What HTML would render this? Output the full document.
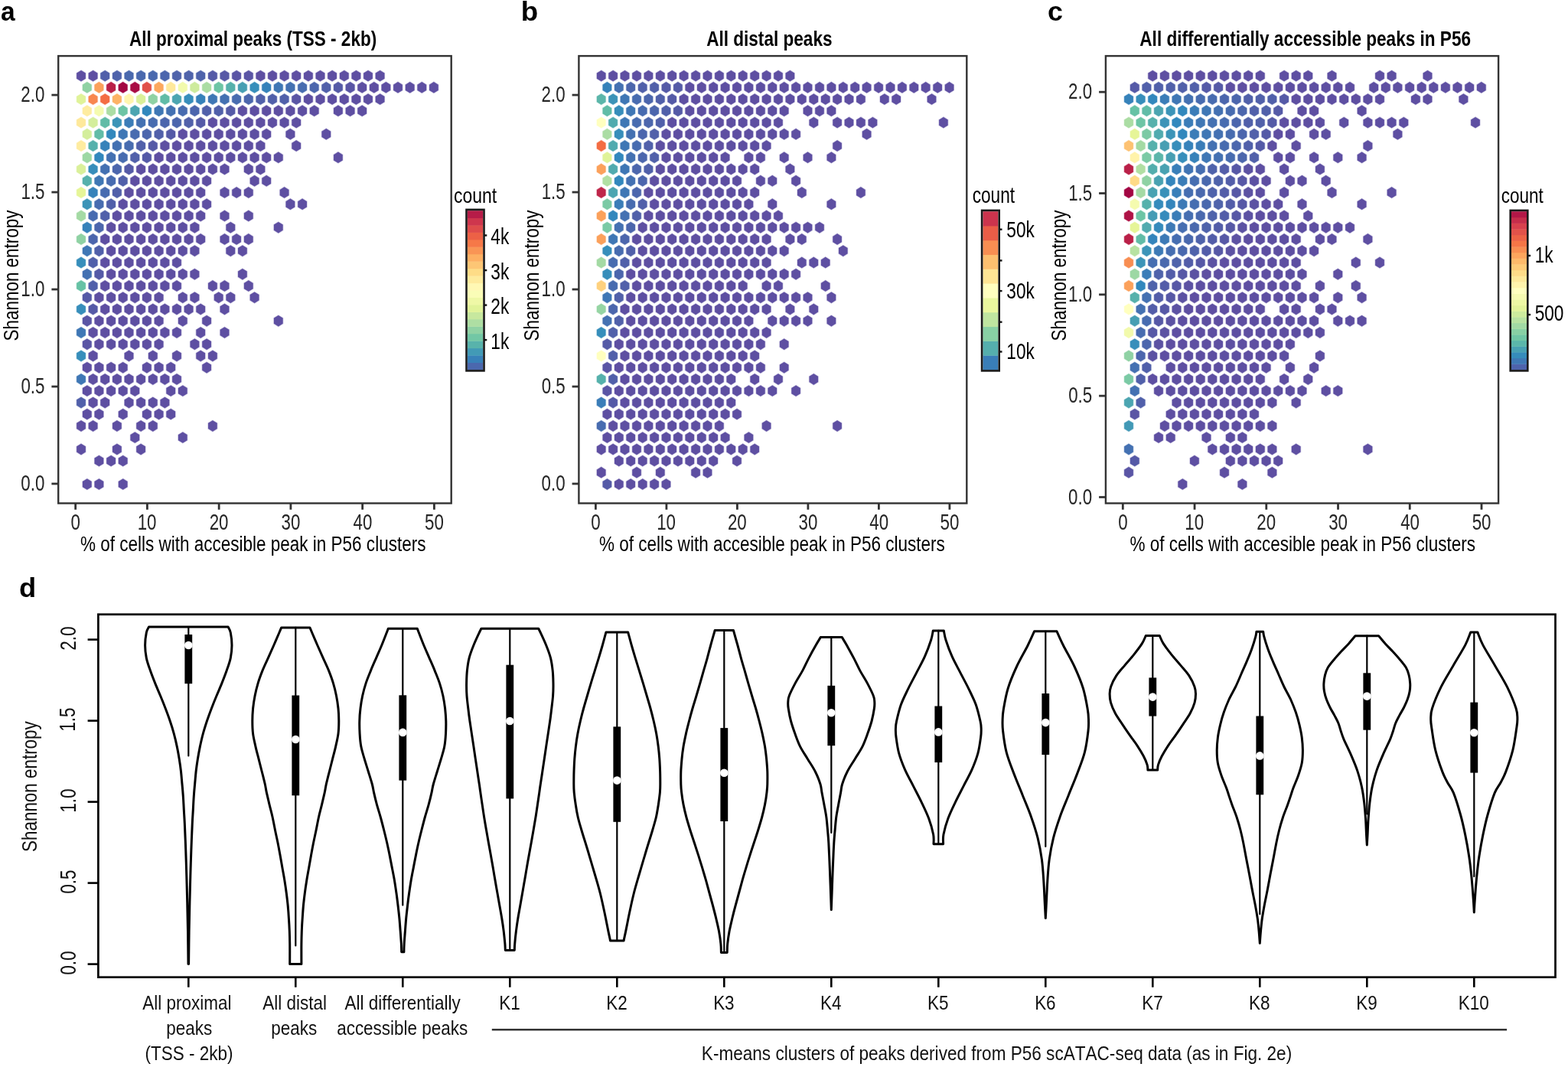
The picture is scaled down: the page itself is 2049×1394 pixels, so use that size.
<!DOCTYPE html>
<html><head><meta charset="utf-8"><title>Figure</title>
<style>html,body{margin:0;padding:0;background:#fff;}svg{display:block;}
text{font-family:"Liberation Sans",Arial,sans-serif;font-kerning:none;}</style></head>
<body><svg width="2049" height="1394" viewBox="0 0 2049 1394">
<rect width="2049" height="1394" fill="#fff"/>
<text x="0.92" y="27.46" font-size="34.77" textLength="18.67" lengthAdjust="spacingAndGlyphs" font-weight="bold">a</text>
<text x="680.88" y="27.46" font-size="34.93" textLength="22.43" lengthAdjust="spacingAndGlyphs" font-weight="bold">b</text>
<text x="1369.10" y="27.46" font-size="34.68" textLength="19.95" lengthAdjust="spacingAndGlyphs" font-weight="bold">c</text>
<text x="25.11" y="780.36" font-size="34.59" textLength="22.18" lengthAdjust="spacingAndGlyphs" font-weight="bold">d</text>
<g stroke-width="1.3" stroke-opacity="0.35"><path d="M106.0 91.9l5.86 3.61 0 7.22 -5.86 3.61 -5.86 -3.61 0 -7.22z" fill="#5e4fa2" stroke="#5e4fa2"/>
<path d="M121.6 91.9l5.86 3.61 0 7.22 -5.86 3.61 -5.86 -3.61 0 -7.22z" fill="#5e4fa2" stroke="#5e4fa2"/>
<path d="M137.2 91.9l5.86 3.61 0 7.22 -5.86 3.61 -5.86 -3.61 0 -7.22z" fill="#5160aa" stroke="#5160aa"/>
<path d="M152.9 91.9l5.86 3.61 0 7.22 -5.86 3.61 -5.86 -3.61 0 -7.22z" fill="#4f63ab" stroke="#4f63ab"/>
<path d="M168.5 91.9l5.86 3.61 0 7.22 -5.86 3.61 -5.86 -3.61 0 -7.22z" fill="#4a69ae" stroke="#4a69ae"/>
<path d="M184.1 91.9l5.86 3.61 0 7.22 -5.86 3.61 -5.86 -3.61 0 -7.22z" fill="#4a69ae" stroke="#4a69ae"/>
<path d="M199.8 91.9l5.86 3.61 0 7.22 -5.86 3.61 -5.86 -3.61 0 -7.22z" fill="#4a69ae" stroke="#4a69ae"/>
<path d="M215.4 91.9l5.86 3.61 0 7.22 -5.86 3.61 -5.86 -3.61 0 -7.22z" fill="#4c66ad" stroke="#4c66ad"/>
<path d="M231.0 91.9l5.86 3.61 0 7.22 -5.86 3.61 -5.86 -3.61 0 -7.22z" fill="#4f63ab" stroke="#4f63ab"/>
<path d="M246.6 91.9l5.86 3.61 0 7.22 -5.86 3.61 -5.86 -3.61 0 -7.22z" fill="#4f63ab" stroke="#4f63ab"/>
<path d="M262.2 91.9l5.86 3.61 0 7.22 -5.86 3.61 -5.86 -3.61 0 -7.22z" fill="#4f63ab" stroke="#4f63ab"/>
<path d="M277.9 91.9l5.86 3.61 0 7.22 -5.86 3.61 -5.86 -3.61 0 -7.22z" fill="#555aa7" stroke="#555aa7"/>
<path d="M293.5 91.9l5.86 3.61 0 7.22 -5.86 3.61 -5.86 -3.61 0 -7.22z" fill="#5758a6" stroke="#5758a6"/>
<path d="M309.1 91.9l5.86 3.61 0 7.22 -5.86 3.61 -5.86 -3.61 0 -7.22z" fill="#5a55a5" stroke="#5a55a5"/>
<path d="M324.8 91.9l5.86 3.61 0 7.22 -5.86 3.61 -5.86 -3.61 0 -7.22z" fill="#5a55a5" stroke="#5a55a5"/>
<path d="M340.4 91.9l5.86 3.61 0 7.22 -5.86 3.61 -5.86 -3.61 0 -7.22z" fill="#5e4fa2" stroke="#5e4fa2"/>
<path d="M356.0 91.9l5.86 3.61 0 7.22 -5.86 3.61 -5.86 -3.61 0 -7.22z" fill="#5e4fa2" stroke="#5e4fa2"/>
<path d="M371.6 91.9l5.86 3.61 0 7.22 -5.86 3.61 -5.86 -3.61 0 -7.22z" fill="#5e4fa2" stroke="#5e4fa2"/>
<path d="M387.2 91.9l5.86 3.61 0 7.22 -5.86 3.61 -5.86 -3.61 0 -7.22z" fill="#5e4fa2" stroke="#5e4fa2"/>
<path d="M402.9 91.9l5.86 3.61 0 7.22 -5.86 3.61 -5.86 -3.61 0 -7.22z" fill="#5e4fa2" stroke="#5e4fa2"/>
<path d="M418.5 91.9l5.86 3.61 0 7.22 -5.86 3.61 -5.86 -3.61 0 -7.22z" fill="#5e4fa2" stroke="#5e4fa2"/>
<path d="M434.1 91.9l5.86 3.61 0 7.22 -5.86 3.61 -5.86 -3.61 0 -7.22z" fill="#5e4fa2" stroke="#5e4fa2"/>
<path d="M449.8 91.9l5.86 3.61 0 7.22 -5.86 3.61 -5.86 -3.61 0 -7.22z" fill="#5e4fa2" stroke="#5e4fa2"/>
<path d="M465.4 91.9l5.86 3.61 0 7.22 -5.86 3.61 -5.86 -3.61 0 -7.22z" fill="#5e4fa2" stroke="#5e4fa2"/>
<path d="M481.0 91.9l5.86 3.61 0 7.22 -5.86 3.61 -5.86 -3.61 0 -7.22z" fill="#5e4fa2" stroke="#5e4fa2"/>
<path d="M496.6 91.9l5.86 3.61 0 7.22 -5.86 3.61 -5.86 -3.61 0 -7.22z" fill="#5e4fa2" stroke="#5e4fa2"/>
<path d="M113.8 107.1l5.86 3.61 0 7.22 -5.86 3.61 -5.86 -3.61 0 -7.22z" fill="#8fd2a4" stroke="#8fd2a4"/>
<path d="M129.4 107.1l5.86 3.61 0 7.22 -5.86 3.61 -5.86 -3.61 0 -7.22z" fill="#fba15b" stroke="#fba15b"/>
<path d="M145.1 107.1l5.86 3.61 0 7.22 -5.86 3.61 -5.86 -3.61 0 -7.22z" fill="#ba2048" stroke="#ba2048"/>
<path d="M160.7 107.1l5.86 3.61 0 7.22 -5.86 3.61 -5.86 -3.61 0 -7.22z" fill="#a30743" stroke="#a30743"/>
<path d="M176.3 107.1l5.86 3.61 0 7.22 -5.86 3.61 -5.86 -3.61 0 -7.22z" fill="#a90d45" stroke="#a90d45"/>
<path d="M191.9 107.1l5.86 3.61 0 7.22 -5.86 3.61 -5.86 -3.61 0 -7.22z" fill="#e1514a" stroke="#e1514a"/>
<path d="M207.6 107.1l5.86 3.61 0 7.22 -5.86 3.61 -5.86 -3.61 0 -7.22z" fill="#fca85e" stroke="#fca85e"/>
<path d="M223.2 107.1l5.86 3.61 0 7.22 -5.86 3.61 -5.86 -3.61 0 -7.22z" fill="#fee99b" stroke="#fee99b"/>
<path d="M238.8 107.1l5.86 3.61 0 7.22 -5.86 3.61 -5.86 -3.61 0 -7.22z" fill="#f2faac" stroke="#f2faac"/>
<path d="M254.4 107.1l5.86 3.61 0 7.22 -5.86 3.61 -5.86 -3.61 0 -7.22z" fill="#ceeb9d" stroke="#ceeb9d"/>
<path d="M270.1 107.1l5.86 3.61 0 7.22 -5.86 3.61 -5.86 -3.61 0 -7.22z" fill="#abdda4" stroke="#abdda4"/>
<path d="M285.7 107.1l5.86 3.61 0 7.22 -5.86 3.61 -5.86 -3.61 0 -7.22z" fill="#6dc5a5" stroke="#6dc5a5"/>
<path d="M301.3 107.1l5.86 3.61 0 7.22 -5.86 3.61 -5.86 -3.61 0 -7.22z" fill="#56b1ac" stroke="#56b1ac"/>
<path d="M316.9 107.1l5.86 3.61 0 7.22 -5.86 3.61 -5.86 -3.61 0 -7.22z" fill="#479fb3" stroke="#479fb3"/>
<path d="M332.6 107.1l5.86 3.61 0 7.22 -5.86 3.61 -5.86 -3.61 0 -7.22z" fill="#378ebb" stroke="#378ebb"/>
<path d="M348.2 107.1l5.86 3.61 0 7.22 -5.86 3.61 -5.86 -3.61 0 -7.22z" fill="#3682ba" stroke="#3682ba"/>
<path d="M363.8 107.1l5.86 3.61 0 7.22 -5.86 3.61 -5.86 -3.61 0 -7.22z" fill="#3f77b5" stroke="#3f77b5"/>
<path d="M379.4 107.1l5.86 3.61 0 7.22 -5.86 3.61 -5.86 -3.61 0 -7.22z" fill="#4471b2" stroke="#4471b2"/>
<path d="M395.1 107.1l5.86 3.61 0 7.22 -5.86 3.61 -5.86 -3.61 0 -7.22z" fill="#486cb0" stroke="#486cb0"/>
<path d="M410.7 107.1l5.86 3.61 0 7.22 -5.86 3.61 -5.86 -3.61 0 -7.22z" fill="#4c66ad" stroke="#4c66ad"/>
<path d="M426.3 107.1l5.86 3.61 0 7.22 -5.86 3.61 -5.86 -3.61 0 -7.22z" fill="#5160aa" stroke="#5160aa"/>
<path d="M441.9 107.1l5.86 3.61 0 7.22 -5.86 3.61 -5.86 -3.61 0 -7.22z" fill="#555aa7" stroke="#555aa7"/>
<path d="M457.6 107.1l5.86 3.61 0 7.22 -5.86 3.61 -5.86 -3.61 0 -7.22z" fill="#5a55a5" stroke="#5a55a5"/>
<path d="M473.2 107.1l5.86 3.61 0 7.22 -5.86 3.61 -5.86 -3.61 0 -7.22z" fill="#5e4fa2" stroke="#5e4fa2"/>
<path d="M488.8 107.1l5.86 3.61 0 7.22 -5.86 3.61 -5.86 -3.61 0 -7.22z" fill="#5e4fa2" stroke="#5e4fa2"/>
<path d="M504.4 107.1l5.86 3.61 0 7.22 -5.86 3.61 -5.86 -3.61 0 -7.22z" fill="#5e4fa2" stroke="#5e4fa2"/>
<path d="M520.0 107.1l5.86 3.61 0 7.22 -5.86 3.61 -5.86 -3.61 0 -7.22z" fill="#5e4fa2" stroke="#5e4fa2"/>
<path d="M535.7 107.1l5.86 3.61 0 7.22 -5.86 3.61 -5.86 -3.61 0 -7.22z" fill="#5e4fa2" stroke="#5e4fa2"/>
<path d="M551.3 107.1l5.86 3.61 0 7.22 -5.86 3.61 -5.86 -3.61 0 -7.22z" fill="#5e4fa2" stroke="#5e4fa2"/>
<path d="M566.9 107.1l5.86 3.61 0 7.22 -5.86 3.61 -5.86 -3.61 0 -7.22z" fill="#5e4fa2" stroke="#5e4fa2"/>
<path d="M106.0 122.4l5.86 3.61 0 7.22 -5.86 3.61 -5.86 -3.61 0 -7.22z" fill="#e0f399" stroke="#e0f399"/>
<path d="M121.6 122.4l5.86 3.61 0 7.22 -5.86 3.61 -5.86 -3.61 0 -7.22z" fill="#f8874f" stroke="#f8874f"/>
<path d="M137.2 122.4l5.86 3.61 0 7.22 -5.86 3.61 -5.86 -3.61 0 -7.22z" fill="#f46d43" stroke="#f46d43"/>
<path d="M152.9 122.4l5.86 3.61 0 7.22 -5.86 3.61 -5.86 -3.61 0 -7.22z" fill="#fdb365" stroke="#fdb365"/>
<path d="M168.5 122.4l5.86 3.61 0 7.22 -5.86 3.61 -5.86 -3.61 0 -7.22z" fill="#fff6af" stroke="#fff6af"/>
<path d="M184.1 122.4l5.86 3.61 0 7.22 -5.86 3.61 -5.86 -3.61 0 -7.22z" fill="#daf09a" stroke="#daf09a"/>
<path d="M199.8 122.4l5.86 3.61 0 7.22 -5.86 3.61 -5.86 -3.61 0 -7.22z" fill="#8fd2a4" stroke="#8fd2a4"/>
<path d="M215.4 122.4l5.86 3.61 0 7.22 -5.86 3.61 -5.86 -3.61 0 -7.22z" fill="#61bca7" stroke="#61bca7"/>
<path d="M231.0 122.4l5.86 3.61 0 7.22 -5.86 3.61 -5.86 -3.61 0 -7.22z" fill="#4ca5b1" stroke="#4ca5b1"/>
<path d="M246.6 122.4l5.86 3.61 0 7.22 -5.86 3.61 -5.86 -3.61 0 -7.22z" fill="#378ebb" stroke="#378ebb"/>
<path d="M262.2 122.4l5.86 3.61 0 7.22 -5.86 3.61 -5.86 -3.61 0 -7.22z" fill="#3682ba" stroke="#3682ba"/>
<path d="M277.9 122.4l5.86 3.61 0 7.22 -5.86 3.61 -5.86 -3.61 0 -7.22z" fill="#3f77b5" stroke="#3f77b5"/>
<path d="M293.5 122.4l5.86 3.61 0 7.22 -5.86 3.61 -5.86 -3.61 0 -7.22z" fill="#4471b2" stroke="#4471b2"/>
<path d="M309.1 122.4l5.86 3.61 0 7.22 -5.86 3.61 -5.86 -3.61 0 -7.22z" fill="#486cb0" stroke="#486cb0"/>
<path d="M324.8 122.4l5.86 3.61 0 7.22 -5.86 3.61 -5.86 -3.61 0 -7.22z" fill="#4c66ad" stroke="#4c66ad"/>
<path d="M340.4 122.4l5.86 3.61 0 7.22 -5.86 3.61 -5.86 -3.61 0 -7.22z" fill="#5160aa" stroke="#5160aa"/>
<path d="M356.0 122.4l5.86 3.61 0 7.22 -5.86 3.61 -5.86 -3.61 0 -7.22z" fill="#5160aa" stroke="#5160aa"/>
<path d="M371.6 122.4l5.86 3.61 0 7.22 -5.86 3.61 -5.86 -3.61 0 -7.22z" fill="#5160aa" stroke="#5160aa"/>
<path d="M387.2 122.4l5.86 3.61 0 7.22 -5.86 3.61 -5.86 -3.61 0 -7.22z" fill="#5a55a5" stroke="#5a55a5"/>
<path d="M402.9 122.4l5.86 3.61 0 7.22 -5.86 3.61 -5.86 -3.61 0 -7.22z" fill="#5e4fa2" stroke="#5e4fa2"/>
<path d="M418.5 122.4l5.86 3.61 0 7.22 -5.86 3.61 -5.86 -3.61 0 -7.22z" fill="#5e4fa2" stroke="#5e4fa2"/>
<path d="M434.1 122.4l5.86 3.61 0 7.22 -5.86 3.61 -5.86 -3.61 0 -7.22z" fill="#5e4fa2" stroke="#5e4fa2"/>
<path d="M449.8 122.4l5.86 3.61 0 7.22 -5.86 3.61 -5.86 -3.61 0 -7.22z" fill="#5e4fa2" stroke="#5e4fa2"/>
<path d="M465.4 122.4l5.86 3.61 0 7.22 -5.86 3.61 -5.86 -3.61 0 -7.22z" fill="#5e4fa2" stroke="#5e4fa2"/>
<path d="M481.0 122.4l5.86 3.61 0 7.22 -5.86 3.61 -5.86 -3.61 0 -7.22z" fill="#5e4fa2" stroke="#5e4fa2"/>
<path d="M496.6 122.4l5.86 3.61 0 7.22 -5.86 3.61 -5.86 -3.61 0 -7.22z" fill="#5e4fa2" stroke="#5e4fa2"/>
<path d="M113.8 137.6l5.86 3.61 0 7.22 -5.86 3.61 -5.86 -3.61 0 -7.22z" fill="#feeca0" stroke="#feeca0"/>
<path d="M129.4 137.6l5.86 3.61 0 7.22 -5.86 3.61 -5.86 -3.61 0 -7.22z" fill="#f5fbaf" stroke="#f5fbaf"/>
<path d="M145.1 137.6l5.86 3.61 0 7.22 -5.86 3.61 -5.86 -3.61 0 -7.22z" fill="#abdda4" stroke="#abdda4"/>
<path d="M160.7 137.6l5.86 3.61 0 7.22 -5.86 3.61 -5.86 -3.61 0 -7.22z" fill="#6dc5a5" stroke="#6dc5a5"/>
<path d="M176.3 137.6l5.86 3.61 0 7.22 -5.86 3.61 -5.86 -3.61 0 -7.22z" fill="#4ca5b1" stroke="#4ca5b1"/>
<path d="M191.9 137.6l5.86 3.61 0 7.22 -5.86 3.61 -5.86 -3.61 0 -7.22z" fill="#3288bd" stroke="#3288bd"/>
<path d="M207.6 137.6l5.86 3.61 0 7.22 -5.86 3.61 -5.86 -3.61 0 -7.22z" fill="#3f77b5" stroke="#3f77b5"/>
<path d="M223.2 137.6l5.86 3.61 0 7.22 -5.86 3.61 -5.86 -3.61 0 -7.22z" fill="#4471b2" stroke="#4471b2"/>
<path d="M238.8 137.6l5.86 3.61 0 7.22 -5.86 3.61 -5.86 -3.61 0 -7.22z" fill="#486cb0" stroke="#486cb0"/>
<path d="M254.4 137.6l5.86 3.61 0 7.22 -5.86 3.61 -5.86 -3.61 0 -7.22z" fill="#4c66ad" stroke="#4c66ad"/>
<path d="M270.1 137.6l5.86 3.61 0 7.22 -5.86 3.61 -5.86 -3.61 0 -7.22z" fill="#5160aa" stroke="#5160aa"/>
<path d="M285.7 137.6l5.86 3.61 0 7.22 -5.86 3.61 -5.86 -3.61 0 -7.22z" fill="#5160aa" stroke="#5160aa"/>
<path d="M301.3 137.6l5.86 3.61 0 7.22 -5.86 3.61 -5.86 -3.61 0 -7.22z" fill="#555aa7" stroke="#555aa7"/>
<path d="M316.9 137.6l5.86 3.61 0 7.22 -5.86 3.61 -5.86 -3.61 0 -7.22z" fill="#5e4fa2" stroke="#5e4fa2"/>
<path d="M332.6 137.6l5.86 3.61 0 7.22 -5.86 3.61 -5.86 -3.61 0 -7.22z" fill="#5e4fa2" stroke="#5e4fa2"/>
<path d="M348.2 137.6l5.86 3.61 0 7.22 -5.86 3.61 -5.86 -3.61 0 -7.22z" fill="#5e4fa2" stroke="#5e4fa2"/>
<path d="M363.8 137.6l5.86 3.61 0 7.22 -5.86 3.61 -5.86 -3.61 0 -7.22z" fill="#5e4fa2" stroke="#5e4fa2"/>
<path d="M379.4 137.6l5.86 3.61 0 7.22 -5.86 3.61 -5.86 -3.61 0 -7.22z" fill="#5e4fa2" stroke="#5e4fa2"/>
<path d="M395.1 137.6l5.86 3.61 0 7.22 -5.86 3.61 -5.86 -3.61 0 -7.22z" fill="#5e4fa2" stroke="#5e4fa2"/>
<path d="M410.7 137.6l5.86 3.61 0 7.22 -5.86 3.61 -5.86 -3.61 0 -7.22z" fill="#5e4fa2" stroke="#5e4fa2"/>
<path d="M441.9 137.6l5.86 3.61 0 7.22 -5.86 3.61 -5.86 -3.61 0 -7.22z" fill="#5e4fa2" stroke="#5e4fa2"/>
<path d="M457.6 137.6l5.86 3.61 0 7.22 -5.86 3.61 -5.86 -3.61 0 -7.22z" fill="#5e4fa2" stroke="#5e4fa2"/>
<path d="M473.2 137.6l5.86 3.61 0 7.22 -5.86 3.61 -5.86 -3.61 0 -7.22z" fill="#5e4fa2" stroke="#5e4fa2"/>
<path d="M106.0 152.9l5.86 3.61 0 7.22 -5.86 3.61 -5.86 -3.61 0 -7.22z" fill="#fee99b" stroke="#fee99b"/>
<path d="M121.6 152.9l5.86 3.61 0 7.22 -5.86 3.61 -5.86 -3.61 0 -7.22z" fill="#d4ee9c" stroke="#d4ee9c"/>
<path d="M137.2 152.9l5.86 3.61 0 7.22 -5.86 3.61 -5.86 -3.61 0 -7.22z" fill="#61bca7" stroke="#61bca7"/>
<path d="M152.9 152.9l5.86 3.61 0 7.22 -5.86 3.61 -5.86 -3.61 0 -7.22z" fill="#3c94b8" stroke="#3c94b8"/>
<path d="M168.5 152.9l5.86 3.61 0 7.22 -5.86 3.61 -5.86 -3.61 0 -7.22z" fill="#3b7db8" stroke="#3b7db8"/>
<path d="M184.1 152.9l5.86 3.61 0 7.22 -5.86 3.61 -5.86 -3.61 0 -7.22z" fill="#4471b2" stroke="#4471b2"/>
<path d="M199.8 152.9l5.86 3.61 0 7.22 -5.86 3.61 -5.86 -3.61 0 -7.22z" fill="#486cb0" stroke="#486cb0"/>
<path d="M215.4 152.9l5.86 3.61 0 7.22 -5.86 3.61 -5.86 -3.61 0 -7.22z" fill="#4c66ad" stroke="#4c66ad"/>
<path d="M231.0 152.9l5.86 3.61 0 7.22 -5.86 3.61 -5.86 -3.61 0 -7.22z" fill="#4c66ad" stroke="#4c66ad"/>
<path d="M246.6 152.9l5.86 3.61 0 7.22 -5.86 3.61 -5.86 -3.61 0 -7.22z" fill="#5160aa" stroke="#5160aa"/>
<path d="M262.2 152.9l5.86 3.61 0 7.22 -5.86 3.61 -5.86 -3.61 0 -7.22z" fill="#555aa7" stroke="#555aa7"/>
<path d="M277.9 152.9l5.86 3.61 0 7.22 -5.86 3.61 -5.86 -3.61 0 -7.22z" fill="#5e4fa2" stroke="#5e4fa2"/>
<path d="M293.5 152.9l5.86 3.61 0 7.22 -5.86 3.61 -5.86 -3.61 0 -7.22z" fill="#5e4fa2" stroke="#5e4fa2"/>
<path d="M309.1 152.9l5.86 3.61 0 7.22 -5.86 3.61 -5.86 -3.61 0 -7.22z" fill="#5e4fa2" stroke="#5e4fa2"/>
<path d="M324.8 152.9l5.86 3.61 0 7.22 -5.86 3.61 -5.86 -3.61 0 -7.22z" fill="#5e4fa2" stroke="#5e4fa2"/>
<path d="M340.4 152.9l5.86 3.61 0 7.22 -5.86 3.61 -5.86 -3.61 0 -7.22z" fill="#5e4fa2" stroke="#5e4fa2"/>
<path d="M356.0 152.9l5.86 3.61 0 7.22 -5.86 3.61 -5.86 -3.61 0 -7.22z" fill="#5e4fa2" stroke="#5e4fa2"/>
<path d="M371.6 152.9l5.86 3.61 0 7.22 -5.86 3.61 -5.86 -3.61 0 -7.22z" fill="#5e4fa2" stroke="#5e4fa2"/>
<path d="M387.2 152.9l5.86 3.61 0 7.22 -5.86 3.61 -5.86 -3.61 0 -7.22z" fill="#5e4fa2" stroke="#5e4fa2"/>
<path d="M113.8 168.1l5.86 3.61 0 7.22 -5.86 3.61 -5.86 -3.61 0 -7.22z" fill="#d4ee9c" stroke="#d4ee9c"/>
<path d="M129.4 168.1l5.86 3.61 0 7.22 -5.86 3.61 -5.86 -3.61 0 -7.22z" fill="#61bca7" stroke="#61bca7"/>
<path d="M145.1 168.1l5.86 3.61 0 7.22 -5.86 3.61 -5.86 -3.61 0 -7.22z" fill="#3288bd" stroke="#3288bd"/>
<path d="M160.7 168.1l5.86 3.61 0 7.22 -5.86 3.61 -5.86 -3.61 0 -7.22z" fill="#3f77b5" stroke="#3f77b5"/>
<path d="M176.3 168.1l5.86 3.61 0 7.22 -5.86 3.61 -5.86 -3.61 0 -7.22z" fill="#486cb0" stroke="#486cb0"/>
<path d="M191.9 168.1l5.86 3.61 0 7.22 -5.86 3.61 -5.86 -3.61 0 -7.22z" fill="#4c66ad" stroke="#4c66ad"/>
<path d="M207.6 168.1l5.86 3.61 0 7.22 -5.86 3.61 -5.86 -3.61 0 -7.22z" fill="#5160aa" stroke="#5160aa"/>
<path d="M223.2 168.1l5.86 3.61 0 7.22 -5.86 3.61 -5.86 -3.61 0 -7.22z" fill="#555aa7" stroke="#555aa7"/>
<path d="M238.8 168.1l5.86 3.61 0 7.22 -5.86 3.61 -5.86 -3.61 0 -7.22z" fill="#5e4fa2" stroke="#5e4fa2"/>
<path d="M254.4 168.1l5.86 3.61 0 7.22 -5.86 3.61 -5.86 -3.61 0 -7.22z" fill="#5e4fa2" stroke="#5e4fa2"/>
<path d="M270.1 168.1l5.86 3.61 0 7.22 -5.86 3.61 -5.86 -3.61 0 -7.22z" fill="#5e4fa2" stroke="#5e4fa2"/>
<path d="M285.7 168.1l5.86 3.61 0 7.22 -5.86 3.61 -5.86 -3.61 0 -7.22z" fill="#5e4fa2" stroke="#5e4fa2"/>
<path d="M301.3 168.1l5.86 3.61 0 7.22 -5.86 3.61 -5.86 -3.61 0 -7.22z" fill="#5e4fa2" stroke="#5e4fa2"/>
<path d="M316.9 168.1l5.86 3.61 0 7.22 -5.86 3.61 -5.86 -3.61 0 -7.22z" fill="#5e4fa2" stroke="#5e4fa2"/>
<path d="M332.6 168.1l5.86 3.61 0 7.22 -5.86 3.61 -5.86 -3.61 0 -7.22z" fill="#5e4fa2" stroke="#5e4fa2"/>
<path d="M348.2 168.1l5.86 3.61 0 7.22 -5.86 3.61 -5.86 -3.61 0 -7.22z" fill="#5e4fa2" stroke="#5e4fa2"/>
<path d="M379.4 168.1l5.86 3.61 0 7.22 -5.86 3.61 -5.86 -3.61 0 -7.22z" fill="#5e4fa2" stroke="#5e4fa2"/>
<path d="M426.3 168.1l5.86 3.61 0 7.22 -5.86 3.61 -5.86 -3.61 0 -7.22z" fill="#5e4fa2" stroke="#5e4fa2"/>
<path d="M106.0 183.3l5.86 3.61 0 7.22 -5.86 3.61 -5.86 -3.61 0 -7.22z" fill="#feeca0" stroke="#feeca0"/>
<path d="M121.6 183.3l5.86 3.61 0 7.22 -5.86 3.61 -5.86 -3.61 0 -7.22z" fill="#56b1ac" stroke="#56b1ac"/>
<path d="M137.2 183.3l5.86 3.61 0 7.22 -5.86 3.61 -5.86 -3.61 0 -7.22z" fill="#3682ba" stroke="#3682ba"/>
<path d="M152.9 183.3l5.86 3.61 0 7.22 -5.86 3.61 -5.86 -3.61 0 -7.22z" fill="#4471b2" stroke="#4471b2"/>
<path d="M168.5 183.3l5.86 3.61 0 7.22 -5.86 3.61 -5.86 -3.61 0 -7.22z" fill="#486cb0" stroke="#486cb0"/>
<path d="M184.1 183.3l5.86 3.61 0 7.22 -5.86 3.61 -5.86 -3.61 0 -7.22z" fill="#5160aa" stroke="#5160aa"/>
<path d="M199.8 183.3l5.86 3.61 0 7.22 -5.86 3.61 -5.86 -3.61 0 -7.22z" fill="#555aa7" stroke="#555aa7"/>
<path d="M215.4 183.3l5.86 3.61 0 7.22 -5.86 3.61 -5.86 -3.61 0 -7.22z" fill="#5e4fa2" stroke="#5e4fa2"/>
<path d="M231.0 183.3l5.86 3.61 0 7.22 -5.86 3.61 -5.86 -3.61 0 -7.22z" fill="#5e4fa2" stroke="#5e4fa2"/>
<path d="M246.6 183.3l5.86 3.61 0 7.22 -5.86 3.61 -5.86 -3.61 0 -7.22z" fill="#5e4fa2" stroke="#5e4fa2"/>
<path d="M262.2 183.3l5.86 3.61 0 7.22 -5.86 3.61 -5.86 -3.61 0 -7.22z" fill="#5e4fa2" stroke="#5e4fa2"/>
<path d="M277.9 183.3l5.86 3.61 0 7.22 -5.86 3.61 -5.86 -3.61 0 -7.22z" fill="#5e4fa2" stroke="#5e4fa2"/>
<path d="M293.5 183.3l5.86 3.61 0 7.22 -5.86 3.61 -5.86 -3.61 0 -7.22z" fill="#5e4fa2" stroke="#5e4fa2"/>
<path d="M309.1 183.3l5.86 3.61 0 7.22 -5.86 3.61 -5.86 -3.61 0 -7.22z" fill="#5e4fa2" stroke="#5e4fa2"/>
<path d="M324.8 183.3l5.86 3.61 0 7.22 -5.86 3.61 -5.86 -3.61 0 -7.22z" fill="#5e4fa2" stroke="#5e4fa2"/>
<path d="M340.4 183.3l5.86 3.61 0 7.22 -5.86 3.61 -5.86 -3.61 0 -7.22z" fill="#5e4fa2" stroke="#5e4fa2"/>
<path d="M387.2 183.3l5.86 3.61 0 7.22 -5.86 3.61 -5.86 -3.61 0 -7.22z" fill="#5e4fa2" stroke="#5e4fa2"/>
<path d="M113.8 198.6l5.86 3.61 0 7.22 -5.86 3.61 -5.86 -3.61 0 -7.22z" fill="#9dd8a4" stroke="#9dd8a4"/>
<path d="M129.4 198.6l5.86 3.61 0 7.22 -5.86 3.61 -5.86 -3.61 0 -7.22z" fill="#3288bd" stroke="#3288bd"/>
<path d="M145.1 198.6l5.86 3.61 0 7.22 -5.86 3.61 -5.86 -3.61 0 -7.22z" fill="#4471b2" stroke="#4471b2"/>
<path d="M160.7 198.6l5.86 3.61 0 7.22 -5.86 3.61 -5.86 -3.61 0 -7.22z" fill="#486cb0" stroke="#486cb0"/>
<path d="M176.3 198.6l5.86 3.61 0 7.22 -5.86 3.61 -5.86 -3.61 0 -7.22z" fill="#5160aa" stroke="#5160aa"/>
<path d="M191.9 198.6l5.86 3.61 0 7.22 -5.86 3.61 -5.86 -3.61 0 -7.22z" fill="#555aa7" stroke="#555aa7"/>
<path d="M207.6 198.6l5.86 3.61 0 7.22 -5.86 3.61 -5.86 -3.61 0 -7.22z" fill="#5e4fa2" stroke="#5e4fa2"/>
<path d="M223.2 198.6l5.86 3.61 0 7.22 -5.86 3.61 -5.86 -3.61 0 -7.22z" fill="#5e4fa2" stroke="#5e4fa2"/>
<path d="M238.8 198.6l5.86 3.61 0 7.22 -5.86 3.61 -5.86 -3.61 0 -7.22z" fill="#5e4fa2" stroke="#5e4fa2"/>
<path d="M254.4 198.6l5.86 3.61 0 7.22 -5.86 3.61 -5.86 -3.61 0 -7.22z" fill="#5e4fa2" stroke="#5e4fa2"/>
<path d="M270.1 198.6l5.86 3.61 0 7.22 -5.86 3.61 -5.86 -3.61 0 -7.22z" fill="#5e4fa2" stroke="#5e4fa2"/>
<path d="M285.7 198.6l5.86 3.61 0 7.22 -5.86 3.61 -5.86 -3.61 0 -7.22z" fill="#5e4fa2" stroke="#5e4fa2"/>
<path d="M301.3 198.6l5.86 3.61 0 7.22 -5.86 3.61 -5.86 -3.61 0 -7.22z" fill="#5e4fa2" stroke="#5e4fa2"/>
<path d="M316.9 198.6l5.86 3.61 0 7.22 -5.86 3.61 -5.86 -3.61 0 -7.22z" fill="#5e4fa2" stroke="#5e4fa2"/>
<path d="M332.6 198.6l5.86 3.61 0 7.22 -5.86 3.61 -5.86 -3.61 0 -7.22z" fill="#5e4fa2" stroke="#5e4fa2"/>
<path d="M348.2 198.6l5.86 3.61 0 7.22 -5.86 3.61 -5.86 -3.61 0 -7.22z" fill="#5e4fa2" stroke="#5e4fa2"/>
<path d="M363.8 198.6l5.86 3.61 0 7.22 -5.86 3.61 -5.86 -3.61 0 -7.22z" fill="#5e4fa2" stroke="#5e4fa2"/>
<path d="M441.9 198.6l5.86 3.61 0 7.22 -5.86 3.61 -5.86 -3.61 0 -7.22z" fill="#5e4fa2" stroke="#5e4fa2"/>
<path d="M106.0 213.8l5.86 3.61 0 7.22 -5.86 3.61 -5.86 -3.61 0 -7.22z" fill="#daf09a" stroke="#daf09a"/>
<path d="M121.6 213.8l5.86 3.61 0 7.22 -5.86 3.61 -5.86 -3.61 0 -7.22z" fill="#378ebb" stroke="#378ebb"/>
<path d="M137.2 213.8l5.86 3.61 0 7.22 -5.86 3.61 -5.86 -3.61 0 -7.22z" fill="#4471b2" stroke="#4471b2"/>
<path d="M152.9 213.8l5.86 3.61 0 7.22 -5.86 3.61 -5.86 -3.61 0 -7.22z" fill="#4c66ad" stroke="#4c66ad"/>
<path d="M168.5 213.8l5.86 3.61 0 7.22 -5.86 3.61 -5.86 -3.61 0 -7.22z" fill="#555aa7" stroke="#555aa7"/>
<path d="M184.1 213.8l5.86 3.61 0 7.22 -5.86 3.61 -5.86 -3.61 0 -7.22z" fill="#5e4fa2" stroke="#5e4fa2"/>
<path d="M199.8 213.8l5.86 3.61 0 7.22 -5.86 3.61 -5.86 -3.61 0 -7.22z" fill="#5e4fa2" stroke="#5e4fa2"/>
<path d="M215.4 213.8l5.86 3.61 0 7.22 -5.86 3.61 -5.86 -3.61 0 -7.22z" fill="#5e4fa2" stroke="#5e4fa2"/>
<path d="M231.0 213.8l5.86 3.61 0 7.22 -5.86 3.61 -5.86 -3.61 0 -7.22z" fill="#5e4fa2" stroke="#5e4fa2"/>
<path d="M246.6 213.8l5.86 3.61 0 7.22 -5.86 3.61 -5.86 -3.61 0 -7.22z" fill="#5e4fa2" stroke="#5e4fa2"/>
<path d="M262.2 213.8l5.86 3.61 0 7.22 -5.86 3.61 -5.86 -3.61 0 -7.22z" fill="#5e4fa2" stroke="#5e4fa2"/>
<path d="M277.9 213.8l5.86 3.61 0 7.22 -5.86 3.61 -5.86 -3.61 0 -7.22z" fill="#5e4fa2" stroke="#5e4fa2"/>
<path d="M293.5 213.8l5.86 3.61 0 7.22 -5.86 3.61 -5.86 -3.61 0 -7.22z" fill="#5e4fa2" stroke="#5e4fa2"/>
<path d="M324.8 213.8l5.86 3.61 0 7.22 -5.86 3.61 -5.86 -3.61 0 -7.22z" fill="#5e4fa2" stroke="#5e4fa2"/>
<path d="M340.4 213.8l5.86 3.61 0 7.22 -5.86 3.61 -5.86 -3.61 0 -7.22z" fill="#5e4fa2" stroke="#5e4fa2"/>
<path d="M113.8 229.1l5.86 3.61 0 7.22 -5.86 3.61 -5.86 -3.61 0 -7.22z" fill="#56b1ac" stroke="#56b1ac"/>
<path d="M129.4 229.1l5.86 3.61 0 7.22 -5.86 3.61 -5.86 -3.61 0 -7.22z" fill="#3f77b5" stroke="#3f77b5"/>
<path d="M145.1 229.1l5.86 3.61 0 7.22 -5.86 3.61 -5.86 -3.61 0 -7.22z" fill="#486cb0" stroke="#486cb0"/>
<path d="M160.7 229.1l5.86 3.61 0 7.22 -5.86 3.61 -5.86 -3.61 0 -7.22z" fill="#5160aa" stroke="#5160aa"/>
<path d="M176.3 229.1l5.86 3.61 0 7.22 -5.86 3.61 -5.86 -3.61 0 -7.22z" fill="#5e4fa2" stroke="#5e4fa2"/>
<path d="M191.9 229.1l5.86 3.61 0 7.22 -5.86 3.61 -5.86 -3.61 0 -7.22z" fill="#5e4fa2" stroke="#5e4fa2"/>
<path d="M207.6 229.1l5.86 3.61 0 7.22 -5.86 3.61 -5.86 -3.61 0 -7.22z" fill="#5e4fa2" stroke="#5e4fa2"/>
<path d="M223.2 229.1l5.86 3.61 0 7.22 -5.86 3.61 -5.86 -3.61 0 -7.22z" fill="#5e4fa2" stroke="#5e4fa2"/>
<path d="M238.8 229.1l5.86 3.61 0 7.22 -5.86 3.61 -5.86 -3.61 0 -7.22z" fill="#5e4fa2" stroke="#5e4fa2"/>
<path d="M254.4 229.1l5.86 3.61 0 7.22 -5.86 3.61 -5.86 -3.61 0 -7.22z" fill="#5e4fa2" stroke="#5e4fa2"/>
<path d="M270.1 229.1l5.86 3.61 0 7.22 -5.86 3.61 -5.86 -3.61 0 -7.22z" fill="#5e4fa2" stroke="#5e4fa2"/>
<path d="M332.6 229.1l5.86 3.61 0 7.22 -5.86 3.61 -5.86 -3.61 0 -7.22z" fill="#5e4fa2" stroke="#5e4fa2"/>
<path d="M348.2 229.1l5.86 3.61 0 7.22 -5.86 3.61 -5.86 -3.61 0 -7.22z" fill="#5e4fa2" stroke="#5e4fa2"/>
<path d="M106.0 244.3l5.86 3.61 0 7.22 -5.86 3.61 -5.86 -3.61 0 -7.22z" fill="#e6f598" stroke="#e6f598"/>
<path d="M121.6 244.3l5.86 3.61 0 7.22 -5.86 3.61 -5.86 -3.61 0 -7.22z" fill="#3682ba" stroke="#3682ba"/>
<path d="M137.2 244.3l5.86 3.61 0 7.22 -5.86 3.61 -5.86 -3.61 0 -7.22z" fill="#486cb0" stroke="#486cb0"/>
<path d="M152.9 244.3l5.86 3.61 0 7.22 -5.86 3.61 -5.86 -3.61 0 -7.22z" fill="#5160aa" stroke="#5160aa"/>
<path d="M168.5 244.3l5.86 3.61 0 7.22 -5.86 3.61 -5.86 -3.61 0 -7.22z" fill="#5e4fa2" stroke="#5e4fa2"/>
<path d="M184.1 244.3l5.86 3.61 0 7.22 -5.86 3.61 -5.86 -3.61 0 -7.22z" fill="#5e4fa2" stroke="#5e4fa2"/>
<path d="M199.8 244.3l5.86 3.61 0 7.22 -5.86 3.61 -5.86 -3.61 0 -7.22z" fill="#5e4fa2" stroke="#5e4fa2"/>
<path d="M215.4 244.3l5.86 3.61 0 7.22 -5.86 3.61 -5.86 -3.61 0 -7.22z" fill="#5e4fa2" stroke="#5e4fa2"/>
<path d="M231.0 244.3l5.86 3.61 0 7.22 -5.86 3.61 -5.86 -3.61 0 -7.22z" fill="#5e4fa2" stroke="#5e4fa2"/>
<path d="M246.6 244.3l5.86 3.61 0 7.22 -5.86 3.61 -5.86 -3.61 0 -7.22z" fill="#5e4fa2" stroke="#5e4fa2"/>
<path d="M262.2 244.3l5.86 3.61 0 7.22 -5.86 3.61 -5.86 -3.61 0 -7.22z" fill="#5e4fa2" stroke="#5e4fa2"/>
<path d="M293.5 244.3l5.86 3.61 0 7.22 -5.86 3.61 -5.86 -3.61 0 -7.22z" fill="#5e4fa2" stroke="#5e4fa2"/>
<path d="M309.1 244.3l5.86 3.61 0 7.22 -5.86 3.61 -5.86 -3.61 0 -7.22z" fill="#5e4fa2" stroke="#5e4fa2"/>
<path d="M324.8 244.3l5.86 3.61 0 7.22 -5.86 3.61 -5.86 -3.61 0 -7.22z" fill="#5e4fa2" stroke="#5e4fa2"/>
<path d="M371.6 244.3l5.86 3.61 0 7.22 -5.86 3.61 -5.86 -3.61 0 -7.22z" fill="#5e4fa2" stroke="#5e4fa2"/>
<path d="M113.8 259.6l5.86 3.61 0 7.22 -5.86 3.61 -5.86 -3.61 0 -7.22z" fill="#3c94b8" stroke="#3c94b8"/>
<path d="M129.4 259.6l5.86 3.61 0 7.22 -5.86 3.61 -5.86 -3.61 0 -7.22z" fill="#486cb0" stroke="#486cb0"/>
<path d="M145.1 259.6l5.86 3.61 0 7.22 -5.86 3.61 -5.86 -3.61 0 -7.22z" fill="#5160aa" stroke="#5160aa"/>
<path d="M160.7 259.6l5.86 3.61 0 7.22 -5.86 3.61 -5.86 -3.61 0 -7.22z" fill="#5e4fa2" stroke="#5e4fa2"/>
<path d="M176.3 259.6l5.86 3.61 0 7.22 -5.86 3.61 -5.86 -3.61 0 -7.22z" fill="#5e4fa2" stroke="#5e4fa2"/>
<path d="M191.9 259.6l5.86 3.61 0 7.22 -5.86 3.61 -5.86 -3.61 0 -7.22z" fill="#5e4fa2" stroke="#5e4fa2"/>
<path d="M207.6 259.6l5.86 3.61 0 7.22 -5.86 3.61 -5.86 -3.61 0 -7.22z" fill="#5e4fa2" stroke="#5e4fa2"/>
<path d="M223.2 259.6l5.86 3.61 0 7.22 -5.86 3.61 -5.86 -3.61 0 -7.22z" fill="#5e4fa2" stroke="#5e4fa2"/>
<path d="M238.8 259.6l5.86 3.61 0 7.22 -5.86 3.61 -5.86 -3.61 0 -7.22z" fill="#5e4fa2" stroke="#5e4fa2"/>
<path d="M254.4 259.6l5.86 3.61 0 7.22 -5.86 3.61 -5.86 -3.61 0 -7.22z" fill="#5e4fa2" stroke="#5e4fa2"/>
<path d="M270.1 259.6l5.86 3.61 0 7.22 -5.86 3.61 -5.86 -3.61 0 -7.22z" fill="#5e4fa2" stroke="#5e4fa2"/>
<path d="M379.4 259.6l5.86 3.61 0 7.22 -5.86 3.61 -5.86 -3.61 0 -7.22z" fill="#5e4fa2" stroke="#5e4fa2"/>
<path d="M395.1 259.6l5.86 3.61 0 7.22 -5.86 3.61 -5.86 -3.61 0 -7.22z" fill="#5e4fa2" stroke="#5e4fa2"/>
<path d="M106.0 274.8l5.86 3.61 0 7.22 -5.86 3.61 -5.86 -3.61 0 -7.22z" fill="#a4daa4" stroke="#a4daa4"/>
<path d="M121.6 274.8l5.86 3.61 0 7.22 -5.86 3.61 -5.86 -3.61 0 -7.22z" fill="#486cb0" stroke="#486cb0"/>
<path d="M137.2 274.8l5.86 3.61 0 7.22 -5.86 3.61 -5.86 -3.61 0 -7.22z" fill="#5160aa" stroke="#5160aa"/>
<path d="M152.9 274.8l5.86 3.61 0 7.22 -5.86 3.61 -5.86 -3.61 0 -7.22z" fill="#5e4fa2" stroke="#5e4fa2"/>
<path d="M168.5 274.8l5.86 3.61 0 7.22 -5.86 3.61 -5.86 -3.61 0 -7.22z" fill="#5e4fa2" stroke="#5e4fa2"/>
<path d="M184.1 274.8l5.86 3.61 0 7.22 -5.86 3.61 -5.86 -3.61 0 -7.22z" fill="#5e4fa2" stroke="#5e4fa2"/>
<path d="M199.8 274.8l5.86 3.61 0 7.22 -5.86 3.61 -5.86 -3.61 0 -7.22z" fill="#5e4fa2" stroke="#5e4fa2"/>
<path d="M215.4 274.8l5.86 3.61 0 7.22 -5.86 3.61 -5.86 -3.61 0 -7.22z" fill="#5e4fa2" stroke="#5e4fa2"/>
<path d="M231.0 274.8l5.86 3.61 0 7.22 -5.86 3.61 -5.86 -3.61 0 -7.22z" fill="#5e4fa2" stroke="#5e4fa2"/>
<path d="M246.6 274.8l5.86 3.61 0 7.22 -5.86 3.61 -5.86 -3.61 0 -7.22z" fill="#5e4fa2" stroke="#5e4fa2"/>
<path d="M262.2 274.8l5.86 3.61 0 7.22 -5.86 3.61 -5.86 -3.61 0 -7.22z" fill="#5e4fa2" stroke="#5e4fa2"/>
<path d="M293.5 274.8l5.86 3.61 0 7.22 -5.86 3.61 -5.86 -3.61 0 -7.22z" fill="#5e4fa2" stroke="#5e4fa2"/>
<path d="M324.8 274.8l5.86 3.61 0 7.22 -5.86 3.61 -5.86 -3.61 0 -7.22z" fill="#5e4fa2" stroke="#5e4fa2"/>
<path d="M113.8 290.0l5.86 3.61 0 7.22 -5.86 3.61 -5.86 -3.61 0 -7.22z" fill="#3682ba" stroke="#3682ba"/>
<path d="M129.4 290.0l5.86 3.61 0 7.22 -5.86 3.61 -5.86 -3.61 0 -7.22z" fill="#4c66ad" stroke="#4c66ad"/>
<path d="M145.1 290.0l5.86 3.61 0 7.22 -5.86 3.61 -5.86 -3.61 0 -7.22z" fill="#5e4fa2" stroke="#5e4fa2"/>
<path d="M160.7 290.0l5.86 3.61 0 7.22 -5.86 3.61 -5.86 -3.61 0 -7.22z" fill="#5e4fa2" stroke="#5e4fa2"/>
<path d="M176.3 290.0l5.86 3.61 0 7.22 -5.86 3.61 -5.86 -3.61 0 -7.22z" fill="#5e4fa2" stroke="#5e4fa2"/>
<path d="M191.9 290.0l5.86 3.61 0 7.22 -5.86 3.61 -5.86 -3.61 0 -7.22z" fill="#5e4fa2" stroke="#5e4fa2"/>
<path d="M207.6 290.0l5.86 3.61 0 7.22 -5.86 3.61 -5.86 -3.61 0 -7.22z" fill="#5e4fa2" stroke="#5e4fa2"/>
<path d="M223.2 290.0l5.86 3.61 0 7.22 -5.86 3.61 -5.86 -3.61 0 -7.22z" fill="#5e4fa2" stroke="#5e4fa2"/>
<path d="M238.8 290.0l5.86 3.61 0 7.22 -5.86 3.61 -5.86 -3.61 0 -7.22z" fill="#5e4fa2" stroke="#5e4fa2"/>
<path d="M254.4 290.0l5.86 3.61 0 7.22 -5.86 3.61 -5.86 -3.61 0 -7.22z" fill="#5e4fa2" stroke="#5e4fa2"/>
<path d="M301.3 290.0l5.86 3.61 0 7.22 -5.86 3.61 -5.86 -3.61 0 -7.22z" fill="#5e4fa2" stroke="#5e4fa2"/>
<path d="M363.8 290.0l5.86 3.61 0 7.22 -5.86 3.61 -5.86 -3.61 0 -7.22z" fill="#5e4fa2" stroke="#5e4fa2"/>
<path d="M106.0 305.3l5.86 3.61 0 7.22 -5.86 3.61 -5.86 -3.61 0 -7.22z" fill="#8fd2a4" stroke="#8fd2a4"/>
<path d="M121.6 305.3l5.86 3.61 0 7.22 -5.86 3.61 -5.86 -3.61 0 -7.22z" fill="#4c66ad" stroke="#4c66ad"/>
<path d="M137.2 305.3l5.86 3.61 0 7.22 -5.86 3.61 -5.86 -3.61 0 -7.22z" fill="#5e4fa2" stroke="#5e4fa2"/>
<path d="M152.9 305.3l5.86 3.61 0 7.22 -5.86 3.61 -5.86 -3.61 0 -7.22z" fill="#5e4fa2" stroke="#5e4fa2"/>
<path d="M168.5 305.3l5.86 3.61 0 7.22 -5.86 3.61 -5.86 -3.61 0 -7.22z" fill="#5e4fa2" stroke="#5e4fa2"/>
<path d="M184.1 305.3l5.86 3.61 0 7.22 -5.86 3.61 -5.86 -3.61 0 -7.22z" fill="#5e4fa2" stroke="#5e4fa2"/>
<path d="M199.8 305.3l5.86 3.61 0 7.22 -5.86 3.61 -5.86 -3.61 0 -7.22z" fill="#5e4fa2" stroke="#5e4fa2"/>
<path d="M215.4 305.3l5.86 3.61 0 7.22 -5.86 3.61 -5.86 -3.61 0 -7.22z" fill="#5e4fa2" stroke="#5e4fa2"/>
<path d="M231.0 305.3l5.86 3.61 0 7.22 -5.86 3.61 -5.86 -3.61 0 -7.22z" fill="#5e4fa2" stroke="#5e4fa2"/>
<path d="M246.6 305.3l5.86 3.61 0 7.22 -5.86 3.61 -5.86 -3.61 0 -7.22z" fill="#5e4fa2" stroke="#5e4fa2"/>
<path d="M262.2 305.3l5.86 3.61 0 7.22 -5.86 3.61 -5.86 -3.61 0 -7.22z" fill="#5e4fa2" stroke="#5e4fa2"/>
<path d="M293.5 305.3l5.86 3.61 0 7.22 -5.86 3.61 -5.86 -3.61 0 -7.22z" fill="#5e4fa2" stroke="#5e4fa2"/>
<path d="M309.1 305.3l5.86 3.61 0 7.22 -5.86 3.61 -5.86 -3.61 0 -7.22z" fill="#5e4fa2" stroke="#5e4fa2"/>
<path d="M324.8 305.3l5.86 3.61 0 7.22 -5.86 3.61 -5.86 -3.61 0 -7.22z" fill="#5e4fa2" stroke="#5e4fa2"/>
<path d="M113.8 320.5l5.86 3.61 0 7.22 -5.86 3.61 -5.86 -3.61 0 -7.22z" fill="#3f77b5" stroke="#3f77b5"/>
<path d="M129.4 320.5l5.86 3.61 0 7.22 -5.86 3.61 -5.86 -3.61 0 -7.22z" fill="#5160aa" stroke="#5160aa"/>
<path d="M145.1 320.5l5.86 3.61 0 7.22 -5.86 3.61 -5.86 -3.61 0 -7.22z" fill="#5e4fa2" stroke="#5e4fa2"/>
<path d="M160.7 320.5l5.86 3.61 0 7.22 -5.86 3.61 -5.86 -3.61 0 -7.22z" fill="#5e4fa2" stroke="#5e4fa2"/>
<path d="M176.3 320.5l5.86 3.61 0 7.22 -5.86 3.61 -5.86 -3.61 0 -7.22z" fill="#5e4fa2" stroke="#5e4fa2"/>
<path d="M191.9 320.5l5.86 3.61 0 7.22 -5.86 3.61 -5.86 -3.61 0 -7.22z" fill="#5e4fa2" stroke="#5e4fa2"/>
<path d="M207.6 320.5l5.86 3.61 0 7.22 -5.86 3.61 -5.86 -3.61 0 -7.22z" fill="#5e4fa2" stroke="#5e4fa2"/>
<path d="M223.2 320.5l5.86 3.61 0 7.22 -5.86 3.61 -5.86 -3.61 0 -7.22z" fill="#5e4fa2" stroke="#5e4fa2"/>
<path d="M238.8 320.5l5.86 3.61 0 7.22 -5.86 3.61 -5.86 -3.61 0 -7.22z" fill="#5e4fa2" stroke="#5e4fa2"/>
<path d="M254.4 320.5l5.86 3.61 0 7.22 -5.86 3.61 -5.86 -3.61 0 -7.22z" fill="#5e4fa2" stroke="#5e4fa2"/>
<path d="M301.3 320.5l5.86 3.61 0 7.22 -5.86 3.61 -5.86 -3.61 0 -7.22z" fill="#5e4fa2" stroke="#5e4fa2"/>
<path d="M316.9 320.5l5.86 3.61 0 7.22 -5.86 3.61 -5.86 -3.61 0 -7.22z" fill="#5e4fa2" stroke="#5e4fa2"/>
<path d="M106.0 335.8l5.86 3.61 0 7.22 -5.86 3.61 -5.86 -3.61 0 -7.22z" fill="#378ebb" stroke="#378ebb"/>
<path d="M121.6 335.8l5.86 3.61 0 7.22 -5.86 3.61 -5.86 -3.61 0 -7.22z" fill="#5160aa" stroke="#5160aa"/>
<path d="M137.2 335.8l5.86 3.61 0 7.22 -5.86 3.61 -5.86 -3.61 0 -7.22z" fill="#5e4fa2" stroke="#5e4fa2"/>
<path d="M152.9 335.8l5.86 3.61 0 7.22 -5.86 3.61 -5.86 -3.61 0 -7.22z" fill="#5e4fa2" stroke="#5e4fa2"/>
<path d="M168.5 335.8l5.86 3.61 0 7.22 -5.86 3.61 -5.86 -3.61 0 -7.22z" fill="#5e4fa2" stroke="#5e4fa2"/>
<path d="M184.1 335.8l5.86 3.61 0 7.22 -5.86 3.61 -5.86 -3.61 0 -7.22z" fill="#5e4fa2" stroke="#5e4fa2"/>
<path d="M199.8 335.8l5.86 3.61 0 7.22 -5.86 3.61 -5.86 -3.61 0 -7.22z" fill="#5e4fa2" stroke="#5e4fa2"/>
<path d="M215.4 335.8l5.86 3.61 0 7.22 -5.86 3.61 -5.86 -3.61 0 -7.22z" fill="#5e4fa2" stroke="#5e4fa2"/>
<path d="M231.0 335.8l5.86 3.61 0 7.22 -5.86 3.61 -5.86 -3.61 0 -7.22z" fill="#5e4fa2" stroke="#5e4fa2"/>
<path d="M113.8 351.0l5.86 3.61 0 7.22 -5.86 3.61 -5.86 -3.61 0 -7.22z" fill="#4471b2" stroke="#4471b2"/>
<path d="M129.4 351.0l5.86 3.61 0 7.22 -5.86 3.61 -5.86 -3.61 0 -7.22z" fill="#555aa7" stroke="#555aa7"/>
<path d="M145.1 351.0l5.86 3.61 0 7.22 -5.86 3.61 -5.86 -3.61 0 -7.22z" fill="#5e4fa2" stroke="#5e4fa2"/>
<path d="M160.7 351.0l5.86 3.61 0 7.22 -5.86 3.61 -5.86 -3.61 0 -7.22z" fill="#5e4fa2" stroke="#5e4fa2"/>
<path d="M176.3 351.0l5.86 3.61 0 7.22 -5.86 3.61 -5.86 -3.61 0 -7.22z" fill="#5e4fa2" stroke="#5e4fa2"/>
<path d="M191.9 351.0l5.86 3.61 0 7.22 -5.86 3.61 -5.86 -3.61 0 -7.22z" fill="#5e4fa2" stroke="#5e4fa2"/>
<path d="M207.6 351.0l5.86 3.61 0 7.22 -5.86 3.61 -5.86 -3.61 0 -7.22z" fill="#5e4fa2" stroke="#5e4fa2"/>
<path d="M223.2 351.0l5.86 3.61 0 7.22 -5.86 3.61 -5.86 -3.61 0 -7.22z" fill="#5e4fa2" stroke="#5e4fa2"/>
<path d="M238.8 351.0l5.86 3.61 0 7.22 -5.86 3.61 -5.86 -3.61 0 -7.22z" fill="#5e4fa2" stroke="#5e4fa2"/>
<path d="M254.4 351.0l5.86 3.61 0 7.22 -5.86 3.61 -5.86 -3.61 0 -7.22z" fill="#5e4fa2" stroke="#5e4fa2"/>
<path d="M316.9 351.0l5.86 3.61 0 7.22 -5.86 3.61 -5.86 -3.61 0 -7.22z" fill="#5e4fa2" stroke="#5e4fa2"/>
<path d="M106.0 366.3l5.86 3.61 0 7.22 -5.86 3.61 -5.86 -3.61 0 -7.22z" fill="#66c2a5" stroke="#66c2a5"/>
<path d="M121.6 366.3l5.86 3.61 0 7.22 -5.86 3.61 -5.86 -3.61 0 -7.22z" fill="#5160aa" stroke="#5160aa"/>
<path d="M137.2 366.3l5.86 3.61 0 7.22 -5.86 3.61 -5.86 -3.61 0 -7.22z" fill="#5e4fa2" stroke="#5e4fa2"/>
<path d="M152.9 366.3l5.86 3.61 0 7.22 -5.86 3.61 -5.86 -3.61 0 -7.22z" fill="#5e4fa2" stroke="#5e4fa2"/>
<path d="M168.5 366.3l5.86 3.61 0 7.22 -5.86 3.61 -5.86 -3.61 0 -7.22z" fill="#5e4fa2" stroke="#5e4fa2"/>
<path d="M184.1 366.3l5.86 3.61 0 7.22 -5.86 3.61 -5.86 -3.61 0 -7.22z" fill="#5e4fa2" stroke="#5e4fa2"/>
<path d="M199.8 366.3l5.86 3.61 0 7.22 -5.86 3.61 -5.86 -3.61 0 -7.22z" fill="#5e4fa2" stroke="#5e4fa2"/>
<path d="M215.4 366.3l5.86 3.61 0 7.22 -5.86 3.61 -5.86 -3.61 0 -7.22z" fill="#5e4fa2" stroke="#5e4fa2"/>
<path d="M231.0 366.3l5.86 3.61 0 7.22 -5.86 3.61 -5.86 -3.61 0 -7.22z" fill="#5e4fa2" stroke="#5e4fa2"/>
<path d="M277.9 366.3l5.86 3.61 0 7.22 -5.86 3.61 -5.86 -3.61 0 -7.22z" fill="#5e4fa2" stroke="#5e4fa2"/>
<path d="M293.5 366.3l5.86 3.61 0 7.22 -5.86 3.61 -5.86 -3.61 0 -7.22z" fill="#5e4fa2" stroke="#5e4fa2"/>
<path d="M324.8 366.3l5.86 3.61 0 7.22 -5.86 3.61 -5.86 -3.61 0 -7.22z" fill="#5e4fa2" stroke="#5e4fa2"/>
<path d="M113.8 381.5l5.86 3.61 0 7.22 -5.86 3.61 -5.86 -3.61 0 -7.22z" fill="#555aa7" stroke="#555aa7"/>
<path d="M129.4 381.5l5.86 3.61 0 7.22 -5.86 3.61 -5.86 -3.61 0 -7.22z" fill="#5e4fa2" stroke="#5e4fa2"/>
<path d="M145.1 381.5l5.86 3.61 0 7.22 -5.86 3.61 -5.86 -3.61 0 -7.22z" fill="#5e4fa2" stroke="#5e4fa2"/>
<path d="M160.7 381.5l5.86 3.61 0 7.22 -5.86 3.61 -5.86 -3.61 0 -7.22z" fill="#5e4fa2" stroke="#5e4fa2"/>
<path d="M176.3 381.5l5.86 3.61 0 7.22 -5.86 3.61 -5.86 -3.61 0 -7.22z" fill="#5e4fa2" stroke="#5e4fa2"/>
<path d="M191.9 381.5l5.86 3.61 0 7.22 -5.86 3.61 -5.86 -3.61 0 -7.22z" fill="#5e4fa2" stroke="#5e4fa2"/>
<path d="M207.6 381.5l5.86 3.61 0 7.22 -5.86 3.61 -5.86 -3.61 0 -7.22z" fill="#5e4fa2" stroke="#5e4fa2"/>
<path d="M238.8 381.5l5.86 3.61 0 7.22 -5.86 3.61 -5.86 -3.61 0 -7.22z" fill="#5e4fa2" stroke="#5e4fa2"/>
<path d="M254.4 381.5l5.86 3.61 0 7.22 -5.86 3.61 -5.86 -3.61 0 -7.22z" fill="#5e4fa2" stroke="#5e4fa2"/>
<path d="M285.7 381.5l5.86 3.61 0 7.22 -5.86 3.61 -5.86 -3.61 0 -7.22z" fill="#5e4fa2" stroke="#5e4fa2"/>
<path d="M301.3 381.5l5.86 3.61 0 7.22 -5.86 3.61 -5.86 -3.61 0 -7.22z" fill="#5e4fa2" stroke="#5e4fa2"/>
<path d="M332.6 381.5l5.86 3.61 0 7.22 -5.86 3.61 -5.86 -3.61 0 -7.22z" fill="#5e4fa2" stroke="#5e4fa2"/>
<path d="M106.0 396.7l5.86 3.61 0 7.22 -5.86 3.61 -5.86 -3.61 0 -7.22z" fill="#378ebb" stroke="#378ebb"/>
<path d="M121.6 396.7l5.86 3.61 0 7.22 -5.86 3.61 -5.86 -3.61 0 -7.22z" fill="#555aa7" stroke="#555aa7"/>
<path d="M137.2 396.7l5.86 3.61 0 7.22 -5.86 3.61 -5.86 -3.61 0 -7.22z" fill="#5e4fa2" stroke="#5e4fa2"/>
<path d="M152.9 396.7l5.86 3.61 0 7.22 -5.86 3.61 -5.86 -3.61 0 -7.22z" fill="#5e4fa2" stroke="#5e4fa2"/>
<path d="M168.5 396.7l5.86 3.61 0 7.22 -5.86 3.61 -5.86 -3.61 0 -7.22z" fill="#5e4fa2" stroke="#5e4fa2"/>
<path d="M184.1 396.7l5.86 3.61 0 7.22 -5.86 3.61 -5.86 -3.61 0 -7.22z" fill="#5e4fa2" stroke="#5e4fa2"/>
<path d="M199.8 396.7l5.86 3.61 0 7.22 -5.86 3.61 -5.86 -3.61 0 -7.22z" fill="#5e4fa2" stroke="#5e4fa2"/>
<path d="M215.4 396.7l5.86 3.61 0 7.22 -5.86 3.61 -5.86 -3.61 0 -7.22z" fill="#5e4fa2" stroke="#5e4fa2"/>
<path d="M231.0 396.7l5.86 3.61 0 7.22 -5.86 3.61 -5.86 -3.61 0 -7.22z" fill="#5e4fa2" stroke="#5e4fa2"/>
<path d="M246.6 396.7l5.86 3.61 0 7.22 -5.86 3.61 -5.86 -3.61 0 -7.22z" fill="#5e4fa2" stroke="#5e4fa2"/>
<path d="M262.2 396.7l5.86 3.61 0 7.22 -5.86 3.61 -5.86 -3.61 0 -7.22z" fill="#5e4fa2" stroke="#5e4fa2"/>
<path d="M293.5 396.7l5.86 3.61 0 7.22 -5.86 3.61 -5.86 -3.61 0 -7.22z" fill="#5e4fa2" stroke="#5e4fa2"/>
<path d="M113.8 412.0l5.86 3.61 0 7.22 -5.86 3.61 -5.86 -3.61 0 -7.22z" fill="#5a55a5" stroke="#5a55a5"/>
<path d="M129.4 412.0l5.86 3.61 0 7.22 -5.86 3.61 -5.86 -3.61 0 -7.22z" fill="#5e4fa2" stroke="#5e4fa2"/>
<path d="M145.1 412.0l5.86 3.61 0 7.22 -5.86 3.61 -5.86 -3.61 0 -7.22z" fill="#5e4fa2" stroke="#5e4fa2"/>
<path d="M160.7 412.0l5.86 3.61 0 7.22 -5.86 3.61 -5.86 -3.61 0 -7.22z" fill="#5e4fa2" stroke="#5e4fa2"/>
<path d="M176.3 412.0l5.86 3.61 0 7.22 -5.86 3.61 -5.86 -3.61 0 -7.22z" fill="#5e4fa2" stroke="#5e4fa2"/>
<path d="M191.9 412.0l5.86 3.61 0 7.22 -5.86 3.61 -5.86 -3.61 0 -7.22z" fill="#5e4fa2" stroke="#5e4fa2"/>
<path d="M207.6 412.0l5.86 3.61 0 7.22 -5.86 3.61 -5.86 -3.61 0 -7.22z" fill="#5e4fa2" stroke="#5e4fa2"/>
<path d="M238.8 412.0l5.86 3.61 0 7.22 -5.86 3.61 -5.86 -3.61 0 -7.22z" fill="#5e4fa2" stroke="#5e4fa2"/>
<path d="M270.1 412.0l5.86 3.61 0 7.22 -5.86 3.61 -5.86 -3.61 0 -7.22z" fill="#5e4fa2" stroke="#5e4fa2"/>
<path d="M363.8 412.0l5.86 3.61 0 7.22 -5.86 3.61 -5.86 -3.61 0 -7.22z" fill="#5e4fa2" stroke="#5e4fa2"/>
<path d="M106.0 427.2l5.86 3.61 0 7.22 -5.86 3.61 -5.86 -3.61 0 -7.22z" fill="#3f77b5" stroke="#3f77b5"/>
<path d="M121.6 427.2l5.86 3.61 0 7.22 -5.86 3.61 -5.86 -3.61 0 -7.22z" fill="#5e4fa2" stroke="#5e4fa2"/>
<path d="M137.2 427.2l5.86 3.61 0 7.22 -5.86 3.61 -5.86 -3.61 0 -7.22z" fill="#5e4fa2" stroke="#5e4fa2"/>
<path d="M152.9 427.2l5.86 3.61 0 7.22 -5.86 3.61 -5.86 -3.61 0 -7.22z" fill="#5e4fa2" stroke="#5e4fa2"/>
<path d="M168.5 427.2l5.86 3.61 0 7.22 -5.86 3.61 -5.86 -3.61 0 -7.22z" fill="#5e4fa2" stroke="#5e4fa2"/>
<path d="M184.1 427.2l5.86 3.61 0 7.22 -5.86 3.61 -5.86 -3.61 0 -7.22z" fill="#5e4fa2" stroke="#5e4fa2"/>
<path d="M199.8 427.2l5.86 3.61 0 7.22 -5.86 3.61 -5.86 -3.61 0 -7.22z" fill="#5e4fa2" stroke="#5e4fa2"/>
<path d="M215.4 427.2l5.86 3.61 0 7.22 -5.86 3.61 -5.86 -3.61 0 -7.22z" fill="#5e4fa2" stroke="#5e4fa2"/>
<path d="M231.0 427.2l5.86 3.61 0 7.22 -5.86 3.61 -5.86 -3.61 0 -7.22z" fill="#5e4fa2" stroke="#5e4fa2"/>
<path d="M262.2 427.2l5.86 3.61 0 7.22 -5.86 3.61 -5.86 -3.61 0 -7.22z" fill="#5e4fa2" stroke="#5e4fa2"/>
<path d="M293.5 427.2l5.86 3.61 0 7.22 -5.86 3.61 -5.86 -3.61 0 -7.22z" fill="#5e4fa2" stroke="#5e4fa2"/>
<path d="M113.8 442.5l5.86 3.61 0 7.22 -5.86 3.61 -5.86 -3.61 0 -7.22z" fill="#5a55a5" stroke="#5a55a5"/>
<path d="M129.4 442.5l5.86 3.61 0 7.22 -5.86 3.61 -5.86 -3.61 0 -7.22z" fill="#5e4fa2" stroke="#5e4fa2"/>
<path d="M145.1 442.5l5.86 3.61 0 7.22 -5.86 3.61 -5.86 -3.61 0 -7.22z" fill="#5e4fa2" stroke="#5e4fa2"/>
<path d="M160.7 442.5l5.86 3.61 0 7.22 -5.86 3.61 -5.86 -3.61 0 -7.22z" fill="#5e4fa2" stroke="#5e4fa2"/>
<path d="M176.3 442.5l5.86 3.61 0 7.22 -5.86 3.61 -5.86 -3.61 0 -7.22z" fill="#5e4fa2" stroke="#5e4fa2"/>
<path d="M191.9 442.5l5.86 3.61 0 7.22 -5.86 3.61 -5.86 -3.61 0 -7.22z" fill="#5e4fa2" stroke="#5e4fa2"/>
<path d="M207.6 442.5l5.86 3.61 0 7.22 -5.86 3.61 -5.86 -3.61 0 -7.22z" fill="#5e4fa2" stroke="#5e4fa2"/>
<path d="M254.4 442.5l5.86 3.61 0 7.22 -5.86 3.61 -5.86 -3.61 0 -7.22z" fill="#5e4fa2" stroke="#5e4fa2"/>
<path d="M270.1 442.5l5.86 3.61 0 7.22 -5.86 3.61 -5.86 -3.61 0 -7.22z" fill="#5e4fa2" stroke="#5e4fa2"/>
<path d="M106.0 457.7l5.86 3.61 0 7.22 -5.86 3.61 -5.86 -3.61 0 -7.22z" fill="#378ebb" stroke="#378ebb"/>
<path d="M121.6 457.7l5.86 3.61 0 7.22 -5.86 3.61 -5.86 -3.61 0 -7.22z" fill="#5e4fa2" stroke="#5e4fa2"/>
<path d="M168.5 457.7l5.86 3.61 0 7.22 -5.86 3.61 -5.86 -3.61 0 -7.22z" fill="#5e4fa2" stroke="#5e4fa2"/>
<path d="M199.8 457.7l5.86 3.61 0 7.22 -5.86 3.61 -5.86 -3.61 0 -7.22z" fill="#5e4fa2" stroke="#5e4fa2"/>
<path d="M231.0 457.7l5.86 3.61 0 7.22 -5.86 3.61 -5.86 -3.61 0 -7.22z" fill="#5e4fa2" stroke="#5e4fa2"/>
<path d="M262.2 457.7l5.86 3.61 0 7.22 -5.86 3.61 -5.86 -3.61 0 -7.22z" fill="#5e4fa2" stroke="#5e4fa2"/>
<path d="M277.9 457.7l5.86 3.61 0 7.22 -5.86 3.61 -5.86 -3.61 0 -7.22z" fill="#5e4fa2" stroke="#5e4fa2"/>
<path d="M113.8 473.0l5.86 3.61 0 7.22 -5.86 3.61 -5.86 -3.61 0 -7.22z" fill="#5e4fa2" stroke="#5e4fa2"/>
<path d="M129.4 473.0l5.86 3.61 0 7.22 -5.86 3.61 -5.86 -3.61 0 -7.22z" fill="#5e4fa2" stroke="#5e4fa2"/>
<path d="M145.1 473.0l5.86 3.61 0 7.22 -5.86 3.61 -5.86 -3.61 0 -7.22z" fill="#5e4fa2" stroke="#5e4fa2"/>
<path d="M160.7 473.0l5.86 3.61 0 7.22 -5.86 3.61 -5.86 -3.61 0 -7.22z" fill="#5e4fa2" stroke="#5e4fa2"/>
<path d="M191.9 473.0l5.86 3.61 0 7.22 -5.86 3.61 -5.86 -3.61 0 -7.22z" fill="#5e4fa2" stroke="#5e4fa2"/>
<path d="M207.6 473.0l5.86 3.61 0 7.22 -5.86 3.61 -5.86 -3.61 0 -7.22z" fill="#5e4fa2" stroke="#5e4fa2"/>
<path d="M223.2 473.0l5.86 3.61 0 7.22 -5.86 3.61 -5.86 -3.61 0 -7.22z" fill="#5e4fa2" stroke="#5e4fa2"/>
<path d="M270.1 473.0l5.86 3.61 0 7.22 -5.86 3.61 -5.86 -3.61 0 -7.22z" fill="#5e4fa2" stroke="#5e4fa2"/>
<path d="M106.0 488.2l5.86 3.61 0 7.22 -5.86 3.61 -5.86 -3.61 0 -7.22z" fill="#3f77b5" stroke="#3f77b5"/>
<path d="M121.6 488.2l5.86 3.61 0 7.22 -5.86 3.61 -5.86 -3.61 0 -7.22z" fill="#5e4fa2" stroke="#5e4fa2"/>
<path d="M137.2 488.2l5.86 3.61 0 7.22 -5.86 3.61 -5.86 -3.61 0 -7.22z" fill="#5e4fa2" stroke="#5e4fa2"/>
<path d="M152.9 488.2l5.86 3.61 0 7.22 -5.86 3.61 -5.86 -3.61 0 -7.22z" fill="#5e4fa2" stroke="#5e4fa2"/>
<path d="M168.5 488.2l5.86 3.61 0 7.22 -5.86 3.61 -5.86 -3.61 0 -7.22z" fill="#5e4fa2" stroke="#5e4fa2"/>
<path d="M184.1 488.2l5.86 3.61 0 7.22 -5.86 3.61 -5.86 -3.61 0 -7.22z" fill="#5e4fa2" stroke="#5e4fa2"/>
<path d="M199.8 488.2l5.86 3.61 0 7.22 -5.86 3.61 -5.86 -3.61 0 -7.22z" fill="#5e4fa2" stroke="#5e4fa2"/>
<path d="M215.4 488.2l5.86 3.61 0 7.22 -5.86 3.61 -5.86 -3.61 0 -7.22z" fill="#5e4fa2" stroke="#5e4fa2"/>
<path d="M231.0 488.2l5.86 3.61 0 7.22 -5.86 3.61 -5.86 -3.61 0 -7.22z" fill="#5e4fa2" stroke="#5e4fa2"/>
<path d="M113.8 503.4l5.86 3.61 0 7.22 -5.86 3.61 -5.86 -3.61 0 -7.22z" fill="#5e4fa2" stroke="#5e4fa2"/>
<path d="M129.4 503.4l5.86 3.61 0 7.22 -5.86 3.61 -5.86 -3.61 0 -7.22z" fill="#5e4fa2" stroke="#5e4fa2"/>
<path d="M145.1 503.4l5.86 3.61 0 7.22 -5.86 3.61 -5.86 -3.61 0 -7.22z" fill="#5e4fa2" stroke="#5e4fa2"/>
<path d="M160.7 503.4l5.86 3.61 0 7.22 -5.86 3.61 -5.86 -3.61 0 -7.22z" fill="#5e4fa2" stroke="#5e4fa2"/>
<path d="M176.3 503.4l5.86 3.61 0 7.22 -5.86 3.61 -5.86 -3.61 0 -7.22z" fill="#5e4fa2" stroke="#5e4fa2"/>
<path d="M223.2 503.4l5.86 3.61 0 7.22 -5.86 3.61 -5.86 -3.61 0 -7.22z" fill="#5e4fa2" stroke="#5e4fa2"/>
<path d="M238.8 503.4l5.86 3.61 0 7.22 -5.86 3.61 -5.86 -3.61 0 -7.22z" fill="#5e4fa2" stroke="#5e4fa2"/>
<path d="M106.0 518.7l5.86 3.61 0 7.22 -5.86 3.61 -5.86 -3.61 0 -7.22z" fill="#5160aa" stroke="#5160aa"/>
<path d="M121.6 518.7l5.86 3.61 0 7.22 -5.86 3.61 -5.86 -3.61 0 -7.22z" fill="#5e4fa2" stroke="#5e4fa2"/>
<path d="M137.2 518.7l5.86 3.61 0 7.22 -5.86 3.61 -5.86 -3.61 0 -7.22z" fill="#5e4fa2" stroke="#5e4fa2"/>
<path d="M168.5 518.7l5.86 3.61 0 7.22 -5.86 3.61 -5.86 -3.61 0 -7.22z" fill="#5e4fa2" stroke="#5e4fa2"/>
<path d="M184.1 518.7l5.86 3.61 0 7.22 -5.86 3.61 -5.86 -3.61 0 -7.22z" fill="#5e4fa2" stroke="#5e4fa2"/>
<path d="M199.8 518.7l5.86 3.61 0 7.22 -5.86 3.61 -5.86 -3.61 0 -7.22z" fill="#5e4fa2" stroke="#5e4fa2"/>
<path d="M215.4 518.7l5.86 3.61 0 7.22 -5.86 3.61 -5.86 -3.61 0 -7.22z" fill="#5e4fa2" stroke="#5e4fa2"/>
<path d="M113.8 533.9l5.86 3.61 0 7.22 -5.86 3.61 -5.86 -3.61 0 -7.22z" fill="#5e4fa2" stroke="#5e4fa2"/>
<path d="M129.4 533.9l5.86 3.61 0 7.22 -5.86 3.61 -5.86 -3.61 0 -7.22z" fill="#5e4fa2" stroke="#5e4fa2"/>
<path d="M160.7 533.9l5.86 3.61 0 7.22 -5.86 3.61 -5.86 -3.61 0 -7.22z" fill="#5e4fa2" stroke="#5e4fa2"/>
<path d="M191.9 533.9l5.86 3.61 0 7.22 -5.86 3.61 -5.86 -3.61 0 -7.22z" fill="#5e4fa2" stroke="#5e4fa2"/>
<path d="M207.6 533.9l5.86 3.61 0 7.22 -5.86 3.61 -5.86 -3.61 0 -7.22z" fill="#5e4fa2" stroke="#5e4fa2"/>
<path d="M223.2 533.9l5.86 3.61 0 7.22 -5.86 3.61 -5.86 -3.61 0 -7.22z" fill="#5e4fa2" stroke="#5e4fa2"/>
<path d="M106.0 549.2l5.86 3.61 0 7.22 -5.86 3.61 -5.86 -3.61 0 -7.22z" fill="#5e4fa2" stroke="#5e4fa2"/>
<path d="M121.6 549.2l5.86 3.61 0 7.22 -5.86 3.61 -5.86 -3.61 0 -7.22z" fill="#5e4fa2" stroke="#5e4fa2"/>
<path d="M152.9 549.2l5.86 3.61 0 7.22 -5.86 3.61 -5.86 -3.61 0 -7.22z" fill="#5e4fa2" stroke="#5e4fa2"/>
<path d="M184.1 549.2l5.86 3.61 0 7.22 -5.86 3.61 -5.86 -3.61 0 -7.22z" fill="#5e4fa2" stroke="#5e4fa2"/>
<path d="M199.8 549.2l5.86 3.61 0 7.22 -5.86 3.61 -5.86 -3.61 0 -7.22z" fill="#5e4fa2" stroke="#5e4fa2"/>
<path d="M277.9 549.2l5.86 3.61 0 7.22 -5.86 3.61 -5.86 -3.61 0 -7.22z" fill="#5e4fa2" stroke="#5e4fa2"/>
<path d="M176.3 564.4l5.86 3.61 0 7.22 -5.86 3.61 -5.86 -3.61 0 -7.22z" fill="#5e4fa2" stroke="#5e4fa2"/>
<path d="M238.8 564.4l5.86 3.61 0 7.22 -5.86 3.61 -5.86 -3.61 0 -7.22z" fill="#5e4fa2" stroke="#5e4fa2"/>
<path d="M106.0 579.7l5.86 3.61 0 7.22 -5.86 3.61 -5.86 -3.61 0 -7.22z" fill="#5e4fa2" stroke="#5e4fa2"/>
<path d="M152.9 579.7l5.86 3.61 0 7.22 -5.86 3.61 -5.86 -3.61 0 -7.22z" fill="#5e4fa2" stroke="#5e4fa2"/>
<path d="M184.1 579.7l5.86 3.61 0 7.22 -5.86 3.61 -5.86 -3.61 0 -7.22z" fill="#5e4fa2" stroke="#5e4fa2"/>
<path d="M129.4 594.9l5.86 3.61 0 7.22 -5.86 3.61 -5.86 -3.61 0 -7.22z" fill="#5e4fa2" stroke="#5e4fa2"/>
<path d="M145.1 594.9l5.86 3.61 0 7.22 -5.86 3.61 -5.86 -3.61 0 -7.22z" fill="#5e4fa2" stroke="#5e4fa2"/>
<path d="M160.7 594.9l5.86 3.61 0 7.22 -5.86 3.61 -5.86 -3.61 0 -7.22z" fill="#5e4fa2" stroke="#5e4fa2"/>
<path d="M113.8 625.4l5.86 3.61 0 7.22 -5.86 3.61 -5.86 -3.61 0 -7.22z" fill="#5e4fa2" stroke="#5e4fa2"/>
<path d="M129.4 625.4l5.86 3.61 0 7.22 -5.86 3.61 -5.86 -3.61 0 -7.22z" fill="#5e4fa2" stroke="#5e4fa2"/>
<path d="M160.7 625.4l5.86 3.61 0 7.22 -5.86 3.61 -5.86 -3.61 0 -7.22z" fill="#5e4fa2" stroke="#5e4fa2"/></g>
<rect x="76.20" y="73.10" width="513.50" height="584.40" fill="none" stroke="#333" stroke-width="2.4"/>
<line x1="67.40" y1="632.00" x2="76.20" y2="632.00" stroke="#333" stroke-width="2.8"/>
<text x="27.37" y="641.19" font-size="29.03" textLength="31.00" lengthAdjust="spacingAndGlyphs" fill="#262626">0.0</text>
<line x1="67.40" y1="505.02" x2="76.20" y2="505.02" stroke="#333" stroke-width="2.8"/>
<text x="27.43" y="514.22" font-size="29.03" textLength="31.00" lengthAdjust="spacingAndGlyphs" fill="#262626">0.5</text>
<line x1="67.40" y1="378.05" x2="76.20" y2="378.05" stroke="#333" stroke-width="2.8"/>
<text x="27.37" y="387.24" font-size="29.03" textLength="31.00" lengthAdjust="spacingAndGlyphs" fill="#262626">1.0</text>
<line x1="67.40" y1="251.08" x2="76.20" y2="251.08" stroke="#333" stroke-width="2.8"/>
<text x="27.43" y="260.12" font-size="29.03" textLength="31.00" lengthAdjust="spacingAndGlyphs" fill="#262626">1.5</text>
<line x1="67.40" y1="124.10" x2="76.20" y2="124.10" stroke="#333" stroke-width="2.8"/>
<text x="27.37" y="133.29" font-size="29.03" textLength="31.00" lengthAdjust="spacingAndGlyphs" fill="#262626">2.0</text>
<line x1="98.65" y1="657.50" x2="98.65" y2="665.80" stroke="#333" stroke-width="2.8"/>
<text x="92.55" y="691.67" font-size="29.03" textLength="12.40" lengthAdjust="spacingAndGlyphs" fill="#262626">0</text>
<line x1="192.40" y1="657.50" x2="192.40" y2="665.80" stroke="#333" stroke-width="2.8"/>
<text x="179.68" y="691.67" font-size="29.03" textLength="24.81" lengthAdjust="spacingAndGlyphs" fill="#262626">10</text>
<line x1="286.15" y1="657.50" x2="286.15" y2="665.80" stroke="#333" stroke-width="2.8"/>
<text x="273.72" y="691.67" font-size="29.03" textLength="24.81" lengthAdjust="spacingAndGlyphs" fill="#262626">20</text>
<line x1="379.90" y1="657.50" x2="379.90" y2="665.80" stroke="#333" stroke-width="2.8"/>
<text x="367.61" y="691.67" font-size="29.03" textLength="24.81" lengthAdjust="spacingAndGlyphs" fill="#262626">30</text>
<line x1="473.65" y1="657.50" x2="473.65" y2="665.80" stroke="#333" stroke-width="2.8"/>
<text x="461.53" y="691.67" font-size="29.03" textLength="24.81" lengthAdjust="spacingAndGlyphs" fill="#262626">40</text>
<line x1="567.40" y1="657.50" x2="567.40" y2="665.80" stroke="#333" stroke-width="2.8"/>
<text x="555.09" y="691.67" font-size="29.03" textLength="24.81" lengthAdjust="spacingAndGlyphs" fill="#262626">50</text>
<text x="169.04" y="59.66" font-size="26.71" textLength="323.18" lengthAdjust="spacingAndGlyphs" font-weight="bold">All proximal peaks (TSS - 2kb)</text>
<text x="104.90" y="720.20" font-size="26.77" textLength="451.52" lengthAdjust="spacingAndGlyphs">% of cells with accesible peak in P56 clusters</text>
<text x="24.06" y="445.42" font-size="27.68" textLength="170.86" lengthAdjust="spacingAndGlyphs" transform="rotate(-90 24.06 445.42)">Shannon entropy</text>
<g stroke-width="1.3" stroke-opacity="0.35"><path d="M785.7 91.9l5.78 3.61 0 7.22 -5.78 3.61 -5.78 -3.61 0 -7.22z" fill="#5e4fa2" stroke="#5e4fa2"/>
<path d="M801.1 91.9l5.78 3.61 0 7.22 -5.78 3.61 -5.78 -3.61 0 -7.22z" fill="#5e4fa2" stroke="#5e4fa2"/>
<path d="M816.5 91.9l5.78 3.61 0 7.22 -5.78 3.61 -5.78 -3.61 0 -7.22z" fill="#5e4fa2" stroke="#5e4fa2"/>
<path d="M832.0 91.9l5.78 3.61 0 7.22 -5.78 3.61 -5.78 -3.61 0 -7.22z" fill="#5e4fa2" stroke="#5e4fa2"/>
<path d="M847.4 91.9l5.78 3.61 0 7.22 -5.78 3.61 -5.78 -3.61 0 -7.22z" fill="#5e4fa2" stroke="#5e4fa2"/>
<path d="M862.8 91.9l5.78 3.61 0 7.22 -5.78 3.61 -5.78 -3.61 0 -7.22z" fill="#5e4fa2" stroke="#5e4fa2"/>
<path d="M878.2 91.9l5.78 3.61 0 7.22 -5.78 3.61 -5.78 -3.61 0 -7.22z" fill="#5e4fa2" stroke="#5e4fa2"/>
<path d="M893.6 91.9l5.78 3.61 0 7.22 -5.78 3.61 -5.78 -3.61 0 -7.22z" fill="#5e4fa2" stroke="#5e4fa2"/>
<path d="M909.1 91.9l5.78 3.61 0 7.22 -5.78 3.61 -5.78 -3.61 0 -7.22z" fill="#5e4fa2" stroke="#5e4fa2"/>
<path d="M924.5 91.9l5.78 3.61 0 7.22 -5.78 3.61 -5.78 -3.61 0 -7.22z" fill="#5e4fa2" stroke="#5e4fa2"/>
<path d="M939.9 91.9l5.78 3.61 0 7.22 -5.78 3.61 -5.78 -3.61 0 -7.22z" fill="#5e4fa2" stroke="#5e4fa2"/>
<path d="M955.3 91.9l5.78 3.61 0 7.22 -5.78 3.61 -5.78 -3.61 0 -7.22z" fill="#5e4fa2" stroke="#5e4fa2"/>
<path d="M970.7 91.9l5.78 3.61 0 7.22 -5.78 3.61 -5.78 -3.61 0 -7.22z" fill="#5e4fa2" stroke="#5e4fa2"/>
<path d="M986.2 91.9l5.78 3.61 0 7.22 -5.78 3.61 -5.78 -3.61 0 -7.22z" fill="#5e4fa2" stroke="#5e4fa2"/>
<path d="M1001.6 91.9l5.78 3.61 0 7.22 -5.78 3.61 -5.78 -3.61 0 -7.22z" fill="#5e4fa2" stroke="#5e4fa2"/>
<path d="M1017.0 91.9l5.78 3.61 0 7.22 -5.78 3.61 -5.78 -3.61 0 -7.22z" fill="#5e4fa2" stroke="#5e4fa2"/>
<path d="M1032.4 91.9l5.78 3.61 0 7.22 -5.78 3.61 -5.78 -3.61 0 -7.22z" fill="#5e4fa2" stroke="#5e4fa2"/>
<path d="M793.4 107.1l5.78 3.61 0 7.22 -5.78 3.61 -5.78 -3.61 0 -7.22z" fill="#3682ba" stroke="#3682ba"/>
<path d="M808.8 107.1l5.78 3.61 0 7.22 -5.78 3.61 -5.78 -3.61 0 -7.22z" fill="#4471b2" stroke="#4471b2"/>
<path d="M824.2 107.1l5.78 3.61 0 7.22 -5.78 3.61 -5.78 -3.61 0 -7.22z" fill="#4c66ad" stroke="#4c66ad"/>
<path d="M839.7 107.1l5.78 3.61 0 7.22 -5.78 3.61 -5.78 -3.61 0 -7.22z" fill="#5160aa" stroke="#5160aa"/>
<path d="M855.1 107.1l5.78 3.61 0 7.22 -5.78 3.61 -5.78 -3.61 0 -7.22z" fill="#5160aa" stroke="#5160aa"/>
<path d="M870.5 107.1l5.78 3.61 0 7.22 -5.78 3.61 -5.78 -3.61 0 -7.22z" fill="#555aa7" stroke="#555aa7"/>
<path d="M885.9 107.1l5.78 3.61 0 7.22 -5.78 3.61 -5.78 -3.61 0 -7.22z" fill="#555aa7" stroke="#555aa7"/>
<path d="M901.3 107.1l5.78 3.61 0 7.22 -5.78 3.61 -5.78 -3.61 0 -7.22z" fill="#5e4fa2" stroke="#5e4fa2"/>
<path d="M916.8 107.1l5.78 3.61 0 7.22 -5.78 3.61 -5.78 -3.61 0 -7.22z" fill="#5e4fa2" stroke="#5e4fa2"/>
<path d="M932.2 107.1l5.78 3.61 0 7.22 -5.78 3.61 -5.78 -3.61 0 -7.22z" fill="#5e4fa2" stroke="#5e4fa2"/>
<path d="M947.6 107.1l5.78 3.61 0 7.22 -5.78 3.61 -5.78 -3.61 0 -7.22z" fill="#5e4fa2" stroke="#5e4fa2"/>
<path d="M963.0 107.1l5.78 3.61 0 7.22 -5.78 3.61 -5.78 -3.61 0 -7.22z" fill="#5e4fa2" stroke="#5e4fa2"/>
<path d="M978.4 107.1l5.78 3.61 0 7.22 -5.78 3.61 -5.78 -3.61 0 -7.22z" fill="#5e4fa2" stroke="#5e4fa2"/>
<path d="M993.9 107.1l5.78 3.61 0 7.22 -5.78 3.61 -5.78 -3.61 0 -7.22z" fill="#5e4fa2" stroke="#5e4fa2"/>
<path d="M1009.3 107.1l5.78 3.61 0 7.22 -5.78 3.61 -5.78 -3.61 0 -7.22z" fill="#5e4fa2" stroke="#5e4fa2"/>
<path d="M1024.7 107.1l5.78 3.61 0 7.22 -5.78 3.61 -5.78 -3.61 0 -7.22z" fill="#5e4fa2" stroke="#5e4fa2"/>
<path d="M1040.1 107.1l5.78 3.61 0 7.22 -5.78 3.61 -5.78 -3.61 0 -7.22z" fill="#5e4fa2" stroke="#5e4fa2"/>
<path d="M1055.5 107.1l5.78 3.61 0 7.22 -5.78 3.61 -5.78 -3.61 0 -7.22z" fill="#5e4fa2" stroke="#5e4fa2"/>
<path d="M1071.0 107.1l5.78 3.61 0 7.22 -5.78 3.61 -5.78 -3.61 0 -7.22z" fill="#5e4fa2" stroke="#5e4fa2"/>
<path d="M1086.4 107.1l5.78 3.61 0 7.22 -5.78 3.61 -5.78 -3.61 0 -7.22z" fill="#5e4fa2" stroke="#5e4fa2"/>
<path d="M1101.8 107.1l5.78 3.61 0 7.22 -5.78 3.61 -5.78 -3.61 0 -7.22z" fill="#5e4fa2" stroke="#5e4fa2"/>
<path d="M1117.2 107.1l5.78 3.61 0 7.22 -5.78 3.61 -5.78 -3.61 0 -7.22z" fill="#5e4fa2" stroke="#5e4fa2"/>
<path d="M1132.6 107.1l5.78 3.61 0 7.22 -5.78 3.61 -5.78 -3.61 0 -7.22z" fill="#5e4fa2" stroke="#5e4fa2"/>
<path d="M1148.1 107.1l5.78 3.61 0 7.22 -5.78 3.61 -5.78 -3.61 0 -7.22z" fill="#5e4fa2" stroke="#5e4fa2"/>
<path d="M1163.5 107.1l5.78 3.61 0 7.22 -5.78 3.61 -5.78 -3.61 0 -7.22z" fill="#5e4fa2" stroke="#5e4fa2"/>
<path d="M1178.9 107.1l5.78 3.61 0 7.22 -5.78 3.61 -5.78 -3.61 0 -7.22z" fill="#5e4fa2" stroke="#5e4fa2"/>
<path d="M1194.3 107.1l5.78 3.61 0 7.22 -5.78 3.61 -5.78 -3.61 0 -7.22z" fill="#5e4fa2" stroke="#5e4fa2"/>
<path d="M1209.7 107.1l5.78 3.61 0 7.22 -5.78 3.61 -5.78 -3.61 0 -7.22z" fill="#5e4fa2" stroke="#5e4fa2"/>
<path d="M1225.2 107.1l5.78 3.61 0 7.22 -5.78 3.61 -5.78 -3.61 0 -7.22z" fill="#5e4fa2" stroke="#5e4fa2"/>
<path d="M1240.6 107.1l5.78 3.61 0 7.22 -5.78 3.61 -5.78 -3.61 0 -7.22z" fill="#5e4fa2" stroke="#5e4fa2"/>
<path d="M785.7 122.4l5.78 3.61 0 7.22 -5.78 3.61 -5.78 -3.61 0 -7.22z" fill="#5cb6aa" stroke="#5cb6aa"/>
<path d="M801.1 122.4l5.78 3.61 0 7.22 -5.78 3.61 -5.78 -3.61 0 -7.22z" fill="#3c94b8" stroke="#3c94b8"/>
<path d="M816.5 122.4l5.78 3.61 0 7.22 -5.78 3.61 -5.78 -3.61 0 -7.22z" fill="#3f77b5" stroke="#3f77b5"/>
<path d="M832.0 122.4l5.78 3.61 0 7.22 -5.78 3.61 -5.78 -3.61 0 -7.22z" fill="#486cb0" stroke="#486cb0"/>
<path d="M847.4 122.4l5.78 3.61 0 7.22 -5.78 3.61 -5.78 -3.61 0 -7.22z" fill="#4c66ad" stroke="#4c66ad"/>
<path d="M862.8 122.4l5.78 3.61 0 7.22 -5.78 3.61 -5.78 -3.61 0 -7.22z" fill="#5160aa" stroke="#5160aa"/>
<path d="M878.2 122.4l5.78 3.61 0 7.22 -5.78 3.61 -5.78 -3.61 0 -7.22z" fill="#555aa7" stroke="#555aa7"/>
<path d="M893.6 122.4l5.78 3.61 0 7.22 -5.78 3.61 -5.78 -3.61 0 -7.22z" fill="#5e4fa2" stroke="#5e4fa2"/>
<path d="M909.1 122.4l5.78 3.61 0 7.22 -5.78 3.61 -5.78 -3.61 0 -7.22z" fill="#5e4fa2" stroke="#5e4fa2"/>
<path d="M924.5 122.4l5.78 3.61 0 7.22 -5.78 3.61 -5.78 -3.61 0 -7.22z" fill="#5e4fa2" stroke="#5e4fa2"/>
<path d="M939.9 122.4l5.78 3.61 0 7.22 -5.78 3.61 -5.78 -3.61 0 -7.22z" fill="#5e4fa2" stroke="#5e4fa2"/>
<path d="M955.3 122.4l5.78 3.61 0 7.22 -5.78 3.61 -5.78 -3.61 0 -7.22z" fill="#5e4fa2" stroke="#5e4fa2"/>
<path d="M970.7 122.4l5.78 3.61 0 7.22 -5.78 3.61 -5.78 -3.61 0 -7.22z" fill="#5e4fa2" stroke="#5e4fa2"/>
<path d="M986.2 122.4l5.78 3.61 0 7.22 -5.78 3.61 -5.78 -3.61 0 -7.22z" fill="#5e4fa2" stroke="#5e4fa2"/>
<path d="M1001.6 122.4l5.78 3.61 0 7.22 -5.78 3.61 -5.78 -3.61 0 -7.22z" fill="#5e4fa2" stroke="#5e4fa2"/>
<path d="M1017.0 122.4l5.78 3.61 0 7.22 -5.78 3.61 -5.78 -3.61 0 -7.22z" fill="#5e4fa2" stroke="#5e4fa2"/>
<path d="M1032.4 122.4l5.78 3.61 0 7.22 -5.78 3.61 -5.78 -3.61 0 -7.22z" fill="#5e4fa2" stroke="#5e4fa2"/>
<path d="M1047.8 122.4l5.78 3.61 0 7.22 -5.78 3.61 -5.78 -3.61 0 -7.22z" fill="#5e4fa2" stroke="#5e4fa2"/>
<path d="M1063.3 122.4l5.78 3.61 0 7.22 -5.78 3.61 -5.78 -3.61 0 -7.22z" fill="#5e4fa2" stroke="#5e4fa2"/>
<path d="M1078.7 122.4l5.78 3.61 0 7.22 -5.78 3.61 -5.78 -3.61 0 -7.22z" fill="#5e4fa2" stroke="#5e4fa2"/>
<path d="M1094.1 122.4l5.78 3.61 0 7.22 -5.78 3.61 -5.78 -3.61 0 -7.22z" fill="#5e4fa2" stroke="#5e4fa2"/>
<path d="M1109.5 122.4l5.78 3.61 0 7.22 -5.78 3.61 -5.78 -3.61 0 -7.22z" fill="#5e4fa2" stroke="#5e4fa2"/>
<path d="M1124.9 122.4l5.78 3.61 0 7.22 -5.78 3.61 -5.78 -3.61 0 -7.22z" fill="#5e4fa2" stroke="#5e4fa2"/>
<path d="M1155.8 122.4l5.78 3.61 0 7.22 -5.78 3.61 -5.78 -3.61 0 -7.22z" fill="#5e4fa2" stroke="#5e4fa2"/>
<path d="M1171.2 122.4l5.78 3.61 0 7.22 -5.78 3.61 -5.78 -3.61 0 -7.22z" fill="#5e4fa2" stroke="#5e4fa2"/>
<path d="M1217.5 122.4l5.78 3.61 0 7.22 -5.78 3.61 -5.78 -3.61 0 -7.22z" fill="#5e4fa2" stroke="#5e4fa2"/>
<path d="M793.4 137.6l5.78 3.61 0 7.22 -5.78 3.61 -5.78 -3.61 0 -7.22z" fill="#61bca7" stroke="#61bca7"/>
<path d="M808.8 137.6l5.78 3.61 0 7.22 -5.78 3.61 -5.78 -3.61 0 -7.22z" fill="#378ebb" stroke="#378ebb"/>
<path d="M824.2 137.6l5.78 3.61 0 7.22 -5.78 3.61 -5.78 -3.61 0 -7.22z" fill="#3f77b5" stroke="#3f77b5"/>
<path d="M839.7 137.6l5.78 3.61 0 7.22 -5.78 3.61 -5.78 -3.61 0 -7.22z" fill="#486cb0" stroke="#486cb0"/>
<path d="M855.1 137.6l5.78 3.61 0 7.22 -5.78 3.61 -5.78 -3.61 0 -7.22z" fill="#4c66ad" stroke="#4c66ad"/>
<path d="M870.5 137.6l5.78 3.61 0 7.22 -5.78 3.61 -5.78 -3.61 0 -7.22z" fill="#5160aa" stroke="#5160aa"/>
<path d="M885.9 137.6l5.78 3.61 0 7.22 -5.78 3.61 -5.78 -3.61 0 -7.22z" fill="#555aa7" stroke="#555aa7"/>
<path d="M901.3 137.6l5.78 3.61 0 7.22 -5.78 3.61 -5.78 -3.61 0 -7.22z" fill="#5e4fa2" stroke="#5e4fa2"/>
<path d="M916.8 137.6l5.78 3.61 0 7.22 -5.78 3.61 -5.78 -3.61 0 -7.22z" fill="#5e4fa2" stroke="#5e4fa2"/>
<path d="M932.2 137.6l5.78 3.61 0 7.22 -5.78 3.61 -5.78 -3.61 0 -7.22z" fill="#5e4fa2" stroke="#5e4fa2"/>
<path d="M947.6 137.6l5.78 3.61 0 7.22 -5.78 3.61 -5.78 -3.61 0 -7.22z" fill="#5e4fa2" stroke="#5e4fa2"/>
<path d="M963.0 137.6l5.78 3.61 0 7.22 -5.78 3.61 -5.78 -3.61 0 -7.22z" fill="#5e4fa2" stroke="#5e4fa2"/>
<path d="M978.4 137.6l5.78 3.61 0 7.22 -5.78 3.61 -5.78 -3.61 0 -7.22z" fill="#5e4fa2" stroke="#5e4fa2"/>
<path d="M993.9 137.6l5.78 3.61 0 7.22 -5.78 3.61 -5.78 -3.61 0 -7.22z" fill="#5e4fa2" stroke="#5e4fa2"/>
<path d="M1009.3 137.6l5.78 3.61 0 7.22 -5.78 3.61 -5.78 -3.61 0 -7.22z" fill="#5e4fa2" stroke="#5e4fa2"/>
<path d="M1024.7 137.6l5.78 3.61 0 7.22 -5.78 3.61 -5.78 -3.61 0 -7.22z" fill="#5e4fa2" stroke="#5e4fa2"/>
<path d="M1055.5 137.6l5.78 3.61 0 7.22 -5.78 3.61 -5.78 -3.61 0 -7.22z" fill="#5e4fa2" stroke="#5e4fa2"/>
<path d="M1071.0 137.6l5.78 3.61 0 7.22 -5.78 3.61 -5.78 -3.61 0 -7.22z" fill="#5e4fa2" stroke="#5e4fa2"/>
<path d="M1086.4 137.6l5.78 3.61 0 7.22 -5.78 3.61 -5.78 -3.61 0 -7.22z" fill="#5e4fa2" stroke="#5e4fa2"/>
<path d="M785.7 152.9l5.78 3.61 0 7.22 -5.78 3.61 -5.78 -3.61 0 -7.22z" fill="#ffffbf" stroke="#ffffbf"/>
<path d="M801.1 152.9l5.78 3.61 0 7.22 -5.78 3.61 -5.78 -3.61 0 -7.22z" fill="#51abaf" stroke="#51abaf"/>
<path d="M816.5 152.9l5.78 3.61 0 7.22 -5.78 3.61 -5.78 -3.61 0 -7.22z" fill="#3f77b5" stroke="#3f77b5"/>
<path d="M832.0 152.9l5.78 3.61 0 7.22 -5.78 3.61 -5.78 -3.61 0 -7.22z" fill="#486cb0" stroke="#486cb0"/>
<path d="M847.4 152.9l5.78 3.61 0 7.22 -5.78 3.61 -5.78 -3.61 0 -7.22z" fill="#4c66ad" stroke="#4c66ad"/>
<path d="M862.8 152.9l5.78 3.61 0 7.22 -5.78 3.61 -5.78 -3.61 0 -7.22z" fill="#5160aa" stroke="#5160aa"/>
<path d="M878.2 152.9l5.78 3.61 0 7.22 -5.78 3.61 -5.78 -3.61 0 -7.22z" fill="#5e4fa2" stroke="#5e4fa2"/>
<path d="M893.6 152.9l5.78 3.61 0 7.22 -5.78 3.61 -5.78 -3.61 0 -7.22z" fill="#5e4fa2" stroke="#5e4fa2"/>
<path d="M909.1 152.9l5.78 3.61 0 7.22 -5.78 3.61 -5.78 -3.61 0 -7.22z" fill="#5e4fa2" stroke="#5e4fa2"/>
<path d="M924.5 152.9l5.78 3.61 0 7.22 -5.78 3.61 -5.78 -3.61 0 -7.22z" fill="#5e4fa2" stroke="#5e4fa2"/>
<path d="M939.9 152.9l5.78 3.61 0 7.22 -5.78 3.61 -5.78 -3.61 0 -7.22z" fill="#5e4fa2" stroke="#5e4fa2"/>
<path d="M955.3 152.9l5.78 3.61 0 7.22 -5.78 3.61 -5.78 -3.61 0 -7.22z" fill="#5e4fa2" stroke="#5e4fa2"/>
<path d="M970.7 152.9l5.78 3.61 0 7.22 -5.78 3.61 -5.78 -3.61 0 -7.22z" fill="#5e4fa2" stroke="#5e4fa2"/>
<path d="M986.2 152.9l5.78 3.61 0 7.22 -5.78 3.61 -5.78 -3.61 0 -7.22z" fill="#5e4fa2" stroke="#5e4fa2"/>
<path d="M1001.6 152.9l5.78 3.61 0 7.22 -5.78 3.61 -5.78 -3.61 0 -7.22z" fill="#5e4fa2" stroke="#5e4fa2"/>
<path d="M1017.0 152.9l5.78 3.61 0 7.22 -5.78 3.61 -5.78 -3.61 0 -7.22z" fill="#5e4fa2" stroke="#5e4fa2"/>
<path d="M1063.3 152.9l5.78 3.61 0 7.22 -5.78 3.61 -5.78 -3.61 0 -7.22z" fill="#5e4fa2" stroke="#5e4fa2"/>
<path d="M1094.1 152.9l5.78 3.61 0 7.22 -5.78 3.61 -5.78 -3.61 0 -7.22z" fill="#5e4fa2" stroke="#5e4fa2"/>
<path d="M1109.5 152.9l5.78 3.61 0 7.22 -5.78 3.61 -5.78 -3.61 0 -7.22z" fill="#5e4fa2" stroke="#5e4fa2"/>
<path d="M1124.9 152.9l5.78 3.61 0 7.22 -5.78 3.61 -5.78 -3.61 0 -7.22z" fill="#5e4fa2" stroke="#5e4fa2"/>
<path d="M1140.4 152.9l5.78 3.61 0 7.22 -5.78 3.61 -5.78 -3.61 0 -7.22z" fill="#5e4fa2" stroke="#5e4fa2"/>
<path d="M1232.9 152.9l5.78 3.61 0 7.22 -5.78 3.61 -5.78 -3.61 0 -7.22z" fill="#5e4fa2" stroke="#5e4fa2"/>
<path d="M793.4 168.1l5.78 3.61 0 7.22 -5.78 3.61 -5.78 -3.61 0 -7.22z" fill="#abdda4" stroke="#abdda4"/>
<path d="M808.8 168.1l5.78 3.61 0 7.22 -5.78 3.61 -5.78 -3.61 0 -7.22z" fill="#378ebb" stroke="#378ebb"/>
<path d="M824.2 168.1l5.78 3.61 0 7.22 -5.78 3.61 -5.78 -3.61 0 -7.22z" fill="#4471b2" stroke="#4471b2"/>
<path d="M839.7 168.1l5.78 3.61 0 7.22 -5.78 3.61 -5.78 -3.61 0 -7.22z" fill="#4c66ad" stroke="#4c66ad"/>
<path d="M855.1 168.1l5.78 3.61 0 7.22 -5.78 3.61 -5.78 -3.61 0 -7.22z" fill="#5160aa" stroke="#5160aa"/>
<path d="M870.5 168.1l5.78 3.61 0 7.22 -5.78 3.61 -5.78 -3.61 0 -7.22z" fill="#5e4fa2" stroke="#5e4fa2"/>
<path d="M885.9 168.1l5.78 3.61 0 7.22 -5.78 3.61 -5.78 -3.61 0 -7.22z" fill="#5e4fa2" stroke="#5e4fa2"/>
<path d="M901.3 168.1l5.78 3.61 0 7.22 -5.78 3.61 -5.78 -3.61 0 -7.22z" fill="#5e4fa2" stroke="#5e4fa2"/>
<path d="M916.8 168.1l5.78 3.61 0 7.22 -5.78 3.61 -5.78 -3.61 0 -7.22z" fill="#5e4fa2" stroke="#5e4fa2"/>
<path d="M932.2 168.1l5.78 3.61 0 7.22 -5.78 3.61 -5.78 -3.61 0 -7.22z" fill="#5e4fa2" stroke="#5e4fa2"/>
<path d="M947.6 168.1l5.78 3.61 0 7.22 -5.78 3.61 -5.78 -3.61 0 -7.22z" fill="#5e4fa2" stroke="#5e4fa2"/>
<path d="M963.0 168.1l5.78 3.61 0 7.22 -5.78 3.61 -5.78 -3.61 0 -7.22z" fill="#5e4fa2" stroke="#5e4fa2"/>
<path d="M978.4 168.1l5.78 3.61 0 7.22 -5.78 3.61 -5.78 -3.61 0 -7.22z" fill="#5e4fa2" stroke="#5e4fa2"/>
<path d="M993.9 168.1l5.78 3.61 0 7.22 -5.78 3.61 -5.78 -3.61 0 -7.22z" fill="#5e4fa2" stroke="#5e4fa2"/>
<path d="M1009.3 168.1l5.78 3.61 0 7.22 -5.78 3.61 -5.78 -3.61 0 -7.22z" fill="#5e4fa2" stroke="#5e4fa2"/>
<path d="M1024.7 168.1l5.78 3.61 0 7.22 -5.78 3.61 -5.78 -3.61 0 -7.22z" fill="#5e4fa2" stroke="#5e4fa2"/>
<path d="M1040.1 168.1l5.78 3.61 0 7.22 -5.78 3.61 -5.78 -3.61 0 -7.22z" fill="#5e4fa2" stroke="#5e4fa2"/>
<path d="M1132.6 168.1l5.78 3.61 0 7.22 -5.78 3.61 -5.78 -3.61 0 -7.22z" fill="#5e4fa2" stroke="#5e4fa2"/>
<path d="M785.7 183.3l5.78 3.61 0 7.22 -5.78 3.61 -5.78 -3.61 0 -7.22z" fill="#f46d43" stroke="#f46d43"/>
<path d="M801.1 183.3l5.78 3.61 0 7.22 -5.78 3.61 -5.78 -3.61 0 -7.22z" fill="#51abaf" stroke="#51abaf"/>
<path d="M816.5 183.3l5.78 3.61 0 7.22 -5.78 3.61 -5.78 -3.61 0 -7.22z" fill="#3f77b5" stroke="#3f77b5"/>
<path d="M832.0 183.3l5.78 3.61 0 7.22 -5.78 3.61 -5.78 -3.61 0 -7.22z" fill="#486cb0" stroke="#486cb0"/>
<path d="M847.4 183.3l5.78 3.61 0 7.22 -5.78 3.61 -5.78 -3.61 0 -7.22z" fill="#5160aa" stroke="#5160aa"/>
<path d="M862.8 183.3l5.78 3.61 0 7.22 -5.78 3.61 -5.78 -3.61 0 -7.22z" fill="#5e4fa2" stroke="#5e4fa2"/>
<path d="M878.2 183.3l5.78 3.61 0 7.22 -5.78 3.61 -5.78 -3.61 0 -7.22z" fill="#5e4fa2" stroke="#5e4fa2"/>
<path d="M893.6 183.3l5.78 3.61 0 7.22 -5.78 3.61 -5.78 -3.61 0 -7.22z" fill="#5e4fa2" stroke="#5e4fa2"/>
<path d="M909.1 183.3l5.78 3.61 0 7.22 -5.78 3.61 -5.78 -3.61 0 -7.22z" fill="#5e4fa2" stroke="#5e4fa2"/>
<path d="M924.5 183.3l5.78 3.61 0 7.22 -5.78 3.61 -5.78 -3.61 0 -7.22z" fill="#5e4fa2" stroke="#5e4fa2"/>
<path d="M939.9 183.3l5.78 3.61 0 7.22 -5.78 3.61 -5.78 -3.61 0 -7.22z" fill="#5e4fa2" stroke="#5e4fa2"/>
<path d="M955.3 183.3l5.78 3.61 0 7.22 -5.78 3.61 -5.78 -3.61 0 -7.22z" fill="#5e4fa2" stroke="#5e4fa2"/>
<path d="M970.7 183.3l5.78 3.61 0 7.22 -5.78 3.61 -5.78 -3.61 0 -7.22z" fill="#5e4fa2" stroke="#5e4fa2"/>
<path d="M986.2 183.3l5.78 3.61 0 7.22 -5.78 3.61 -5.78 -3.61 0 -7.22z" fill="#5e4fa2" stroke="#5e4fa2"/>
<path d="M1001.6 183.3l5.78 3.61 0 7.22 -5.78 3.61 -5.78 -3.61 0 -7.22z" fill="#5e4fa2" stroke="#5e4fa2"/>
<path d="M1094.1 183.3l5.78 3.61 0 7.22 -5.78 3.61 -5.78 -3.61 0 -7.22z" fill="#5e4fa2" stroke="#5e4fa2"/>
<path d="M793.4 198.6l5.78 3.61 0 7.22 -5.78 3.61 -5.78 -3.61 0 -7.22z" fill="#e0f399" stroke="#e0f399"/>
<path d="M808.8 198.6l5.78 3.61 0 7.22 -5.78 3.61 -5.78 -3.61 0 -7.22z" fill="#3288bd" stroke="#3288bd"/>
<path d="M824.2 198.6l5.78 3.61 0 7.22 -5.78 3.61 -5.78 -3.61 0 -7.22z" fill="#4471b2" stroke="#4471b2"/>
<path d="M839.7 198.6l5.78 3.61 0 7.22 -5.78 3.61 -5.78 -3.61 0 -7.22z" fill="#4c66ad" stroke="#4c66ad"/>
<path d="M855.1 198.6l5.78 3.61 0 7.22 -5.78 3.61 -5.78 -3.61 0 -7.22z" fill="#5160aa" stroke="#5160aa"/>
<path d="M870.5 198.6l5.78 3.61 0 7.22 -5.78 3.61 -5.78 -3.61 0 -7.22z" fill="#5e4fa2" stroke="#5e4fa2"/>
<path d="M885.9 198.6l5.78 3.61 0 7.22 -5.78 3.61 -5.78 -3.61 0 -7.22z" fill="#5e4fa2" stroke="#5e4fa2"/>
<path d="M901.3 198.6l5.78 3.61 0 7.22 -5.78 3.61 -5.78 -3.61 0 -7.22z" fill="#5e4fa2" stroke="#5e4fa2"/>
<path d="M916.8 198.6l5.78 3.61 0 7.22 -5.78 3.61 -5.78 -3.61 0 -7.22z" fill="#5e4fa2" stroke="#5e4fa2"/>
<path d="M932.2 198.6l5.78 3.61 0 7.22 -5.78 3.61 -5.78 -3.61 0 -7.22z" fill="#5e4fa2" stroke="#5e4fa2"/>
<path d="M947.6 198.6l5.78 3.61 0 7.22 -5.78 3.61 -5.78 -3.61 0 -7.22z" fill="#5e4fa2" stroke="#5e4fa2"/>
<path d="M978.4 198.6l5.78 3.61 0 7.22 -5.78 3.61 -5.78 -3.61 0 -7.22z" fill="#5e4fa2" stroke="#5e4fa2"/>
<path d="M993.9 198.6l5.78 3.61 0 7.22 -5.78 3.61 -5.78 -3.61 0 -7.22z" fill="#5e4fa2" stroke="#5e4fa2"/>
<path d="M1024.7 198.6l5.78 3.61 0 7.22 -5.78 3.61 -5.78 -3.61 0 -7.22z" fill="#5e4fa2" stroke="#5e4fa2"/>
<path d="M1055.5 198.6l5.78 3.61 0 7.22 -5.78 3.61 -5.78 -3.61 0 -7.22z" fill="#5e4fa2" stroke="#5e4fa2"/>
<path d="M1086.4 198.6l5.78 3.61 0 7.22 -5.78 3.61 -5.78 -3.61 0 -7.22z" fill="#5e4fa2" stroke="#5e4fa2"/>
<path d="M785.7 213.8l5.78 3.61 0 7.22 -5.78 3.61 -5.78 -3.61 0 -7.22z" fill="#fba15b" stroke="#fba15b"/>
<path d="M801.1 213.8l5.78 3.61 0 7.22 -5.78 3.61 -5.78 -3.61 0 -7.22z" fill="#51abaf" stroke="#51abaf"/>
<path d="M816.5 213.8l5.78 3.61 0 7.22 -5.78 3.61 -5.78 -3.61 0 -7.22z" fill="#3f77b5" stroke="#3f77b5"/>
<path d="M832.0 213.8l5.78 3.61 0 7.22 -5.78 3.61 -5.78 -3.61 0 -7.22z" fill="#4c66ad" stroke="#4c66ad"/>
<path d="M847.4 213.8l5.78 3.61 0 7.22 -5.78 3.61 -5.78 -3.61 0 -7.22z" fill="#5160aa" stroke="#5160aa"/>
<path d="M862.8 213.8l5.78 3.61 0 7.22 -5.78 3.61 -5.78 -3.61 0 -7.22z" fill="#5e4fa2" stroke="#5e4fa2"/>
<path d="M878.2 213.8l5.78 3.61 0 7.22 -5.78 3.61 -5.78 -3.61 0 -7.22z" fill="#5e4fa2" stroke="#5e4fa2"/>
<path d="M893.6 213.8l5.78 3.61 0 7.22 -5.78 3.61 -5.78 -3.61 0 -7.22z" fill="#5e4fa2" stroke="#5e4fa2"/>
<path d="M909.1 213.8l5.78 3.61 0 7.22 -5.78 3.61 -5.78 -3.61 0 -7.22z" fill="#5e4fa2" stroke="#5e4fa2"/>
<path d="M924.5 213.8l5.78 3.61 0 7.22 -5.78 3.61 -5.78 -3.61 0 -7.22z" fill="#5e4fa2" stroke="#5e4fa2"/>
<path d="M939.9 213.8l5.78 3.61 0 7.22 -5.78 3.61 -5.78 -3.61 0 -7.22z" fill="#5e4fa2" stroke="#5e4fa2"/>
<path d="M955.3 213.8l5.78 3.61 0 7.22 -5.78 3.61 -5.78 -3.61 0 -7.22z" fill="#5e4fa2" stroke="#5e4fa2"/>
<path d="M970.7 213.8l5.78 3.61 0 7.22 -5.78 3.61 -5.78 -3.61 0 -7.22z" fill="#5e4fa2" stroke="#5e4fa2"/>
<path d="M986.2 213.8l5.78 3.61 0 7.22 -5.78 3.61 -5.78 -3.61 0 -7.22z" fill="#5e4fa2" stroke="#5e4fa2"/>
<path d="M1032.4 213.8l5.78 3.61 0 7.22 -5.78 3.61 -5.78 -3.61 0 -7.22z" fill="#5e4fa2" stroke="#5e4fa2"/>
<path d="M793.4 229.1l5.78 3.61 0 7.22 -5.78 3.61 -5.78 -3.61 0 -7.22z" fill="#b1dfa3" stroke="#b1dfa3"/>
<path d="M808.8 229.1l5.78 3.61 0 7.22 -5.78 3.61 -5.78 -3.61 0 -7.22z" fill="#3288bd" stroke="#3288bd"/>
<path d="M824.2 229.1l5.78 3.61 0 7.22 -5.78 3.61 -5.78 -3.61 0 -7.22z" fill="#4471b2" stroke="#4471b2"/>
<path d="M839.7 229.1l5.78 3.61 0 7.22 -5.78 3.61 -5.78 -3.61 0 -7.22z" fill="#4c66ad" stroke="#4c66ad"/>
<path d="M855.1 229.1l5.78 3.61 0 7.22 -5.78 3.61 -5.78 -3.61 0 -7.22z" fill="#5e4fa2" stroke="#5e4fa2"/>
<path d="M870.5 229.1l5.78 3.61 0 7.22 -5.78 3.61 -5.78 -3.61 0 -7.22z" fill="#5e4fa2" stroke="#5e4fa2"/>
<path d="M885.9 229.1l5.78 3.61 0 7.22 -5.78 3.61 -5.78 -3.61 0 -7.22z" fill="#5e4fa2" stroke="#5e4fa2"/>
<path d="M901.3 229.1l5.78 3.61 0 7.22 -5.78 3.61 -5.78 -3.61 0 -7.22z" fill="#5e4fa2" stroke="#5e4fa2"/>
<path d="M916.8 229.1l5.78 3.61 0 7.22 -5.78 3.61 -5.78 -3.61 0 -7.22z" fill="#5e4fa2" stroke="#5e4fa2"/>
<path d="M932.2 229.1l5.78 3.61 0 7.22 -5.78 3.61 -5.78 -3.61 0 -7.22z" fill="#5e4fa2" stroke="#5e4fa2"/>
<path d="M947.6 229.1l5.78 3.61 0 7.22 -5.78 3.61 -5.78 -3.61 0 -7.22z" fill="#5e4fa2" stroke="#5e4fa2"/>
<path d="M963.0 229.1l5.78 3.61 0 7.22 -5.78 3.61 -5.78 -3.61 0 -7.22z" fill="#5e4fa2" stroke="#5e4fa2"/>
<path d="M993.9 229.1l5.78 3.61 0 7.22 -5.78 3.61 -5.78 -3.61 0 -7.22z" fill="#5e4fa2" stroke="#5e4fa2"/>
<path d="M1009.3 229.1l5.78 3.61 0 7.22 -5.78 3.61 -5.78 -3.61 0 -7.22z" fill="#5e4fa2" stroke="#5e4fa2"/>
<path d="M1040.1 229.1l5.78 3.61 0 7.22 -5.78 3.61 -5.78 -3.61 0 -7.22z" fill="#5e4fa2" stroke="#5e4fa2"/>
<path d="M785.7 244.3l5.78 3.61 0 7.22 -5.78 3.61 -5.78 -3.61 0 -7.22z" fill="#bf264a" stroke="#bf264a"/>
<path d="M801.1 244.3l5.78 3.61 0 7.22 -5.78 3.61 -5.78 -3.61 0 -7.22z" fill="#4ca5b1" stroke="#4ca5b1"/>
<path d="M816.5 244.3l5.78 3.61 0 7.22 -5.78 3.61 -5.78 -3.61 0 -7.22z" fill="#3f77b5" stroke="#3f77b5"/>
<path d="M832.0 244.3l5.78 3.61 0 7.22 -5.78 3.61 -5.78 -3.61 0 -7.22z" fill="#4c66ad" stroke="#4c66ad"/>
<path d="M847.4 244.3l5.78 3.61 0 7.22 -5.78 3.61 -5.78 -3.61 0 -7.22z" fill="#5e4fa2" stroke="#5e4fa2"/>
<path d="M862.8 244.3l5.78 3.61 0 7.22 -5.78 3.61 -5.78 -3.61 0 -7.22z" fill="#5e4fa2" stroke="#5e4fa2"/>
<path d="M878.2 244.3l5.78 3.61 0 7.22 -5.78 3.61 -5.78 -3.61 0 -7.22z" fill="#5e4fa2" stroke="#5e4fa2"/>
<path d="M893.6 244.3l5.78 3.61 0 7.22 -5.78 3.61 -5.78 -3.61 0 -7.22z" fill="#5e4fa2" stroke="#5e4fa2"/>
<path d="M909.1 244.3l5.78 3.61 0 7.22 -5.78 3.61 -5.78 -3.61 0 -7.22z" fill="#5e4fa2" stroke="#5e4fa2"/>
<path d="M924.5 244.3l5.78 3.61 0 7.22 -5.78 3.61 -5.78 -3.61 0 -7.22z" fill="#5e4fa2" stroke="#5e4fa2"/>
<path d="M939.9 244.3l5.78 3.61 0 7.22 -5.78 3.61 -5.78 -3.61 0 -7.22z" fill="#5e4fa2" stroke="#5e4fa2"/>
<path d="M955.3 244.3l5.78 3.61 0 7.22 -5.78 3.61 -5.78 -3.61 0 -7.22z" fill="#5e4fa2" stroke="#5e4fa2"/>
<path d="M970.7 244.3l5.78 3.61 0 7.22 -5.78 3.61 -5.78 -3.61 0 -7.22z" fill="#5e4fa2" stroke="#5e4fa2"/>
<path d="M986.2 244.3l5.78 3.61 0 7.22 -5.78 3.61 -5.78 -3.61 0 -7.22z" fill="#5e4fa2" stroke="#5e4fa2"/>
<path d="M1047.8 244.3l5.78 3.61 0 7.22 -5.78 3.61 -5.78 -3.61 0 -7.22z" fill="#5e4fa2" stroke="#5e4fa2"/>
<path d="M1124.9 244.3l5.78 3.61 0 7.22 -5.78 3.61 -5.78 -3.61 0 -7.22z" fill="#5e4fa2" stroke="#5e4fa2"/>
<path d="M793.4 259.6l5.78 3.61 0 7.22 -5.78 3.61 -5.78 -3.61 0 -7.22z" fill="#7bcaa5" stroke="#7bcaa5"/>
<path d="M808.8 259.6l5.78 3.61 0 7.22 -5.78 3.61 -5.78 -3.61 0 -7.22z" fill="#3b7db8" stroke="#3b7db8"/>
<path d="M824.2 259.6l5.78 3.61 0 7.22 -5.78 3.61 -5.78 -3.61 0 -7.22z" fill="#486cb0" stroke="#486cb0"/>
<path d="M839.7 259.6l5.78 3.61 0 7.22 -5.78 3.61 -5.78 -3.61 0 -7.22z" fill="#5160aa" stroke="#5160aa"/>
<path d="M855.1 259.6l5.78 3.61 0 7.22 -5.78 3.61 -5.78 -3.61 0 -7.22z" fill="#5e4fa2" stroke="#5e4fa2"/>
<path d="M870.5 259.6l5.78 3.61 0 7.22 -5.78 3.61 -5.78 -3.61 0 -7.22z" fill="#5e4fa2" stroke="#5e4fa2"/>
<path d="M885.9 259.6l5.78 3.61 0 7.22 -5.78 3.61 -5.78 -3.61 0 -7.22z" fill="#5e4fa2" stroke="#5e4fa2"/>
<path d="M901.3 259.6l5.78 3.61 0 7.22 -5.78 3.61 -5.78 -3.61 0 -7.22z" fill="#5e4fa2" stroke="#5e4fa2"/>
<path d="M916.8 259.6l5.78 3.61 0 7.22 -5.78 3.61 -5.78 -3.61 0 -7.22z" fill="#5e4fa2" stroke="#5e4fa2"/>
<path d="M932.2 259.6l5.78 3.61 0 7.22 -5.78 3.61 -5.78 -3.61 0 -7.22z" fill="#5e4fa2" stroke="#5e4fa2"/>
<path d="M947.6 259.6l5.78 3.61 0 7.22 -5.78 3.61 -5.78 -3.61 0 -7.22z" fill="#5e4fa2" stroke="#5e4fa2"/>
<path d="M963.0 259.6l5.78 3.61 0 7.22 -5.78 3.61 -5.78 -3.61 0 -7.22z" fill="#5e4fa2" stroke="#5e4fa2"/>
<path d="M978.4 259.6l5.78 3.61 0 7.22 -5.78 3.61 -5.78 -3.61 0 -7.22z" fill="#5e4fa2" stroke="#5e4fa2"/>
<path d="M1009.3 259.6l5.78 3.61 0 7.22 -5.78 3.61 -5.78 -3.61 0 -7.22z" fill="#5e4fa2" stroke="#5e4fa2"/>
<path d="M1086.4 259.6l5.78 3.61 0 7.22 -5.78 3.61 -5.78 -3.61 0 -7.22z" fill="#5e4fa2" stroke="#5e4fa2"/>
<path d="M785.7 274.8l5.78 3.61 0 7.22 -5.78 3.61 -5.78 -3.61 0 -7.22z" fill="#fba15b" stroke="#fba15b"/>
<path d="M801.1 274.8l5.78 3.61 0 7.22 -5.78 3.61 -5.78 -3.61 0 -7.22z" fill="#3288bd" stroke="#3288bd"/>
<path d="M816.5 274.8l5.78 3.61 0 7.22 -5.78 3.61 -5.78 -3.61 0 -7.22z" fill="#4471b2" stroke="#4471b2"/>
<path d="M832.0 274.8l5.78 3.61 0 7.22 -5.78 3.61 -5.78 -3.61 0 -7.22z" fill="#5160aa" stroke="#5160aa"/>
<path d="M847.4 274.8l5.78 3.61 0 7.22 -5.78 3.61 -5.78 -3.61 0 -7.22z" fill="#5e4fa2" stroke="#5e4fa2"/>
<path d="M862.8 274.8l5.78 3.61 0 7.22 -5.78 3.61 -5.78 -3.61 0 -7.22z" fill="#5e4fa2" stroke="#5e4fa2"/>
<path d="M878.2 274.8l5.78 3.61 0 7.22 -5.78 3.61 -5.78 -3.61 0 -7.22z" fill="#5e4fa2" stroke="#5e4fa2"/>
<path d="M893.6 274.8l5.78 3.61 0 7.22 -5.78 3.61 -5.78 -3.61 0 -7.22z" fill="#5e4fa2" stroke="#5e4fa2"/>
<path d="M909.1 274.8l5.78 3.61 0 7.22 -5.78 3.61 -5.78 -3.61 0 -7.22z" fill="#5e4fa2" stroke="#5e4fa2"/>
<path d="M924.5 274.8l5.78 3.61 0 7.22 -5.78 3.61 -5.78 -3.61 0 -7.22z" fill="#5e4fa2" stroke="#5e4fa2"/>
<path d="M939.9 274.8l5.78 3.61 0 7.22 -5.78 3.61 -5.78 -3.61 0 -7.22z" fill="#5e4fa2" stroke="#5e4fa2"/>
<path d="M955.3 274.8l5.78 3.61 0 7.22 -5.78 3.61 -5.78 -3.61 0 -7.22z" fill="#5e4fa2" stroke="#5e4fa2"/>
<path d="M970.7 274.8l5.78 3.61 0 7.22 -5.78 3.61 -5.78 -3.61 0 -7.22z" fill="#5e4fa2" stroke="#5e4fa2"/>
<path d="M986.2 274.8l5.78 3.61 0 7.22 -5.78 3.61 -5.78 -3.61 0 -7.22z" fill="#5e4fa2" stroke="#5e4fa2"/>
<path d="M1001.6 274.8l5.78 3.61 0 7.22 -5.78 3.61 -5.78 -3.61 0 -7.22z" fill="#5e4fa2" stroke="#5e4fa2"/>
<path d="M1017.0 274.8l5.78 3.61 0 7.22 -5.78 3.61 -5.78 -3.61 0 -7.22z" fill="#5e4fa2" stroke="#5e4fa2"/>
<path d="M793.4 290.0l5.78 3.61 0 7.22 -5.78 3.61 -5.78 -3.61 0 -7.22z" fill="#7bcaa5" stroke="#7bcaa5"/>
<path d="M808.8 290.0l5.78 3.61 0 7.22 -5.78 3.61 -5.78 -3.61 0 -7.22z" fill="#4471b2" stroke="#4471b2"/>
<path d="M824.2 290.0l5.78 3.61 0 7.22 -5.78 3.61 -5.78 -3.61 0 -7.22z" fill="#4c66ad" stroke="#4c66ad"/>
<path d="M839.7 290.0l5.78 3.61 0 7.22 -5.78 3.61 -5.78 -3.61 0 -7.22z" fill="#5e4fa2" stroke="#5e4fa2"/>
<path d="M855.1 290.0l5.78 3.61 0 7.22 -5.78 3.61 -5.78 -3.61 0 -7.22z" fill="#5e4fa2" stroke="#5e4fa2"/>
<path d="M870.5 290.0l5.78 3.61 0 7.22 -5.78 3.61 -5.78 -3.61 0 -7.22z" fill="#5e4fa2" stroke="#5e4fa2"/>
<path d="M885.9 290.0l5.78 3.61 0 7.22 -5.78 3.61 -5.78 -3.61 0 -7.22z" fill="#5e4fa2" stroke="#5e4fa2"/>
<path d="M901.3 290.0l5.78 3.61 0 7.22 -5.78 3.61 -5.78 -3.61 0 -7.22z" fill="#5e4fa2" stroke="#5e4fa2"/>
<path d="M916.8 290.0l5.78 3.61 0 7.22 -5.78 3.61 -5.78 -3.61 0 -7.22z" fill="#5e4fa2" stroke="#5e4fa2"/>
<path d="M932.2 290.0l5.78 3.61 0 7.22 -5.78 3.61 -5.78 -3.61 0 -7.22z" fill="#5e4fa2" stroke="#5e4fa2"/>
<path d="M947.6 290.0l5.78 3.61 0 7.22 -5.78 3.61 -5.78 -3.61 0 -7.22z" fill="#5e4fa2" stroke="#5e4fa2"/>
<path d="M963.0 290.0l5.78 3.61 0 7.22 -5.78 3.61 -5.78 -3.61 0 -7.22z" fill="#5e4fa2" stroke="#5e4fa2"/>
<path d="M978.4 290.0l5.78 3.61 0 7.22 -5.78 3.61 -5.78 -3.61 0 -7.22z" fill="#5e4fa2" stroke="#5e4fa2"/>
<path d="M993.9 290.0l5.78 3.61 0 7.22 -5.78 3.61 -5.78 -3.61 0 -7.22z" fill="#5e4fa2" stroke="#5e4fa2"/>
<path d="M1009.3 290.0l5.78 3.61 0 7.22 -5.78 3.61 -5.78 -3.61 0 -7.22z" fill="#5e4fa2" stroke="#5e4fa2"/>
<path d="M1024.7 290.0l5.78 3.61 0 7.22 -5.78 3.61 -5.78 -3.61 0 -7.22z" fill="#5e4fa2" stroke="#5e4fa2"/>
<path d="M1040.1 290.0l5.78 3.61 0 7.22 -5.78 3.61 -5.78 -3.61 0 -7.22z" fill="#5e4fa2" stroke="#5e4fa2"/>
<path d="M1055.5 290.0l5.78 3.61 0 7.22 -5.78 3.61 -5.78 -3.61 0 -7.22z" fill="#5e4fa2" stroke="#5e4fa2"/>
<path d="M1071.0 290.0l5.78 3.61 0 7.22 -5.78 3.61 -5.78 -3.61 0 -7.22z" fill="#5e4fa2" stroke="#5e4fa2"/>
<path d="M785.7 305.3l5.78 3.61 0 7.22 -5.78 3.61 -5.78 -3.61 0 -7.22z" fill="#fba15b" stroke="#fba15b"/>
<path d="M801.1 305.3l5.78 3.61 0 7.22 -5.78 3.61 -5.78 -3.61 0 -7.22z" fill="#3f77b5" stroke="#3f77b5"/>
<path d="M816.5 305.3l5.78 3.61 0 7.22 -5.78 3.61 -5.78 -3.61 0 -7.22z" fill="#4c66ad" stroke="#4c66ad"/>
<path d="M832.0 305.3l5.78 3.61 0 7.22 -5.78 3.61 -5.78 -3.61 0 -7.22z" fill="#5e4fa2" stroke="#5e4fa2"/>
<path d="M847.4 305.3l5.78 3.61 0 7.22 -5.78 3.61 -5.78 -3.61 0 -7.22z" fill="#5e4fa2" stroke="#5e4fa2"/>
<path d="M862.8 305.3l5.78 3.61 0 7.22 -5.78 3.61 -5.78 -3.61 0 -7.22z" fill="#5e4fa2" stroke="#5e4fa2"/>
<path d="M878.2 305.3l5.78 3.61 0 7.22 -5.78 3.61 -5.78 -3.61 0 -7.22z" fill="#5e4fa2" stroke="#5e4fa2"/>
<path d="M893.6 305.3l5.78 3.61 0 7.22 -5.78 3.61 -5.78 -3.61 0 -7.22z" fill="#5e4fa2" stroke="#5e4fa2"/>
<path d="M909.1 305.3l5.78 3.61 0 7.22 -5.78 3.61 -5.78 -3.61 0 -7.22z" fill="#5e4fa2" stroke="#5e4fa2"/>
<path d="M924.5 305.3l5.78 3.61 0 7.22 -5.78 3.61 -5.78 -3.61 0 -7.22z" fill="#5e4fa2" stroke="#5e4fa2"/>
<path d="M939.9 305.3l5.78 3.61 0 7.22 -5.78 3.61 -5.78 -3.61 0 -7.22z" fill="#5e4fa2" stroke="#5e4fa2"/>
<path d="M955.3 305.3l5.78 3.61 0 7.22 -5.78 3.61 -5.78 -3.61 0 -7.22z" fill="#5e4fa2" stroke="#5e4fa2"/>
<path d="M970.7 305.3l5.78 3.61 0 7.22 -5.78 3.61 -5.78 -3.61 0 -7.22z" fill="#5e4fa2" stroke="#5e4fa2"/>
<path d="M986.2 305.3l5.78 3.61 0 7.22 -5.78 3.61 -5.78 -3.61 0 -7.22z" fill="#5e4fa2" stroke="#5e4fa2"/>
<path d="M1001.6 305.3l5.78 3.61 0 7.22 -5.78 3.61 -5.78 -3.61 0 -7.22z" fill="#5e4fa2" stroke="#5e4fa2"/>
<path d="M1032.4 305.3l5.78 3.61 0 7.22 -5.78 3.61 -5.78 -3.61 0 -7.22z" fill="#5e4fa2" stroke="#5e4fa2"/>
<path d="M1047.8 305.3l5.78 3.61 0 7.22 -5.78 3.61 -5.78 -3.61 0 -7.22z" fill="#5e4fa2" stroke="#5e4fa2"/>
<path d="M1094.1 305.3l5.78 3.61 0 7.22 -5.78 3.61 -5.78 -3.61 0 -7.22z" fill="#5e4fa2" stroke="#5e4fa2"/>
<path d="M793.4 320.5l5.78 3.61 0 7.22 -5.78 3.61 -5.78 -3.61 0 -7.22z" fill="#378ebb" stroke="#378ebb"/>
<path d="M808.8 320.5l5.78 3.61 0 7.22 -5.78 3.61 -5.78 -3.61 0 -7.22z" fill="#486cb0" stroke="#486cb0"/>
<path d="M824.2 320.5l5.78 3.61 0 7.22 -5.78 3.61 -5.78 -3.61 0 -7.22z" fill="#5160aa" stroke="#5160aa"/>
<path d="M839.7 320.5l5.78 3.61 0 7.22 -5.78 3.61 -5.78 -3.61 0 -7.22z" fill="#5e4fa2" stroke="#5e4fa2"/>
<path d="M855.1 320.5l5.78 3.61 0 7.22 -5.78 3.61 -5.78 -3.61 0 -7.22z" fill="#5e4fa2" stroke="#5e4fa2"/>
<path d="M870.5 320.5l5.78 3.61 0 7.22 -5.78 3.61 -5.78 -3.61 0 -7.22z" fill="#5e4fa2" stroke="#5e4fa2"/>
<path d="M885.9 320.5l5.78 3.61 0 7.22 -5.78 3.61 -5.78 -3.61 0 -7.22z" fill="#5e4fa2" stroke="#5e4fa2"/>
<path d="M901.3 320.5l5.78 3.61 0 7.22 -5.78 3.61 -5.78 -3.61 0 -7.22z" fill="#5e4fa2" stroke="#5e4fa2"/>
<path d="M916.8 320.5l5.78 3.61 0 7.22 -5.78 3.61 -5.78 -3.61 0 -7.22z" fill="#5e4fa2" stroke="#5e4fa2"/>
<path d="M932.2 320.5l5.78 3.61 0 7.22 -5.78 3.61 -5.78 -3.61 0 -7.22z" fill="#5e4fa2" stroke="#5e4fa2"/>
<path d="M947.6 320.5l5.78 3.61 0 7.22 -5.78 3.61 -5.78 -3.61 0 -7.22z" fill="#5e4fa2" stroke="#5e4fa2"/>
<path d="M963.0 320.5l5.78 3.61 0 7.22 -5.78 3.61 -5.78 -3.61 0 -7.22z" fill="#5e4fa2" stroke="#5e4fa2"/>
<path d="M978.4 320.5l5.78 3.61 0 7.22 -5.78 3.61 -5.78 -3.61 0 -7.22z" fill="#5e4fa2" stroke="#5e4fa2"/>
<path d="M993.9 320.5l5.78 3.61 0 7.22 -5.78 3.61 -5.78 -3.61 0 -7.22z" fill="#5e4fa2" stroke="#5e4fa2"/>
<path d="M1009.3 320.5l5.78 3.61 0 7.22 -5.78 3.61 -5.78 -3.61 0 -7.22z" fill="#5e4fa2" stroke="#5e4fa2"/>
<path d="M1024.7 320.5l5.78 3.61 0 7.22 -5.78 3.61 -5.78 -3.61 0 -7.22z" fill="#5e4fa2" stroke="#5e4fa2"/>
<path d="M1101.8 320.5l5.78 3.61 0 7.22 -5.78 3.61 -5.78 -3.61 0 -7.22z" fill="#5e4fa2" stroke="#5e4fa2"/>
<path d="M785.7 335.8l5.78 3.61 0 7.22 -5.78 3.61 -5.78 -3.61 0 -7.22z" fill="#a4daa4" stroke="#a4daa4"/>
<path d="M801.1 335.8l5.78 3.61 0 7.22 -5.78 3.61 -5.78 -3.61 0 -7.22z" fill="#486cb0" stroke="#486cb0"/>
<path d="M816.5 335.8l5.78 3.61 0 7.22 -5.78 3.61 -5.78 -3.61 0 -7.22z" fill="#5160aa" stroke="#5160aa"/>
<path d="M832.0 335.8l5.78 3.61 0 7.22 -5.78 3.61 -5.78 -3.61 0 -7.22z" fill="#5e4fa2" stroke="#5e4fa2"/>
<path d="M847.4 335.8l5.78 3.61 0 7.22 -5.78 3.61 -5.78 -3.61 0 -7.22z" fill="#5e4fa2" stroke="#5e4fa2"/>
<path d="M862.8 335.8l5.78 3.61 0 7.22 -5.78 3.61 -5.78 -3.61 0 -7.22z" fill="#5e4fa2" stroke="#5e4fa2"/>
<path d="M878.2 335.8l5.78 3.61 0 7.22 -5.78 3.61 -5.78 -3.61 0 -7.22z" fill="#5e4fa2" stroke="#5e4fa2"/>
<path d="M893.6 335.8l5.78 3.61 0 7.22 -5.78 3.61 -5.78 -3.61 0 -7.22z" fill="#5e4fa2" stroke="#5e4fa2"/>
<path d="M909.1 335.8l5.78 3.61 0 7.22 -5.78 3.61 -5.78 -3.61 0 -7.22z" fill="#5e4fa2" stroke="#5e4fa2"/>
<path d="M924.5 335.8l5.78 3.61 0 7.22 -5.78 3.61 -5.78 -3.61 0 -7.22z" fill="#5e4fa2" stroke="#5e4fa2"/>
<path d="M939.9 335.8l5.78 3.61 0 7.22 -5.78 3.61 -5.78 -3.61 0 -7.22z" fill="#5e4fa2" stroke="#5e4fa2"/>
<path d="M955.3 335.8l5.78 3.61 0 7.22 -5.78 3.61 -5.78 -3.61 0 -7.22z" fill="#5e4fa2" stroke="#5e4fa2"/>
<path d="M970.7 335.8l5.78 3.61 0 7.22 -5.78 3.61 -5.78 -3.61 0 -7.22z" fill="#5e4fa2" stroke="#5e4fa2"/>
<path d="M986.2 335.8l5.78 3.61 0 7.22 -5.78 3.61 -5.78 -3.61 0 -7.22z" fill="#5e4fa2" stroke="#5e4fa2"/>
<path d="M1001.6 335.8l5.78 3.61 0 7.22 -5.78 3.61 -5.78 -3.61 0 -7.22z" fill="#5e4fa2" stroke="#5e4fa2"/>
<path d="M1047.8 335.8l5.78 3.61 0 7.22 -5.78 3.61 -5.78 -3.61 0 -7.22z" fill="#5e4fa2" stroke="#5e4fa2"/>
<path d="M1063.3 335.8l5.78 3.61 0 7.22 -5.78 3.61 -5.78 -3.61 0 -7.22z" fill="#5e4fa2" stroke="#5e4fa2"/>
<path d="M1078.7 335.8l5.78 3.61 0 7.22 -5.78 3.61 -5.78 -3.61 0 -7.22z" fill="#5e4fa2" stroke="#5e4fa2"/>
<path d="M793.4 351.0l5.78 3.61 0 7.22 -5.78 3.61 -5.78 -3.61 0 -7.22z" fill="#378ebb" stroke="#378ebb"/>
<path d="M808.8 351.0l5.78 3.61 0 7.22 -5.78 3.61 -5.78 -3.61 0 -7.22z" fill="#4c66ad" stroke="#4c66ad"/>
<path d="M824.2 351.0l5.78 3.61 0 7.22 -5.78 3.61 -5.78 -3.61 0 -7.22z" fill="#5e4fa2" stroke="#5e4fa2"/>
<path d="M839.7 351.0l5.78 3.61 0 7.22 -5.78 3.61 -5.78 -3.61 0 -7.22z" fill="#5e4fa2" stroke="#5e4fa2"/>
<path d="M855.1 351.0l5.78 3.61 0 7.22 -5.78 3.61 -5.78 -3.61 0 -7.22z" fill="#5e4fa2" stroke="#5e4fa2"/>
<path d="M870.5 351.0l5.78 3.61 0 7.22 -5.78 3.61 -5.78 -3.61 0 -7.22z" fill="#5e4fa2" stroke="#5e4fa2"/>
<path d="M885.9 351.0l5.78 3.61 0 7.22 -5.78 3.61 -5.78 -3.61 0 -7.22z" fill="#5e4fa2" stroke="#5e4fa2"/>
<path d="M901.3 351.0l5.78 3.61 0 7.22 -5.78 3.61 -5.78 -3.61 0 -7.22z" fill="#5e4fa2" stroke="#5e4fa2"/>
<path d="M916.8 351.0l5.78 3.61 0 7.22 -5.78 3.61 -5.78 -3.61 0 -7.22z" fill="#5e4fa2" stroke="#5e4fa2"/>
<path d="M932.2 351.0l5.78 3.61 0 7.22 -5.78 3.61 -5.78 -3.61 0 -7.22z" fill="#5e4fa2" stroke="#5e4fa2"/>
<path d="M947.6 351.0l5.78 3.61 0 7.22 -5.78 3.61 -5.78 -3.61 0 -7.22z" fill="#5e4fa2" stroke="#5e4fa2"/>
<path d="M963.0 351.0l5.78 3.61 0 7.22 -5.78 3.61 -5.78 -3.61 0 -7.22z" fill="#5e4fa2" stroke="#5e4fa2"/>
<path d="M978.4 351.0l5.78 3.61 0 7.22 -5.78 3.61 -5.78 -3.61 0 -7.22z" fill="#5e4fa2" stroke="#5e4fa2"/>
<path d="M993.9 351.0l5.78 3.61 0 7.22 -5.78 3.61 -5.78 -3.61 0 -7.22z" fill="#5e4fa2" stroke="#5e4fa2"/>
<path d="M1009.3 351.0l5.78 3.61 0 7.22 -5.78 3.61 -5.78 -3.61 0 -7.22z" fill="#5e4fa2" stroke="#5e4fa2"/>
<path d="M1024.7 351.0l5.78 3.61 0 7.22 -5.78 3.61 -5.78 -3.61 0 -7.22z" fill="#5e4fa2" stroke="#5e4fa2"/>
<path d="M1040.1 351.0l5.78 3.61 0 7.22 -5.78 3.61 -5.78 -3.61 0 -7.22z" fill="#5e4fa2" stroke="#5e4fa2"/>
<path d="M785.7 366.3l5.78 3.61 0 7.22 -5.78 3.61 -5.78 -3.61 0 -7.22z" fill="#fed17e" stroke="#fed17e"/>
<path d="M801.1 366.3l5.78 3.61 0 7.22 -5.78 3.61 -5.78 -3.61 0 -7.22z" fill="#486cb0" stroke="#486cb0"/>
<path d="M816.5 366.3l5.78 3.61 0 7.22 -5.78 3.61 -5.78 -3.61 0 -7.22z" fill="#5160aa" stroke="#5160aa"/>
<path d="M832.0 366.3l5.78 3.61 0 7.22 -5.78 3.61 -5.78 -3.61 0 -7.22z" fill="#5e4fa2" stroke="#5e4fa2"/>
<path d="M847.4 366.3l5.78 3.61 0 7.22 -5.78 3.61 -5.78 -3.61 0 -7.22z" fill="#5e4fa2" stroke="#5e4fa2"/>
<path d="M862.8 366.3l5.78 3.61 0 7.22 -5.78 3.61 -5.78 -3.61 0 -7.22z" fill="#5e4fa2" stroke="#5e4fa2"/>
<path d="M878.2 366.3l5.78 3.61 0 7.22 -5.78 3.61 -5.78 -3.61 0 -7.22z" fill="#5e4fa2" stroke="#5e4fa2"/>
<path d="M893.6 366.3l5.78 3.61 0 7.22 -5.78 3.61 -5.78 -3.61 0 -7.22z" fill="#5e4fa2" stroke="#5e4fa2"/>
<path d="M909.1 366.3l5.78 3.61 0 7.22 -5.78 3.61 -5.78 -3.61 0 -7.22z" fill="#5e4fa2" stroke="#5e4fa2"/>
<path d="M924.5 366.3l5.78 3.61 0 7.22 -5.78 3.61 -5.78 -3.61 0 -7.22z" fill="#5e4fa2" stroke="#5e4fa2"/>
<path d="M939.9 366.3l5.78 3.61 0 7.22 -5.78 3.61 -5.78 -3.61 0 -7.22z" fill="#5e4fa2" stroke="#5e4fa2"/>
<path d="M955.3 366.3l5.78 3.61 0 7.22 -5.78 3.61 -5.78 -3.61 0 -7.22z" fill="#5e4fa2" stroke="#5e4fa2"/>
<path d="M970.7 366.3l5.78 3.61 0 7.22 -5.78 3.61 -5.78 -3.61 0 -7.22z" fill="#5e4fa2" stroke="#5e4fa2"/>
<path d="M1001.6 366.3l5.78 3.61 0 7.22 -5.78 3.61 -5.78 -3.61 0 -7.22z" fill="#5e4fa2" stroke="#5e4fa2"/>
<path d="M1017.0 366.3l5.78 3.61 0 7.22 -5.78 3.61 -5.78 -3.61 0 -7.22z" fill="#5e4fa2" stroke="#5e4fa2"/>
<path d="M1078.7 366.3l5.78 3.61 0 7.22 -5.78 3.61 -5.78 -3.61 0 -7.22z" fill="#5e4fa2" stroke="#5e4fa2"/>
<path d="M793.4 381.5l5.78 3.61 0 7.22 -5.78 3.61 -5.78 -3.61 0 -7.22z" fill="#3f77b5" stroke="#3f77b5"/>
<path d="M808.8 381.5l5.78 3.61 0 7.22 -5.78 3.61 -5.78 -3.61 0 -7.22z" fill="#5160aa" stroke="#5160aa"/>
<path d="M824.2 381.5l5.78 3.61 0 7.22 -5.78 3.61 -5.78 -3.61 0 -7.22z" fill="#5e4fa2" stroke="#5e4fa2"/>
<path d="M839.7 381.5l5.78 3.61 0 7.22 -5.78 3.61 -5.78 -3.61 0 -7.22z" fill="#5e4fa2" stroke="#5e4fa2"/>
<path d="M855.1 381.5l5.78 3.61 0 7.22 -5.78 3.61 -5.78 -3.61 0 -7.22z" fill="#5e4fa2" stroke="#5e4fa2"/>
<path d="M870.5 381.5l5.78 3.61 0 7.22 -5.78 3.61 -5.78 -3.61 0 -7.22z" fill="#5e4fa2" stroke="#5e4fa2"/>
<path d="M885.9 381.5l5.78 3.61 0 7.22 -5.78 3.61 -5.78 -3.61 0 -7.22z" fill="#5e4fa2" stroke="#5e4fa2"/>
<path d="M901.3 381.5l5.78 3.61 0 7.22 -5.78 3.61 -5.78 -3.61 0 -7.22z" fill="#5e4fa2" stroke="#5e4fa2"/>
<path d="M916.8 381.5l5.78 3.61 0 7.22 -5.78 3.61 -5.78 -3.61 0 -7.22z" fill="#5e4fa2" stroke="#5e4fa2"/>
<path d="M932.2 381.5l5.78 3.61 0 7.22 -5.78 3.61 -5.78 -3.61 0 -7.22z" fill="#5e4fa2" stroke="#5e4fa2"/>
<path d="M947.6 381.5l5.78 3.61 0 7.22 -5.78 3.61 -5.78 -3.61 0 -7.22z" fill="#5e4fa2" stroke="#5e4fa2"/>
<path d="M963.0 381.5l5.78 3.61 0 7.22 -5.78 3.61 -5.78 -3.61 0 -7.22z" fill="#5e4fa2" stroke="#5e4fa2"/>
<path d="M978.4 381.5l5.78 3.61 0 7.22 -5.78 3.61 -5.78 -3.61 0 -7.22z" fill="#5e4fa2" stroke="#5e4fa2"/>
<path d="M993.9 381.5l5.78 3.61 0 7.22 -5.78 3.61 -5.78 -3.61 0 -7.22z" fill="#5e4fa2" stroke="#5e4fa2"/>
<path d="M1009.3 381.5l5.78 3.61 0 7.22 -5.78 3.61 -5.78 -3.61 0 -7.22z" fill="#5e4fa2" stroke="#5e4fa2"/>
<path d="M1024.7 381.5l5.78 3.61 0 7.22 -5.78 3.61 -5.78 -3.61 0 -7.22z" fill="#5e4fa2" stroke="#5e4fa2"/>
<path d="M1040.1 381.5l5.78 3.61 0 7.22 -5.78 3.61 -5.78 -3.61 0 -7.22z" fill="#5e4fa2" stroke="#5e4fa2"/>
<path d="M1055.5 381.5l5.78 3.61 0 7.22 -5.78 3.61 -5.78 -3.61 0 -7.22z" fill="#5e4fa2" stroke="#5e4fa2"/>
<path d="M1086.4 381.5l5.78 3.61 0 7.22 -5.78 3.61 -5.78 -3.61 0 -7.22z" fill="#5e4fa2" stroke="#5e4fa2"/>
<path d="M785.7 396.7l5.78 3.61 0 7.22 -5.78 3.61 -5.78 -3.61 0 -7.22z" fill="#96d5a4" stroke="#96d5a4"/>
<path d="M801.1 396.7l5.78 3.61 0 7.22 -5.78 3.61 -5.78 -3.61 0 -7.22z" fill="#4c66ad" stroke="#4c66ad"/>
<path d="M816.5 396.7l5.78 3.61 0 7.22 -5.78 3.61 -5.78 -3.61 0 -7.22z" fill="#5e4fa2" stroke="#5e4fa2"/>
<path d="M832.0 396.7l5.78 3.61 0 7.22 -5.78 3.61 -5.78 -3.61 0 -7.22z" fill="#5e4fa2" stroke="#5e4fa2"/>
<path d="M847.4 396.7l5.78 3.61 0 7.22 -5.78 3.61 -5.78 -3.61 0 -7.22z" fill="#5e4fa2" stroke="#5e4fa2"/>
<path d="M862.8 396.7l5.78 3.61 0 7.22 -5.78 3.61 -5.78 -3.61 0 -7.22z" fill="#5e4fa2" stroke="#5e4fa2"/>
<path d="M878.2 396.7l5.78 3.61 0 7.22 -5.78 3.61 -5.78 -3.61 0 -7.22z" fill="#5e4fa2" stroke="#5e4fa2"/>
<path d="M893.6 396.7l5.78 3.61 0 7.22 -5.78 3.61 -5.78 -3.61 0 -7.22z" fill="#5e4fa2" stroke="#5e4fa2"/>
<path d="M909.1 396.7l5.78 3.61 0 7.22 -5.78 3.61 -5.78 -3.61 0 -7.22z" fill="#5e4fa2" stroke="#5e4fa2"/>
<path d="M924.5 396.7l5.78 3.61 0 7.22 -5.78 3.61 -5.78 -3.61 0 -7.22z" fill="#5e4fa2" stroke="#5e4fa2"/>
<path d="M939.9 396.7l5.78 3.61 0 7.22 -5.78 3.61 -5.78 -3.61 0 -7.22z" fill="#5e4fa2" stroke="#5e4fa2"/>
<path d="M955.3 396.7l5.78 3.61 0 7.22 -5.78 3.61 -5.78 -3.61 0 -7.22z" fill="#5e4fa2" stroke="#5e4fa2"/>
<path d="M970.7 396.7l5.78 3.61 0 7.22 -5.78 3.61 -5.78 -3.61 0 -7.22z" fill="#5e4fa2" stroke="#5e4fa2"/>
<path d="M986.2 396.7l5.78 3.61 0 7.22 -5.78 3.61 -5.78 -3.61 0 -7.22z" fill="#5e4fa2" stroke="#5e4fa2"/>
<path d="M1001.6 396.7l5.78 3.61 0 7.22 -5.78 3.61 -5.78 -3.61 0 -7.22z" fill="#5e4fa2" stroke="#5e4fa2"/>
<path d="M1032.4 396.7l5.78 3.61 0 7.22 -5.78 3.61 -5.78 -3.61 0 -7.22z" fill="#5e4fa2" stroke="#5e4fa2"/>
<path d="M1063.3 396.7l5.78 3.61 0 7.22 -5.78 3.61 -5.78 -3.61 0 -7.22z" fill="#5e4fa2" stroke="#5e4fa2"/>
<path d="M793.4 412.0l5.78 3.61 0 7.22 -5.78 3.61 -5.78 -3.61 0 -7.22z" fill="#4471b2" stroke="#4471b2"/>
<path d="M808.8 412.0l5.78 3.61 0 7.22 -5.78 3.61 -5.78 -3.61 0 -7.22z" fill="#5160aa" stroke="#5160aa"/>
<path d="M824.2 412.0l5.78 3.61 0 7.22 -5.78 3.61 -5.78 -3.61 0 -7.22z" fill="#5e4fa2" stroke="#5e4fa2"/>
<path d="M839.7 412.0l5.78 3.61 0 7.22 -5.78 3.61 -5.78 -3.61 0 -7.22z" fill="#5e4fa2" stroke="#5e4fa2"/>
<path d="M855.1 412.0l5.78 3.61 0 7.22 -5.78 3.61 -5.78 -3.61 0 -7.22z" fill="#5e4fa2" stroke="#5e4fa2"/>
<path d="M870.5 412.0l5.78 3.61 0 7.22 -5.78 3.61 -5.78 -3.61 0 -7.22z" fill="#5e4fa2" stroke="#5e4fa2"/>
<path d="M885.9 412.0l5.78 3.61 0 7.22 -5.78 3.61 -5.78 -3.61 0 -7.22z" fill="#5e4fa2" stroke="#5e4fa2"/>
<path d="M901.3 412.0l5.78 3.61 0 7.22 -5.78 3.61 -5.78 -3.61 0 -7.22z" fill="#5e4fa2" stroke="#5e4fa2"/>
<path d="M916.8 412.0l5.78 3.61 0 7.22 -5.78 3.61 -5.78 -3.61 0 -7.22z" fill="#5e4fa2" stroke="#5e4fa2"/>
<path d="M932.2 412.0l5.78 3.61 0 7.22 -5.78 3.61 -5.78 -3.61 0 -7.22z" fill="#5e4fa2" stroke="#5e4fa2"/>
<path d="M947.6 412.0l5.78 3.61 0 7.22 -5.78 3.61 -5.78 -3.61 0 -7.22z" fill="#5e4fa2" stroke="#5e4fa2"/>
<path d="M963.0 412.0l5.78 3.61 0 7.22 -5.78 3.61 -5.78 -3.61 0 -7.22z" fill="#5e4fa2" stroke="#5e4fa2"/>
<path d="M978.4 412.0l5.78 3.61 0 7.22 -5.78 3.61 -5.78 -3.61 0 -7.22z" fill="#5e4fa2" stroke="#5e4fa2"/>
<path d="M1009.3 412.0l5.78 3.61 0 7.22 -5.78 3.61 -5.78 -3.61 0 -7.22z" fill="#5e4fa2" stroke="#5e4fa2"/>
<path d="M1024.7 412.0l5.78 3.61 0 7.22 -5.78 3.61 -5.78 -3.61 0 -7.22z" fill="#5e4fa2" stroke="#5e4fa2"/>
<path d="M1040.1 412.0l5.78 3.61 0 7.22 -5.78 3.61 -5.78 -3.61 0 -7.22z" fill="#5e4fa2" stroke="#5e4fa2"/>
<path d="M1055.5 412.0l5.78 3.61 0 7.22 -5.78 3.61 -5.78 -3.61 0 -7.22z" fill="#5e4fa2" stroke="#5e4fa2"/>
<path d="M1086.4 412.0l5.78 3.61 0 7.22 -5.78 3.61 -5.78 -3.61 0 -7.22z" fill="#5e4fa2" stroke="#5e4fa2"/>
<path d="M785.7 427.2l5.78 3.61 0 7.22 -5.78 3.61 -5.78 -3.61 0 -7.22z" fill="#378ebb" stroke="#378ebb"/>
<path d="M801.1 427.2l5.78 3.61 0 7.22 -5.78 3.61 -5.78 -3.61 0 -7.22z" fill="#5160aa" stroke="#5160aa"/>
<path d="M816.5 427.2l5.78 3.61 0 7.22 -5.78 3.61 -5.78 -3.61 0 -7.22z" fill="#5e4fa2" stroke="#5e4fa2"/>
<path d="M832.0 427.2l5.78 3.61 0 7.22 -5.78 3.61 -5.78 -3.61 0 -7.22z" fill="#5e4fa2" stroke="#5e4fa2"/>
<path d="M847.4 427.2l5.78 3.61 0 7.22 -5.78 3.61 -5.78 -3.61 0 -7.22z" fill="#5e4fa2" stroke="#5e4fa2"/>
<path d="M862.8 427.2l5.78 3.61 0 7.22 -5.78 3.61 -5.78 -3.61 0 -7.22z" fill="#5e4fa2" stroke="#5e4fa2"/>
<path d="M878.2 427.2l5.78 3.61 0 7.22 -5.78 3.61 -5.78 -3.61 0 -7.22z" fill="#5e4fa2" stroke="#5e4fa2"/>
<path d="M893.6 427.2l5.78 3.61 0 7.22 -5.78 3.61 -5.78 -3.61 0 -7.22z" fill="#5e4fa2" stroke="#5e4fa2"/>
<path d="M909.1 427.2l5.78 3.61 0 7.22 -5.78 3.61 -5.78 -3.61 0 -7.22z" fill="#5e4fa2" stroke="#5e4fa2"/>
<path d="M924.5 427.2l5.78 3.61 0 7.22 -5.78 3.61 -5.78 -3.61 0 -7.22z" fill="#5e4fa2" stroke="#5e4fa2"/>
<path d="M939.9 427.2l5.78 3.61 0 7.22 -5.78 3.61 -5.78 -3.61 0 -7.22z" fill="#5e4fa2" stroke="#5e4fa2"/>
<path d="M955.3 427.2l5.78 3.61 0 7.22 -5.78 3.61 -5.78 -3.61 0 -7.22z" fill="#5e4fa2" stroke="#5e4fa2"/>
<path d="M970.7 427.2l5.78 3.61 0 7.22 -5.78 3.61 -5.78 -3.61 0 -7.22z" fill="#5e4fa2" stroke="#5e4fa2"/>
<path d="M986.2 427.2l5.78 3.61 0 7.22 -5.78 3.61 -5.78 -3.61 0 -7.22z" fill="#5e4fa2" stroke="#5e4fa2"/>
<path d="M1001.6 427.2l5.78 3.61 0 7.22 -5.78 3.61 -5.78 -3.61 0 -7.22z" fill="#5e4fa2" stroke="#5e4fa2"/>
<path d="M793.4 442.5l5.78 3.61 0 7.22 -5.78 3.61 -5.78 -3.61 0 -7.22z" fill="#555aa7" stroke="#555aa7"/>
<path d="M808.8 442.5l5.78 3.61 0 7.22 -5.78 3.61 -5.78 -3.61 0 -7.22z" fill="#5e4fa2" stroke="#5e4fa2"/>
<path d="M824.2 442.5l5.78 3.61 0 7.22 -5.78 3.61 -5.78 -3.61 0 -7.22z" fill="#5e4fa2" stroke="#5e4fa2"/>
<path d="M839.7 442.5l5.78 3.61 0 7.22 -5.78 3.61 -5.78 -3.61 0 -7.22z" fill="#5e4fa2" stroke="#5e4fa2"/>
<path d="M855.1 442.5l5.78 3.61 0 7.22 -5.78 3.61 -5.78 -3.61 0 -7.22z" fill="#5e4fa2" stroke="#5e4fa2"/>
<path d="M870.5 442.5l5.78 3.61 0 7.22 -5.78 3.61 -5.78 -3.61 0 -7.22z" fill="#5e4fa2" stroke="#5e4fa2"/>
<path d="M885.9 442.5l5.78 3.61 0 7.22 -5.78 3.61 -5.78 -3.61 0 -7.22z" fill="#5e4fa2" stroke="#5e4fa2"/>
<path d="M901.3 442.5l5.78 3.61 0 7.22 -5.78 3.61 -5.78 -3.61 0 -7.22z" fill="#5e4fa2" stroke="#5e4fa2"/>
<path d="M916.8 442.5l5.78 3.61 0 7.22 -5.78 3.61 -5.78 -3.61 0 -7.22z" fill="#5e4fa2" stroke="#5e4fa2"/>
<path d="M932.2 442.5l5.78 3.61 0 7.22 -5.78 3.61 -5.78 -3.61 0 -7.22z" fill="#5e4fa2" stroke="#5e4fa2"/>
<path d="M947.6 442.5l5.78 3.61 0 7.22 -5.78 3.61 -5.78 -3.61 0 -7.22z" fill="#5e4fa2" stroke="#5e4fa2"/>
<path d="M963.0 442.5l5.78 3.61 0 7.22 -5.78 3.61 -5.78 -3.61 0 -7.22z" fill="#5e4fa2" stroke="#5e4fa2"/>
<path d="M978.4 442.5l5.78 3.61 0 7.22 -5.78 3.61 -5.78 -3.61 0 -7.22z" fill="#5e4fa2" stroke="#5e4fa2"/>
<path d="M993.9 442.5l5.78 3.61 0 7.22 -5.78 3.61 -5.78 -3.61 0 -7.22z" fill="#5e4fa2" stroke="#5e4fa2"/>
<path d="M1024.7 442.5l5.78 3.61 0 7.22 -5.78 3.61 -5.78 -3.61 0 -7.22z" fill="#5e4fa2" stroke="#5e4fa2"/>
<path d="M785.7 457.7l5.78 3.61 0 7.22 -5.78 3.61 -5.78 -3.61 0 -7.22z" fill="#ffffbf" stroke="#ffffbf"/>
<path d="M801.1 457.7l5.78 3.61 0 7.22 -5.78 3.61 -5.78 -3.61 0 -7.22z" fill="#5160aa" stroke="#5160aa"/>
<path d="M816.5 457.7l5.78 3.61 0 7.22 -5.78 3.61 -5.78 -3.61 0 -7.22z" fill="#5e4fa2" stroke="#5e4fa2"/>
<path d="M832.0 457.7l5.78 3.61 0 7.22 -5.78 3.61 -5.78 -3.61 0 -7.22z" fill="#5e4fa2" stroke="#5e4fa2"/>
<path d="M847.4 457.7l5.78 3.61 0 7.22 -5.78 3.61 -5.78 -3.61 0 -7.22z" fill="#5e4fa2" stroke="#5e4fa2"/>
<path d="M862.8 457.7l5.78 3.61 0 7.22 -5.78 3.61 -5.78 -3.61 0 -7.22z" fill="#5e4fa2" stroke="#5e4fa2"/>
<path d="M878.2 457.7l5.78 3.61 0 7.22 -5.78 3.61 -5.78 -3.61 0 -7.22z" fill="#5e4fa2" stroke="#5e4fa2"/>
<path d="M893.6 457.7l5.78 3.61 0 7.22 -5.78 3.61 -5.78 -3.61 0 -7.22z" fill="#5e4fa2" stroke="#5e4fa2"/>
<path d="M909.1 457.7l5.78 3.61 0 7.22 -5.78 3.61 -5.78 -3.61 0 -7.22z" fill="#5e4fa2" stroke="#5e4fa2"/>
<path d="M924.5 457.7l5.78 3.61 0 7.22 -5.78 3.61 -5.78 -3.61 0 -7.22z" fill="#5e4fa2" stroke="#5e4fa2"/>
<path d="M939.9 457.7l5.78 3.61 0 7.22 -5.78 3.61 -5.78 -3.61 0 -7.22z" fill="#5e4fa2" stroke="#5e4fa2"/>
<path d="M955.3 457.7l5.78 3.61 0 7.22 -5.78 3.61 -5.78 -3.61 0 -7.22z" fill="#5e4fa2" stroke="#5e4fa2"/>
<path d="M970.7 457.7l5.78 3.61 0 7.22 -5.78 3.61 -5.78 -3.61 0 -7.22z" fill="#5e4fa2" stroke="#5e4fa2"/>
<path d="M986.2 457.7l5.78 3.61 0 7.22 -5.78 3.61 -5.78 -3.61 0 -7.22z" fill="#5e4fa2" stroke="#5e4fa2"/>
<path d="M793.4 473.0l5.78 3.61 0 7.22 -5.78 3.61 -5.78 -3.61 0 -7.22z" fill="#5a55a5" stroke="#5a55a5"/>
<path d="M808.8 473.0l5.78 3.61 0 7.22 -5.78 3.61 -5.78 -3.61 0 -7.22z" fill="#5e4fa2" stroke="#5e4fa2"/>
<path d="M824.2 473.0l5.78 3.61 0 7.22 -5.78 3.61 -5.78 -3.61 0 -7.22z" fill="#5e4fa2" stroke="#5e4fa2"/>
<path d="M839.7 473.0l5.78 3.61 0 7.22 -5.78 3.61 -5.78 -3.61 0 -7.22z" fill="#5e4fa2" stroke="#5e4fa2"/>
<path d="M855.1 473.0l5.78 3.61 0 7.22 -5.78 3.61 -5.78 -3.61 0 -7.22z" fill="#5e4fa2" stroke="#5e4fa2"/>
<path d="M870.5 473.0l5.78 3.61 0 7.22 -5.78 3.61 -5.78 -3.61 0 -7.22z" fill="#5e4fa2" stroke="#5e4fa2"/>
<path d="M885.9 473.0l5.78 3.61 0 7.22 -5.78 3.61 -5.78 -3.61 0 -7.22z" fill="#5e4fa2" stroke="#5e4fa2"/>
<path d="M901.3 473.0l5.78 3.61 0 7.22 -5.78 3.61 -5.78 -3.61 0 -7.22z" fill="#5e4fa2" stroke="#5e4fa2"/>
<path d="M916.8 473.0l5.78 3.61 0 7.22 -5.78 3.61 -5.78 -3.61 0 -7.22z" fill="#5e4fa2" stroke="#5e4fa2"/>
<path d="M932.2 473.0l5.78 3.61 0 7.22 -5.78 3.61 -5.78 -3.61 0 -7.22z" fill="#5e4fa2" stroke="#5e4fa2"/>
<path d="M947.6 473.0l5.78 3.61 0 7.22 -5.78 3.61 -5.78 -3.61 0 -7.22z" fill="#5e4fa2" stroke="#5e4fa2"/>
<path d="M963.0 473.0l5.78 3.61 0 7.22 -5.78 3.61 -5.78 -3.61 0 -7.22z" fill="#5e4fa2" stroke="#5e4fa2"/>
<path d="M978.4 473.0l5.78 3.61 0 7.22 -5.78 3.61 -5.78 -3.61 0 -7.22z" fill="#5e4fa2" stroke="#5e4fa2"/>
<path d="M993.9 473.0l5.78 3.61 0 7.22 -5.78 3.61 -5.78 -3.61 0 -7.22z" fill="#5e4fa2" stroke="#5e4fa2"/>
<path d="M1024.7 473.0l5.78 3.61 0 7.22 -5.78 3.61 -5.78 -3.61 0 -7.22z" fill="#5e4fa2" stroke="#5e4fa2"/>
<path d="M785.7 488.2l5.78 3.61 0 7.22 -5.78 3.61 -5.78 -3.61 0 -7.22z" fill="#56b1ac" stroke="#56b1ac"/>
<path d="M801.1 488.2l5.78 3.61 0 7.22 -5.78 3.61 -5.78 -3.61 0 -7.22z" fill="#5160aa" stroke="#5160aa"/>
<path d="M816.5 488.2l5.78 3.61 0 7.22 -5.78 3.61 -5.78 -3.61 0 -7.22z" fill="#5e4fa2" stroke="#5e4fa2"/>
<path d="M832.0 488.2l5.78 3.61 0 7.22 -5.78 3.61 -5.78 -3.61 0 -7.22z" fill="#5e4fa2" stroke="#5e4fa2"/>
<path d="M847.4 488.2l5.78 3.61 0 7.22 -5.78 3.61 -5.78 -3.61 0 -7.22z" fill="#5e4fa2" stroke="#5e4fa2"/>
<path d="M862.8 488.2l5.78 3.61 0 7.22 -5.78 3.61 -5.78 -3.61 0 -7.22z" fill="#5e4fa2" stroke="#5e4fa2"/>
<path d="M878.2 488.2l5.78 3.61 0 7.22 -5.78 3.61 -5.78 -3.61 0 -7.22z" fill="#5e4fa2" stroke="#5e4fa2"/>
<path d="M893.6 488.2l5.78 3.61 0 7.22 -5.78 3.61 -5.78 -3.61 0 -7.22z" fill="#5e4fa2" stroke="#5e4fa2"/>
<path d="M909.1 488.2l5.78 3.61 0 7.22 -5.78 3.61 -5.78 -3.61 0 -7.22z" fill="#5e4fa2" stroke="#5e4fa2"/>
<path d="M924.5 488.2l5.78 3.61 0 7.22 -5.78 3.61 -5.78 -3.61 0 -7.22z" fill="#5e4fa2" stroke="#5e4fa2"/>
<path d="M939.9 488.2l5.78 3.61 0 7.22 -5.78 3.61 -5.78 -3.61 0 -7.22z" fill="#5e4fa2" stroke="#5e4fa2"/>
<path d="M955.3 488.2l5.78 3.61 0 7.22 -5.78 3.61 -5.78 -3.61 0 -7.22z" fill="#5e4fa2" stroke="#5e4fa2"/>
<path d="M986.2 488.2l5.78 3.61 0 7.22 -5.78 3.61 -5.78 -3.61 0 -7.22z" fill="#5e4fa2" stroke="#5e4fa2"/>
<path d="M1017.0 488.2l5.78 3.61 0 7.22 -5.78 3.61 -5.78 -3.61 0 -7.22z" fill="#5e4fa2" stroke="#5e4fa2"/>
<path d="M1063.3 488.2l5.78 3.61 0 7.22 -5.78 3.61 -5.78 -3.61 0 -7.22z" fill="#5e4fa2" stroke="#5e4fa2"/>
<path d="M793.4 503.4l5.78 3.61 0 7.22 -5.78 3.61 -5.78 -3.61 0 -7.22z" fill="#5a55a5" stroke="#5a55a5"/>
<path d="M808.8 503.4l5.78 3.61 0 7.22 -5.78 3.61 -5.78 -3.61 0 -7.22z" fill="#5e4fa2" stroke="#5e4fa2"/>
<path d="M824.2 503.4l5.78 3.61 0 7.22 -5.78 3.61 -5.78 -3.61 0 -7.22z" fill="#5e4fa2" stroke="#5e4fa2"/>
<path d="M839.7 503.4l5.78 3.61 0 7.22 -5.78 3.61 -5.78 -3.61 0 -7.22z" fill="#5e4fa2" stroke="#5e4fa2"/>
<path d="M855.1 503.4l5.78 3.61 0 7.22 -5.78 3.61 -5.78 -3.61 0 -7.22z" fill="#5e4fa2" stroke="#5e4fa2"/>
<path d="M870.5 503.4l5.78 3.61 0 7.22 -5.78 3.61 -5.78 -3.61 0 -7.22z" fill="#5e4fa2" stroke="#5e4fa2"/>
<path d="M885.9 503.4l5.78 3.61 0 7.22 -5.78 3.61 -5.78 -3.61 0 -7.22z" fill="#5e4fa2" stroke="#5e4fa2"/>
<path d="M901.3 503.4l5.78 3.61 0 7.22 -5.78 3.61 -5.78 -3.61 0 -7.22z" fill="#5e4fa2" stroke="#5e4fa2"/>
<path d="M916.8 503.4l5.78 3.61 0 7.22 -5.78 3.61 -5.78 -3.61 0 -7.22z" fill="#5e4fa2" stroke="#5e4fa2"/>
<path d="M932.2 503.4l5.78 3.61 0 7.22 -5.78 3.61 -5.78 -3.61 0 -7.22z" fill="#5e4fa2" stroke="#5e4fa2"/>
<path d="M947.6 503.4l5.78 3.61 0 7.22 -5.78 3.61 -5.78 -3.61 0 -7.22z" fill="#5e4fa2" stroke="#5e4fa2"/>
<path d="M963.0 503.4l5.78 3.61 0 7.22 -5.78 3.61 -5.78 -3.61 0 -7.22z" fill="#5e4fa2" stroke="#5e4fa2"/>
<path d="M978.4 503.4l5.78 3.61 0 7.22 -5.78 3.61 -5.78 -3.61 0 -7.22z" fill="#5e4fa2" stroke="#5e4fa2"/>
<path d="M993.9 503.4l5.78 3.61 0 7.22 -5.78 3.61 -5.78 -3.61 0 -7.22z" fill="#5e4fa2" stroke="#5e4fa2"/>
<path d="M1009.3 503.4l5.78 3.61 0 7.22 -5.78 3.61 -5.78 -3.61 0 -7.22z" fill="#5e4fa2" stroke="#5e4fa2"/>
<path d="M1040.1 503.4l5.78 3.61 0 7.22 -5.78 3.61 -5.78 -3.61 0 -7.22z" fill="#5e4fa2" stroke="#5e4fa2"/>
<path d="M785.7 518.7l5.78 3.61 0 7.22 -5.78 3.61 -5.78 -3.61 0 -7.22z" fill="#3b7db8" stroke="#3b7db8"/>
<path d="M801.1 518.7l5.78 3.61 0 7.22 -5.78 3.61 -5.78 -3.61 0 -7.22z" fill="#555aa7" stroke="#555aa7"/>
<path d="M816.5 518.7l5.78 3.61 0 7.22 -5.78 3.61 -5.78 -3.61 0 -7.22z" fill="#5e4fa2" stroke="#5e4fa2"/>
<path d="M832.0 518.7l5.78 3.61 0 7.22 -5.78 3.61 -5.78 -3.61 0 -7.22z" fill="#5e4fa2" stroke="#5e4fa2"/>
<path d="M847.4 518.7l5.78 3.61 0 7.22 -5.78 3.61 -5.78 -3.61 0 -7.22z" fill="#5e4fa2" stroke="#5e4fa2"/>
<path d="M862.8 518.7l5.78 3.61 0 7.22 -5.78 3.61 -5.78 -3.61 0 -7.22z" fill="#5e4fa2" stroke="#5e4fa2"/>
<path d="M878.2 518.7l5.78 3.61 0 7.22 -5.78 3.61 -5.78 -3.61 0 -7.22z" fill="#5e4fa2" stroke="#5e4fa2"/>
<path d="M893.6 518.7l5.78 3.61 0 7.22 -5.78 3.61 -5.78 -3.61 0 -7.22z" fill="#5e4fa2" stroke="#5e4fa2"/>
<path d="M909.1 518.7l5.78 3.61 0 7.22 -5.78 3.61 -5.78 -3.61 0 -7.22z" fill="#5e4fa2" stroke="#5e4fa2"/>
<path d="M924.5 518.7l5.78 3.61 0 7.22 -5.78 3.61 -5.78 -3.61 0 -7.22z" fill="#5e4fa2" stroke="#5e4fa2"/>
<path d="M939.9 518.7l5.78 3.61 0 7.22 -5.78 3.61 -5.78 -3.61 0 -7.22z" fill="#5e4fa2" stroke="#5e4fa2"/>
<path d="M955.3 518.7l5.78 3.61 0 7.22 -5.78 3.61 -5.78 -3.61 0 -7.22z" fill="#5e4fa2" stroke="#5e4fa2"/>
<path d="M793.4 533.9l5.78 3.61 0 7.22 -5.78 3.61 -5.78 -3.61 0 -7.22z" fill="#5e4fa2" stroke="#5e4fa2"/>
<path d="M808.8 533.9l5.78 3.61 0 7.22 -5.78 3.61 -5.78 -3.61 0 -7.22z" fill="#5e4fa2" stroke="#5e4fa2"/>
<path d="M824.2 533.9l5.78 3.61 0 7.22 -5.78 3.61 -5.78 -3.61 0 -7.22z" fill="#5e4fa2" stroke="#5e4fa2"/>
<path d="M839.7 533.9l5.78 3.61 0 7.22 -5.78 3.61 -5.78 -3.61 0 -7.22z" fill="#5e4fa2" stroke="#5e4fa2"/>
<path d="M855.1 533.9l5.78 3.61 0 7.22 -5.78 3.61 -5.78 -3.61 0 -7.22z" fill="#5e4fa2" stroke="#5e4fa2"/>
<path d="M870.5 533.9l5.78 3.61 0 7.22 -5.78 3.61 -5.78 -3.61 0 -7.22z" fill="#5e4fa2" stroke="#5e4fa2"/>
<path d="M885.9 533.9l5.78 3.61 0 7.22 -5.78 3.61 -5.78 -3.61 0 -7.22z" fill="#5e4fa2" stroke="#5e4fa2"/>
<path d="M901.3 533.9l5.78 3.61 0 7.22 -5.78 3.61 -5.78 -3.61 0 -7.22z" fill="#5e4fa2" stroke="#5e4fa2"/>
<path d="M916.8 533.9l5.78 3.61 0 7.22 -5.78 3.61 -5.78 -3.61 0 -7.22z" fill="#5e4fa2" stroke="#5e4fa2"/>
<path d="M932.2 533.9l5.78 3.61 0 7.22 -5.78 3.61 -5.78 -3.61 0 -7.22z" fill="#5e4fa2" stroke="#5e4fa2"/>
<path d="M947.6 533.9l5.78 3.61 0 7.22 -5.78 3.61 -5.78 -3.61 0 -7.22z" fill="#5e4fa2" stroke="#5e4fa2"/>
<path d="M963.0 533.9l5.78 3.61 0 7.22 -5.78 3.61 -5.78 -3.61 0 -7.22z" fill="#5e4fa2" stroke="#5e4fa2"/>
<path d="M785.7 549.2l5.78 3.61 0 7.22 -5.78 3.61 -5.78 -3.61 0 -7.22z" fill="#486cb0" stroke="#486cb0"/>
<path d="M801.1 549.2l5.78 3.61 0 7.22 -5.78 3.61 -5.78 -3.61 0 -7.22z" fill="#5e4fa2" stroke="#5e4fa2"/>
<path d="M816.5 549.2l5.78 3.61 0 7.22 -5.78 3.61 -5.78 -3.61 0 -7.22z" fill="#5e4fa2" stroke="#5e4fa2"/>
<path d="M832.0 549.2l5.78 3.61 0 7.22 -5.78 3.61 -5.78 -3.61 0 -7.22z" fill="#5e4fa2" stroke="#5e4fa2"/>
<path d="M847.4 549.2l5.78 3.61 0 7.22 -5.78 3.61 -5.78 -3.61 0 -7.22z" fill="#5e4fa2" stroke="#5e4fa2"/>
<path d="M862.8 549.2l5.78 3.61 0 7.22 -5.78 3.61 -5.78 -3.61 0 -7.22z" fill="#5e4fa2" stroke="#5e4fa2"/>
<path d="M878.2 549.2l5.78 3.61 0 7.22 -5.78 3.61 -5.78 -3.61 0 -7.22z" fill="#5e4fa2" stroke="#5e4fa2"/>
<path d="M893.6 549.2l5.78 3.61 0 7.22 -5.78 3.61 -5.78 -3.61 0 -7.22z" fill="#5e4fa2" stroke="#5e4fa2"/>
<path d="M909.1 549.2l5.78 3.61 0 7.22 -5.78 3.61 -5.78 -3.61 0 -7.22z" fill="#5e4fa2" stroke="#5e4fa2"/>
<path d="M924.5 549.2l5.78 3.61 0 7.22 -5.78 3.61 -5.78 -3.61 0 -7.22z" fill="#5e4fa2" stroke="#5e4fa2"/>
<path d="M939.9 549.2l5.78 3.61 0 7.22 -5.78 3.61 -5.78 -3.61 0 -7.22z" fill="#5e4fa2" stroke="#5e4fa2"/>
<path d="M1001.6 549.2l5.78 3.61 0 7.22 -5.78 3.61 -5.78 -3.61 0 -7.22z" fill="#5e4fa2" stroke="#5e4fa2"/>
<path d="M1094.1 549.2l5.78 3.61 0 7.22 -5.78 3.61 -5.78 -3.61 0 -7.22z" fill="#5e4fa2" stroke="#5e4fa2"/>
<path d="M793.4 564.4l5.78 3.61 0 7.22 -5.78 3.61 -5.78 -3.61 0 -7.22z" fill="#5e4fa2" stroke="#5e4fa2"/>
<path d="M808.8 564.4l5.78 3.61 0 7.22 -5.78 3.61 -5.78 -3.61 0 -7.22z" fill="#5e4fa2" stroke="#5e4fa2"/>
<path d="M824.2 564.4l5.78 3.61 0 7.22 -5.78 3.61 -5.78 -3.61 0 -7.22z" fill="#5e4fa2" stroke="#5e4fa2"/>
<path d="M839.7 564.4l5.78 3.61 0 7.22 -5.78 3.61 -5.78 -3.61 0 -7.22z" fill="#5e4fa2" stroke="#5e4fa2"/>
<path d="M855.1 564.4l5.78 3.61 0 7.22 -5.78 3.61 -5.78 -3.61 0 -7.22z" fill="#5e4fa2" stroke="#5e4fa2"/>
<path d="M870.5 564.4l5.78 3.61 0 7.22 -5.78 3.61 -5.78 -3.61 0 -7.22z" fill="#5e4fa2" stroke="#5e4fa2"/>
<path d="M885.9 564.4l5.78 3.61 0 7.22 -5.78 3.61 -5.78 -3.61 0 -7.22z" fill="#5e4fa2" stroke="#5e4fa2"/>
<path d="M901.3 564.4l5.78 3.61 0 7.22 -5.78 3.61 -5.78 -3.61 0 -7.22z" fill="#5e4fa2" stroke="#5e4fa2"/>
<path d="M916.8 564.4l5.78 3.61 0 7.22 -5.78 3.61 -5.78 -3.61 0 -7.22z" fill="#5e4fa2" stroke="#5e4fa2"/>
<path d="M932.2 564.4l5.78 3.61 0 7.22 -5.78 3.61 -5.78 -3.61 0 -7.22z" fill="#5e4fa2" stroke="#5e4fa2"/>
<path d="M947.6 564.4l5.78 3.61 0 7.22 -5.78 3.61 -5.78 -3.61 0 -7.22z" fill="#5e4fa2" stroke="#5e4fa2"/>
<path d="M978.4 564.4l5.78 3.61 0 7.22 -5.78 3.61 -5.78 -3.61 0 -7.22z" fill="#5e4fa2" stroke="#5e4fa2"/>
<path d="M785.7 579.7l5.78 3.61 0 7.22 -5.78 3.61 -5.78 -3.61 0 -7.22z" fill="#5e4fa2" stroke="#5e4fa2"/>
<path d="M801.1 579.7l5.78 3.61 0 7.22 -5.78 3.61 -5.78 -3.61 0 -7.22z" fill="#5e4fa2" stroke="#5e4fa2"/>
<path d="M816.5 579.7l5.78 3.61 0 7.22 -5.78 3.61 -5.78 -3.61 0 -7.22z" fill="#5e4fa2" stroke="#5e4fa2"/>
<path d="M832.0 579.7l5.78 3.61 0 7.22 -5.78 3.61 -5.78 -3.61 0 -7.22z" fill="#5e4fa2" stroke="#5e4fa2"/>
<path d="M847.4 579.7l5.78 3.61 0 7.22 -5.78 3.61 -5.78 -3.61 0 -7.22z" fill="#5e4fa2" stroke="#5e4fa2"/>
<path d="M862.8 579.7l5.78 3.61 0 7.22 -5.78 3.61 -5.78 -3.61 0 -7.22z" fill="#5e4fa2" stroke="#5e4fa2"/>
<path d="M878.2 579.7l5.78 3.61 0 7.22 -5.78 3.61 -5.78 -3.61 0 -7.22z" fill="#5e4fa2" stroke="#5e4fa2"/>
<path d="M893.6 579.7l5.78 3.61 0 7.22 -5.78 3.61 -5.78 -3.61 0 -7.22z" fill="#5e4fa2" stroke="#5e4fa2"/>
<path d="M909.1 579.7l5.78 3.61 0 7.22 -5.78 3.61 -5.78 -3.61 0 -7.22z" fill="#5e4fa2" stroke="#5e4fa2"/>
<path d="M924.5 579.7l5.78 3.61 0 7.22 -5.78 3.61 -5.78 -3.61 0 -7.22z" fill="#5e4fa2" stroke="#5e4fa2"/>
<path d="M939.9 579.7l5.78 3.61 0 7.22 -5.78 3.61 -5.78 -3.61 0 -7.22z" fill="#5e4fa2" stroke="#5e4fa2"/>
<path d="M955.3 579.7l5.78 3.61 0 7.22 -5.78 3.61 -5.78 -3.61 0 -7.22z" fill="#5e4fa2" stroke="#5e4fa2"/>
<path d="M970.7 579.7l5.78 3.61 0 7.22 -5.78 3.61 -5.78 -3.61 0 -7.22z" fill="#5e4fa2" stroke="#5e4fa2"/>
<path d="M986.2 579.7l5.78 3.61 0 7.22 -5.78 3.61 -5.78 -3.61 0 -7.22z" fill="#5e4fa2" stroke="#5e4fa2"/>
<path d="M808.8 594.9l5.78 3.61 0 7.22 -5.78 3.61 -5.78 -3.61 0 -7.22z" fill="#5e4fa2" stroke="#5e4fa2"/>
<path d="M824.2 594.9l5.78 3.61 0 7.22 -5.78 3.61 -5.78 -3.61 0 -7.22z" fill="#5e4fa2" stroke="#5e4fa2"/>
<path d="M839.7 594.9l5.78 3.61 0 7.22 -5.78 3.61 -5.78 -3.61 0 -7.22z" fill="#5e4fa2" stroke="#5e4fa2"/>
<path d="M855.1 594.9l5.78 3.61 0 7.22 -5.78 3.61 -5.78 -3.61 0 -7.22z" fill="#5e4fa2" stroke="#5e4fa2"/>
<path d="M870.5 594.9l5.78 3.61 0 7.22 -5.78 3.61 -5.78 -3.61 0 -7.22z" fill="#5e4fa2" stroke="#5e4fa2"/>
<path d="M885.9 594.9l5.78 3.61 0 7.22 -5.78 3.61 -5.78 -3.61 0 -7.22z" fill="#5e4fa2" stroke="#5e4fa2"/>
<path d="M901.3 594.9l5.78 3.61 0 7.22 -5.78 3.61 -5.78 -3.61 0 -7.22z" fill="#5e4fa2" stroke="#5e4fa2"/>
<path d="M916.8 594.9l5.78 3.61 0 7.22 -5.78 3.61 -5.78 -3.61 0 -7.22z" fill="#5e4fa2" stroke="#5e4fa2"/>
<path d="M932.2 594.9l5.78 3.61 0 7.22 -5.78 3.61 -5.78 -3.61 0 -7.22z" fill="#5e4fa2" stroke="#5e4fa2"/>
<path d="M963.0 594.9l5.78 3.61 0 7.22 -5.78 3.61 -5.78 -3.61 0 -7.22z" fill="#5e4fa2" stroke="#5e4fa2"/>
<path d="M785.7 610.1l5.78 3.61 0 7.22 -5.78 3.61 -5.78 -3.61 0 -7.22z" fill="#5e4fa2" stroke="#5e4fa2"/>
<path d="M832.0 610.1l5.78 3.61 0 7.22 -5.78 3.61 -5.78 -3.61 0 -7.22z" fill="#5e4fa2" stroke="#5e4fa2"/>
<path d="M862.8 610.1l5.78 3.61 0 7.22 -5.78 3.61 -5.78 -3.61 0 -7.22z" fill="#5e4fa2" stroke="#5e4fa2"/>
<path d="M909.1 610.1l5.78 3.61 0 7.22 -5.78 3.61 -5.78 -3.61 0 -7.22z" fill="#5e4fa2" stroke="#5e4fa2"/>
<path d="M924.5 610.1l5.78 3.61 0 7.22 -5.78 3.61 -5.78 -3.61 0 -7.22z" fill="#5e4fa2" stroke="#5e4fa2"/>
<path d="M793.4 625.4l5.78 3.61 0 7.22 -5.78 3.61 -5.78 -3.61 0 -7.22z" fill="#555aa7" stroke="#555aa7"/>
<path d="M808.8 625.4l5.78 3.61 0 7.22 -5.78 3.61 -5.78 -3.61 0 -7.22z" fill="#5e4fa2" stroke="#5e4fa2"/>
<path d="M824.2 625.4l5.78 3.61 0 7.22 -5.78 3.61 -5.78 -3.61 0 -7.22z" fill="#5e4fa2" stroke="#5e4fa2"/>
<path d="M839.7 625.4l5.78 3.61 0 7.22 -5.78 3.61 -5.78 -3.61 0 -7.22z" fill="#5e4fa2" stroke="#5e4fa2"/>
<path d="M855.1 625.4l5.78 3.61 0 7.22 -5.78 3.61 -5.78 -3.61 0 -7.22z" fill="#5e4fa2" stroke="#5e4fa2"/>
<path d="M870.5 625.4l5.78 3.61 0 7.22 -5.78 3.61 -5.78 -3.61 0 -7.22z" fill="#5e4fa2" stroke="#5e4fa2"/></g>
<rect x="756.40" y="73.10" width="506.90" height="584.40" fill="none" stroke="#333" stroke-width="2.4"/>
<line x1="747.60" y1="632.00" x2="756.40" y2="632.00" stroke="#333" stroke-width="2.8"/>
<text x="707.57" y="641.19" font-size="29.03" textLength="31.00" lengthAdjust="spacingAndGlyphs" fill="#262626">0.0</text>
<line x1="747.60" y1="505.02" x2="756.40" y2="505.02" stroke="#333" stroke-width="2.8"/>
<text x="707.63" y="514.22" font-size="29.03" textLength="31.00" lengthAdjust="spacingAndGlyphs" fill="#262626">0.5</text>
<line x1="747.60" y1="378.05" x2="756.40" y2="378.05" stroke="#333" stroke-width="2.8"/>
<text x="707.57" y="387.24" font-size="29.03" textLength="31.00" lengthAdjust="spacingAndGlyphs" fill="#262626">1.0</text>
<line x1="747.60" y1="251.08" x2="756.40" y2="251.08" stroke="#333" stroke-width="2.8"/>
<text x="707.63" y="260.12" font-size="29.03" textLength="31.00" lengthAdjust="spacingAndGlyphs" fill="#262626">1.5</text>
<line x1="747.60" y1="124.10" x2="756.40" y2="124.10" stroke="#333" stroke-width="2.8"/>
<text x="707.57" y="133.29" font-size="29.03" textLength="31.00" lengthAdjust="spacingAndGlyphs" fill="#262626">2.0</text>
<line x1="778.40" y1="657.50" x2="778.40" y2="665.80" stroke="#333" stroke-width="2.8"/>
<text x="772.30" y="691.67" font-size="29.03" textLength="12.40" lengthAdjust="spacingAndGlyphs" fill="#262626">0</text>
<line x1="870.90" y1="657.50" x2="870.90" y2="665.80" stroke="#333" stroke-width="2.8"/>
<text x="858.18" y="691.67" font-size="29.03" textLength="24.81" lengthAdjust="spacingAndGlyphs" fill="#262626">10</text>
<line x1="963.40" y1="657.50" x2="963.40" y2="665.80" stroke="#333" stroke-width="2.8"/>
<text x="950.97" y="691.67" font-size="29.03" textLength="24.81" lengthAdjust="spacingAndGlyphs" fill="#262626">20</text>
<line x1="1055.90" y1="657.50" x2="1055.90" y2="665.80" stroke="#333" stroke-width="2.8"/>
<text x="1043.61" y="691.67" font-size="29.03" textLength="24.81" lengthAdjust="spacingAndGlyphs" fill="#262626">30</text>
<line x1="1148.40" y1="657.50" x2="1148.40" y2="665.80" stroke="#333" stroke-width="2.8"/>
<text x="1136.28" y="691.67" font-size="29.03" textLength="24.81" lengthAdjust="spacingAndGlyphs" fill="#262626">40</text>
<line x1="1240.90" y1="657.50" x2="1240.90" y2="665.80" stroke="#333" stroke-width="2.8"/>
<text x="1228.59" y="691.67" font-size="29.03" textLength="24.81" lengthAdjust="spacingAndGlyphs" fill="#262626">50</text>
<text x="923.14" y="59.51" font-size="26.93" textLength="164.39" lengthAdjust="spacingAndGlyphs" font-weight="bold">All distal peaks</text>
<text x="783.00" y="720.20" font-size="26.77" textLength="451.82" lengthAdjust="spacingAndGlyphs">% of cells with accesible peak in P56 clusters</text>
<text x="704.26" y="445.42" font-size="27.68" textLength="170.86" lengthAdjust="spacingAndGlyphs" transform="rotate(-90 704.26 445.42)">Shannon entropy</text>
<g stroke-width="1.3" stroke-opacity="0.35"><path d="M1506.2 91.9l5.86 3.61 0 7.22 -5.86 3.61 -5.86 -3.61 0 -7.22z" fill="#5e4fa2" stroke="#5e4fa2"/>
<path d="M1521.9 91.9l5.86 3.61 0 7.22 -5.86 3.61 -5.86 -3.61 0 -7.22z" fill="#5e4fa2" stroke="#5e4fa2"/>
<path d="M1537.5 91.9l5.86 3.61 0 7.22 -5.86 3.61 -5.86 -3.61 0 -7.22z" fill="#5e4fa2" stroke="#5e4fa2"/>
<path d="M1553.1 91.9l5.86 3.61 0 7.22 -5.86 3.61 -5.86 -3.61 0 -7.22z" fill="#5e4fa2" stroke="#5e4fa2"/>
<path d="M1568.7 91.9l5.86 3.61 0 7.22 -5.86 3.61 -5.86 -3.61 0 -7.22z" fill="#5e4fa2" stroke="#5e4fa2"/>
<path d="M1584.3 91.9l5.86 3.61 0 7.22 -5.86 3.61 -5.86 -3.61 0 -7.22z" fill="#5e4fa2" stroke="#5e4fa2"/>
<path d="M1600.0 91.9l5.86 3.61 0 7.22 -5.86 3.61 -5.86 -3.61 0 -7.22z" fill="#5e4fa2" stroke="#5e4fa2"/>
<path d="M1615.6 91.9l5.86 3.61 0 7.22 -5.86 3.61 -5.86 -3.61 0 -7.22z" fill="#5e4fa2" stroke="#5e4fa2"/>
<path d="M1631.2 91.9l5.86 3.61 0 7.22 -5.86 3.61 -5.86 -3.61 0 -7.22z" fill="#5e4fa2" stroke="#5e4fa2"/>
<path d="M1646.8 91.9l5.86 3.61 0 7.22 -5.86 3.61 -5.86 -3.61 0 -7.22z" fill="#5e4fa2" stroke="#5e4fa2"/>
<path d="M1678.1 91.9l5.86 3.61 0 7.22 -5.86 3.61 -5.86 -3.61 0 -7.22z" fill="#5e4fa2" stroke="#5e4fa2"/>
<path d="M1693.7 91.9l5.86 3.61 0 7.22 -5.86 3.61 -5.86 -3.61 0 -7.22z" fill="#5e4fa2" stroke="#5e4fa2"/>
<path d="M1709.3 91.9l5.86 3.61 0 7.22 -5.86 3.61 -5.86 -3.61 0 -7.22z" fill="#5e4fa2" stroke="#5e4fa2"/>
<path d="M1740.5 91.9l5.86 3.61 0 7.22 -5.86 3.61 -5.86 -3.61 0 -7.22z" fill="#5e4fa2" stroke="#5e4fa2"/>
<path d="M1803.0 91.9l5.86 3.61 0 7.22 -5.86 3.61 -5.86 -3.61 0 -7.22z" fill="#5e4fa2" stroke="#5e4fa2"/>
<path d="M1818.6 91.9l5.86 3.61 0 7.22 -5.86 3.61 -5.86 -3.61 0 -7.22z" fill="#5e4fa2" stroke="#5e4fa2"/>
<path d="M1865.5 91.9l5.86 3.61 0 7.22 -5.86 3.61 -5.86 -3.61 0 -7.22z" fill="#5e4fa2" stroke="#5e4fa2"/>
<path d="M1482.8 107.1l5.86 3.61 0 7.22 -5.86 3.61 -5.86 -3.61 0 -7.22z" fill="#555aa7" stroke="#555aa7"/>
<path d="M1498.4 107.1l5.86 3.61 0 7.22 -5.86 3.61 -5.86 -3.61 0 -7.22z" fill="#5160aa" stroke="#5160aa"/>
<path d="M1514.0 107.1l5.86 3.61 0 7.22 -5.86 3.61 -5.86 -3.61 0 -7.22z" fill="#5160aa" stroke="#5160aa"/>
<path d="M1529.7 107.1l5.86 3.61 0 7.22 -5.86 3.61 -5.86 -3.61 0 -7.22z" fill="#5160aa" stroke="#5160aa"/>
<path d="M1545.3 107.1l5.86 3.61 0 7.22 -5.86 3.61 -5.86 -3.61 0 -7.22z" fill="#5160aa" stroke="#5160aa"/>
<path d="M1560.9 107.1l5.86 3.61 0 7.22 -5.86 3.61 -5.86 -3.61 0 -7.22z" fill="#5160aa" stroke="#5160aa"/>
<path d="M1576.5 107.1l5.86 3.61 0 7.22 -5.86 3.61 -5.86 -3.61 0 -7.22z" fill="#555aa7" stroke="#555aa7"/>
<path d="M1592.1 107.1l5.86 3.61 0 7.22 -5.86 3.61 -5.86 -3.61 0 -7.22z" fill="#555aa7" stroke="#555aa7"/>
<path d="M1607.8 107.1l5.86 3.61 0 7.22 -5.86 3.61 -5.86 -3.61 0 -7.22z" fill="#5e4fa2" stroke="#5e4fa2"/>
<path d="M1623.4 107.1l5.86 3.61 0 7.22 -5.86 3.61 -5.86 -3.61 0 -7.22z" fill="#5e4fa2" stroke="#5e4fa2"/>
<path d="M1639.0 107.1l5.86 3.61 0 7.22 -5.86 3.61 -5.86 -3.61 0 -7.22z" fill="#5e4fa2" stroke="#5e4fa2"/>
<path d="M1654.6 107.1l5.86 3.61 0 7.22 -5.86 3.61 -5.86 -3.61 0 -7.22z" fill="#5e4fa2" stroke="#5e4fa2"/>
<path d="M1670.2 107.1l5.86 3.61 0 7.22 -5.86 3.61 -5.86 -3.61 0 -7.22z" fill="#5e4fa2" stroke="#5e4fa2"/>
<path d="M1685.9 107.1l5.86 3.61 0 7.22 -5.86 3.61 -5.86 -3.61 0 -7.22z" fill="#5e4fa2" stroke="#5e4fa2"/>
<path d="M1701.5 107.1l5.86 3.61 0 7.22 -5.86 3.61 -5.86 -3.61 0 -7.22z" fill="#5e4fa2" stroke="#5e4fa2"/>
<path d="M1717.1 107.1l5.86 3.61 0 7.22 -5.86 3.61 -5.86 -3.61 0 -7.22z" fill="#5e4fa2" stroke="#5e4fa2"/>
<path d="M1732.7 107.1l5.86 3.61 0 7.22 -5.86 3.61 -5.86 -3.61 0 -7.22z" fill="#5e4fa2" stroke="#5e4fa2"/>
<path d="M1748.3 107.1l5.86 3.61 0 7.22 -5.86 3.61 -5.86 -3.61 0 -7.22z" fill="#5e4fa2" stroke="#5e4fa2"/>
<path d="M1764.0 107.1l5.86 3.61 0 7.22 -5.86 3.61 -5.86 -3.61 0 -7.22z" fill="#5e4fa2" stroke="#5e4fa2"/>
<path d="M1795.2 107.1l5.86 3.61 0 7.22 -5.86 3.61 -5.86 -3.61 0 -7.22z" fill="#5e4fa2" stroke="#5e4fa2"/>
<path d="M1810.8 107.1l5.86 3.61 0 7.22 -5.86 3.61 -5.86 -3.61 0 -7.22z" fill="#5e4fa2" stroke="#5e4fa2"/>
<path d="M1826.4 107.1l5.86 3.61 0 7.22 -5.86 3.61 -5.86 -3.61 0 -7.22z" fill="#5e4fa2" stroke="#5e4fa2"/>
<path d="M1842.1 107.1l5.86 3.61 0 7.22 -5.86 3.61 -5.86 -3.61 0 -7.22z" fill="#5e4fa2" stroke="#5e4fa2"/>
<path d="M1857.7 107.1l5.86 3.61 0 7.22 -5.86 3.61 -5.86 -3.61 0 -7.22z" fill="#5e4fa2" stroke="#5e4fa2"/>
<path d="M1873.3 107.1l5.86 3.61 0 7.22 -5.86 3.61 -5.86 -3.61 0 -7.22z" fill="#5e4fa2" stroke="#5e4fa2"/>
<path d="M1888.9 107.1l5.86 3.61 0 7.22 -5.86 3.61 -5.86 -3.61 0 -7.22z" fill="#5e4fa2" stroke="#5e4fa2"/>
<path d="M1904.5 107.1l5.86 3.61 0 7.22 -5.86 3.61 -5.86 -3.61 0 -7.22z" fill="#5e4fa2" stroke="#5e4fa2"/>
<path d="M1920.2 107.1l5.86 3.61 0 7.22 -5.86 3.61 -5.86 -3.61 0 -7.22z" fill="#5e4fa2" stroke="#5e4fa2"/>
<path d="M1935.8 107.1l5.86 3.61 0 7.22 -5.86 3.61 -5.86 -3.61 0 -7.22z" fill="#5e4fa2" stroke="#5e4fa2"/>
<path d="M1475.0 122.4l5.86 3.61 0 7.22 -5.86 3.61 -5.86 -3.61 0 -7.22z" fill="#3682ba" stroke="#3682ba"/>
<path d="M1490.6 122.4l5.86 3.61 0 7.22 -5.86 3.61 -5.86 -3.61 0 -7.22z" fill="#378ebb" stroke="#378ebb"/>
<path d="M1506.2 122.4l5.86 3.61 0 7.22 -5.86 3.61 -5.86 -3.61 0 -7.22z" fill="#3288bd" stroke="#3288bd"/>
<path d="M1521.9 122.4l5.86 3.61 0 7.22 -5.86 3.61 -5.86 -3.61 0 -7.22z" fill="#3b7db8" stroke="#3b7db8"/>
<path d="M1537.5 122.4l5.86 3.61 0 7.22 -5.86 3.61 -5.86 -3.61 0 -7.22z" fill="#3f77b5" stroke="#3f77b5"/>
<path d="M1553.1 122.4l5.86 3.61 0 7.22 -5.86 3.61 -5.86 -3.61 0 -7.22z" fill="#4471b2" stroke="#4471b2"/>
<path d="M1568.7 122.4l5.86 3.61 0 7.22 -5.86 3.61 -5.86 -3.61 0 -7.22z" fill="#486cb0" stroke="#486cb0"/>
<path d="M1584.3 122.4l5.86 3.61 0 7.22 -5.86 3.61 -5.86 -3.61 0 -7.22z" fill="#486cb0" stroke="#486cb0"/>
<path d="M1600.0 122.4l5.86 3.61 0 7.22 -5.86 3.61 -5.86 -3.61 0 -7.22z" fill="#4c66ad" stroke="#4c66ad"/>
<path d="M1615.6 122.4l5.86 3.61 0 7.22 -5.86 3.61 -5.86 -3.61 0 -7.22z" fill="#4c66ad" stroke="#4c66ad"/>
<path d="M1631.2 122.4l5.86 3.61 0 7.22 -5.86 3.61 -5.86 -3.61 0 -7.22z" fill="#5160aa" stroke="#5160aa"/>
<path d="M1646.8 122.4l5.86 3.61 0 7.22 -5.86 3.61 -5.86 -3.61 0 -7.22z" fill="#5160aa" stroke="#5160aa"/>
<path d="M1662.4 122.4l5.86 3.61 0 7.22 -5.86 3.61 -5.86 -3.61 0 -7.22z" fill="#5160aa" stroke="#5160aa"/>
<path d="M1678.1 122.4l5.86 3.61 0 7.22 -5.86 3.61 -5.86 -3.61 0 -7.22z" fill="#555aa7" stroke="#555aa7"/>
<path d="M1693.7 122.4l5.86 3.61 0 7.22 -5.86 3.61 -5.86 -3.61 0 -7.22z" fill="#5e4fa2" stroke="#5e4fa2"/>
<path d="M1709.3 122.4l5.86 3.61 0 7.22 -5.86 3.61 -5.86 -3.61 0 -7.22z" fill="#5e4fa2" stroke="#5e4fa2"/>
<path d="M1724.9 122.4l5.86 3.61 0 7.22 -5.86 3.61 -5.86 -3.61 0 -7.22z" fill="#5e4fa2" stroke="#5e4fa2"/>
<path d="M1740.5 122.4l5.86 3.61 0 7.22 -5.86 3.61 -5.86 -3.61 0 -7.22z" fill="#5e4fa2" stroke="#5e4fa2"/>
<path d="M1756.2 122.4l5.86 3.61 0 7.22 -5.86 3.61 -5.86 -3.61 0 -7.22z" fill="#5e4fa2" stroke="#5e4fa2"/>
<path d="M1771.8 122.4l5.86 3.61 0 7.22 -5.86 3.61 -5.86 -3.61 0 -7.22z" fill="#5e4fa2" stroke="#5e4fa2"/>
<path d="M1787.4 122.4l5.86 3.61 0 7.22 -5.86 3.61 -5.86 -3.61 0 -7.22z" fill="#5e4fa2" stroke="#5e4fa2"/>
<path d="M1803.0 122.4l5.86 3.61 0 7.22 -5.86 3.61 -5.86 -3.61 0 -7.22z" fill="#5e4fa2" stroke="#5e4fa2"/>
<path d="M1849.9 122.4l5.86 3.61 0 7.22 -5.86 3.61 -5.86 -3.61 0 -7.22z" fill="#5e4fa2" stroke="#5e4fa2"/>
<path d="M1865.5 122.4l5.86 3.61 0 7.22 -5.86 3.61 -5.86 -3.61 0 -7.22z" fill="#5e4fa2" stroke="#5e4fa2"/>
<path d="M1912.4 122.4l5.86 3.61 0 7.22 -5.86 3.61 -5.86 -3.61 0 -7.22z" fill="#5e4fa2" stroke="#5e4fa2"/>
<path d="M1482.8 137.6l5.86 3.61 0 7.22 -5.86 3.61 -5.86 -3.61 0 -7.22z" fill="#66c2a5" stroke="#66c2a5"/>
<path d="M1498.4 137.6l5.86 3.61 0 7.22 -5.86 3.61 -5.86 -3.61 0 -7.22z" fill="#61bca7" stroke="#61bca7"/>
<path d="M1514.0 137.6l5.86 3.61 0 7.22 -5.86 3.61 -5.86 -3.61 0 -7.22z" fill="#4ca5b1" stroke="#4ca5b1"/>
<path d="M1529.7 137.6l5.86 3.61 0 7.22 -5.86 3.61 -5.86 -3.61 0 -7.22z" fill="#3c94b8" stroke="#3c94b8"/>
<path d="M1545.3 137.6l5.86 3.61 0 7.22 -5.86 3.61 -5.86 -3.61 0 -7.22z" fill="#3288bd" stroke="#3288bd"/>
<path d="M1560.9 137.6l5.86 3.61 0 7.22 -5.86 3.61 -5.86 -3.61 0 -7.22z" fill="#3b7db8" stroke="#3b7db8"/>
<path d="M1576.5 137.6l5.86 3.61 0 7.22 -5.86 3.61 -5.86 -3.61 0 -7.22z" fill="#3f77b5" stroke="#3f77b5"/>
<path d="M1592.1 137.6l5.86 3.61 0 7.22 -5.86 3.61 -5.86 -3.61 0 -7.22z" fill="#4471b2" stroke="#4471b2"/>
<path d="M1607.8 137.6l5.86 3.61 0 7.22 -5.86 3.61 -5.86 -3.61 0 -7.22z" fill="#486cb0" stroke="#486cb0"/>
<path d="M1623.4 137.6l5.86 3.61 0 7.22 -5.86 3.61 -5.86 -3.61 0 -7.22z" fill="#4c66ad" stroke="#4c66ad"/>
<path d="M1639.0 137.6l5.86 3.61 0 7.22 -5.86 3.61 -5.86 -3.61 0 -7.22z" fill="#5160aa" stroke="#5160aa"/>
<path d="M1654.6 137.6l5.86 3.61 0 7.22 -5.86 3.61 -5.86 -3.61 0 -7.22z" fill="#5160aa" stroke="#5160aa"/>
<path d="M1670.2 137.6l5.86 3.61 0 7.22 -5.86 3.61 -5.86 -3.61 0 -7.22z" fill="#555aa7" stroke="#555aa7"/>
<path d="M1701.5 137.6l5.86 3.61 0 7.22 -5.86 3.61 -5.86 -3.61 0 -7.22z" fill="#5e4fa2" stroke="#5e4fa2"/>
<path d="M1717.1 137.6l5.86 3.61 0 7.22 -5.86 3.61 -5.86 -3.61 0 -7.22z" fill="#5e4fa2" stroke="#5e4fa2"/>
<path d="M1779.6 137.6l5.86 3.61 0 7.22 -5.86 3.61 -5.86 -3.61 0 -7.22z" fill="#5e4fa2" stroke="#5e4fa2"/>
<path d="M1475.0 152.9l5.86 3.61 0 7.22 -5.86 3.61 -5.86 -3.61 0 -7.22z" fill="#abdda4" stroke="#abdda4"/>
<path d="M1490.6 152.9l5.86 3.61 0 7.22 -5.86 3.61 -5.86 -3.61 0 -7.22z" fill="#6dc5a5" stroke="#6dc5a5"/>
<path d="M1506.2 152.9l5.86 3.61 0 7.22 -5.86 3.61 -5.86 -3.61 0 -7.22z" fill="#56b1ac" stroke="#56b1ac"/>
<path d="M1521.9 152.9l5.86 3.61 0 7.22 -5.86 3.61 -5.86 -3.61 0 -7.22z" fill="#3c94b8" stroke="#3c94b8"/>
<path d="M1537.5 152.9l5.86 3.61 0 7.22 -5.86 3.61 -5.86 -3.61 0 -7.22z" fill="#3288bd" stroke="#3288bd"/>
<path d="M1553.1 152.9l5.86 3.61 0 7.22 -5.86 3.61 -5.86 -3.61 0 -7.22z" fill="#3b7db8" stroke="#3b7db8"/>
<path d="M1568.7 152.9l5.86 3.61 0 7.22 -5.86 3.61 -5.86 -3.61 0 -7.22z" fill="#3f77b5" stroke="#3f77b5"/>
<path d="M1584.3 152.9l5.86 3.61 0 7.22 -5.86 3.61 -5.86 -3.61 0 -7.22z" fill="#4471b2" stroke="#4471b2"/>
<path d="M1600.0 152.9l5.86 3.61 0 7.22 -5.86 3.61 -5.86 -3.61 0 -7.22z" fill="#486cb0" stroke="#486cb0"/>
<path d="M1615.6 152.9l5.86 3.61 0 7.22 -5.86 3.61 -5.86 -3.61 0 -7.22z" fill="#4c66ad" stroke="#4c66ad"/>
<path d="M1631.2 152.9l5.86 3.61 0 7.22 -5.86 3.61 -5.86 -3.61 0 -7.22z" fill="#5160aa" stroke="#5160aa"/>
<path d="M1646.8 152.9l5.86 3.61 0 7.22 -5.86 3.61 -5.86 -3.61 0 -7.22z" fill="#5160aa" stroke="#5160aa"/>
<path d="M1662.4 152.9l5.86 3.61 0 7.22 -5.86 3.61 -5.86 -3.61 0 -7.22z" fill="#555aa7" stroke="#555aa7"/>
<path d="M1678.1 152.9l5.86 3.61 0 7.22 -5.86 3.61 -5.86 -3.61 0 -7.22z" fill="#5e4fa2" stroke="#5e4fa2"/>
<path d="M1693.7 152.9l5.86 3.61 0 7.22 -5.86 3.61 -5.86 -3.61 0 -7.22z" fill="#5e4fa2" stroke="#5e4fa2"/>
<path d="M1709.3 152.9l5.86 3.61 0 7.22 -5.86 3.61 -5.86 -3.61 0 -7.22z" fill="#5e4fa2" stroke="#5e4fa2"/>
<path d="M1724.9 152.9l5.86 3.61 0 7.22 -5.86 3.61 -5.86 -3.61 0 -7.22z" fill="#5e4fa2" stroke="#5e4fa2"/>
<path d="M1756.2 152.9l5.86 3.61 0 7.22 -5.86 3.61 -5.86 -3.61 0 -7.22z" fill="#5e4fa2" stroke="#5e4fa2"/>
<path d="M1787.4 152.9l5.86 3.61 0 7.22 -5.86 3.61 -5.86 -3.61 0 -7.22z" fill="#5e4fa2" stroke="#5e4fa2"/>
<path d="M1803.0 152.9l5.86 3.61 0 7.22 -5.86 3.61 -5.86 -3.61 0 -7.22z" fill="#5e4fa2" stroke="#5e4fa2"/>
<path d="M1818.6 152.9l5.86 3.61 0 7.22 -5.86 3.61 -5.86 -3.61 0 -7.22z" fill="#5e4fa2" stroke="#5e4fa2"/>
<path d="M1834.3 152.9l5.86 3.61 0 7.22 -5.86 3.61 -5.86 -3.61 0 -7.22z" fill="#5e4fa2" stroke="#5e4fa2"/>
<path d="M1928.0 152.9l5.86 3.61 0 7.22 -5.86 3.61 -5.86 -3.61 0 -7.22z" fill="#5e4fa2" stroke="#5e4fa2"/>
<path d="M1482.8 168.1l5.86 3.61 0 7.22 -5.86 3.61 -5.86 -3.61 0 -7.22z" fill="#e6f598" stroke="#e6f598"/>
<path d="M1498.4 168.1l5.86 3.61 0 7.22 -5.86 3.61 -5.86 -3.61 0 -7.22z" fill="#7bcaa5" stroke="#7bcaa5"/>
<path d="M1514.0 168.1l5.86 3.61 0 7.22 -5.86 3.61 -5.86 -3.61 0 -7.22z" fill="#51abaf" stroke="#51abaf"/>
<path d="M1529.7 168.1l5.86 3.61 0 7.22 -5.86 3.61 -5.86 -3.61 0 -7.22z" fill="#3c94b8" stroke="#3c94b8"/>
<path d="M1545.3 168.1l5.86 3.61 0 7.22 -5.86 3.61 -5.86 -3.61 0 -7.22z" fill="#3288bd" stroke="#3288bd"/>
<path d="M1560.9 168.1l5.86 3.61 0 7.22 -5.86 3.61 -5.86 -3.61 0 -7.22z" fill="#3b7db8" stroke="#3b7db8"/>
<path d="M1576.5 168.1l5.86 3.61 0 7.22 -5.86 3.61 -5.86 -3.61 0 -7.22z" fill="#3f77b5" stroke="#3f77b5"/>
<path d="M1592.1 168.1l5.86 3.61 0 7.22 -5.86 3.61 -5.86 -3.61 0 -7.22z" fill="#4471b2" stroke="#4471b2"/>
<path d="M1607.8 168.1l5.86 3.61 0 7.22 -5.86 3.61 -5.86 -3.61 0 -7.22z" fill="#486cb0" stroke="#486cb0"/>
<path d="M1623.4 168.1l5.86 3.61 0 7.22 -5.86 3.61 -5.86 -3.61 0 -7.22z" fill="#4c66ad" stroke="#4c66ad"/>
<path d="M1639.0 168.1l5.86 3.61 0 7.22 -5.86 3.61 -5.86 -3.61 0 -7.22z" fill="#5160aa" stroke="#5160aa"/>
<path d="M1654.6 168.1l5.86 3.61 0 7.22 -5.86 3.61 -5.86 -3.61 0 -7.22z" fill="#555aa7" stroke="#555aa7"/>
<path d="M1670.2 168.1l5.86 3.61 0 7.22 -5.86 3.61 -5.86 -3.61 0 -7.22z" fill="#5e4fa2" stroke="#5e4fa2"/>
<path d="M1685.9 168.1l5.86 3.61 0 7.22 -5.86 3.61 -5.86 -3.61 0 -7.22z" fill="#5e4fa2" stroke="#5e4fa2"/>
<path d="M1717.1 168.1l5.86 3.61 0 7.22 -5.86 3.61 -5.86 -3.61 0 -7.22z" fill="#5e4fa2" stroke="#5e4fa2"/>
<path d="M1732.7 168.1l5.86 3.61 0 7.22 -5.86 3.61 -5.86 -3.61 0 -7.22z" fill="#5e4fa2" stroke="#5e4fa2"/>
<path d="M1826.4 168.1l5.86 3.61 0 7.22 -5.86 3.61 -5.86 -3.61 0 -7.22z" fill="#5e4fa2" stroke="#5e4fa2"/>
<path d="M1475.0 183.3l5.86 3.61 0 7.22 -5.86 3.61 -5.86 -3.61 0 -7.22z" fill="#fdc272" stroke="#fdc272"/>
<path d="M1490.6 183.3l5.86 3.61 0 7.22 -5.86 3.61 -5.86 -3.61 0 -7.22z" fill="#a4daa4" stroke="#a4daa4"/>
<path d="M1506.2 183.3l5.86 3.61 0 7.22 -5.86 3.61 -5.86 -3.61 0 -7.22z" fill="#56b1ac" stroke="#56b1ac"/>
<path d="M1521.9 183.3l5.86 3.61 0 7.22 -5.86 3.61 -5.86 -3.61 0 -7.22z" fill="#479fb3" stroke="#479fb3"/>
<path d="M1537.5 183.3l5.86 3.61 0 7.22 -5.86 3.61 -5.86 -3.61 0 -7.22z" fill="#378ebb" stroke="#378ebb"/>
<path d="M1553.1 183.3l5.86 3.61 0 7.22 -5.86 3.61 -5.86 -3.61 0 -7.22z" fill="#3682ba" stroke="#3682ba"/>
<path d="M1568.7 183.3l5.86 3.61 0 7.22 -5.86 3.61 -5.86 -3.61 0 -7.22z" fill="#3b7db8" stroke="#3b7db8"/>
<path d="M1584.3 183.3l5.86 3.61 0 7.22 -5.86 3.61 -5.86 -3.61 0 -7.22z" fill="#4471b2" stroke="#4471b2"/>
<path d="M1600.0 183.3l5.86 3.61 0 7.22 -5.86 3.61 -5.86 -3.61 0 -7.22z" fill="#486cb0" stroke="#486cb0"/>
<path d="M1615.6 183.3l5.86 3.61 0 7.22 -5.86 3.61 -5.86 -3.61 0 -7.22z" fill="#4c66ad" stroke="#4c66ad"/>
<path d="M1631.2 183.3l5.86 3.61 0 7.22 -5.86 3.61 -5.86 -3.61 0 -7.22z" fill="#5160aa" stroke="#5160aa"/>
<path d="M1646.8 183.3l5.86 3.61 0 7.22 -5.86 3.61 -5.86 -3.61 0 -7.22z" fill="#555aa7" stroke="#555aa7"/>
<path d="M1662.4 183.3l5.86 3.61 0 7.22 -5.86 3.61 -5.86 -3.61 0 -7.22z" fill="#5e4fa2" stroke="#5e4fa2"/>
<path d="M1693.7 183.3l5.86 3.61 0 7.22 -5.86 3.61 -5.86 -3.61 0 -7.22z" fill="#5e4fa2" stroke="#5e4fa2"/>
<path d="M1787.4 183.3l5.86 3.61 0 7.22 -5.86 3.61 -5.86 -3.61 0 -7.22z" fill="#5e4fa2" stroke="#5e4fa2"/>
<path d="M1482.8 198.6l5.86 3.61 0 7.22 -5.86 3.61 -5.86 -3.61 0 -7.22z" fill="#fff3aa" stroke="#fff3aa"/>
<path d="M1498.4 198.6l5.86 3.61 0 7.22 -5.86 3.61 -5.86 -3.61 0 -7.22z" fill="#7bcaa5" stroke="#7bcaa5"/>
<path d="M1514.0 198.6l5.86 3.61 0 7.22 -5.86 3.61 -5.86 -3.61 0 -7.22z" fill="#5cb6aa" stroke="#5cb6aa"/>
<path d="M1529.7 198.6l5.86 3.61 0 7.22 -5.86 3.61 -5.86 -3.61 0 -7.22z" fill="#479fb3" stroke="#479fb3"/>
<path d="M1545.3 198.6l5.86 3.61 0 7.22 -5.86 3.61 -5.86 -3.61 0 -7.22z" fill="#378ebb" stroke="#378ebb"/>
<path d="M1560.9 198.6l5.86 3.61 0 7.22 -5.86 3.61 -5.86 -3.61 0 -7.22z" fill="#3682ba" stroke="#3682ba"/>
<path d="M1576.5 198.6l5.86 3.61 0 7.22 -5.86 3.61 -5.86 -3.61 0 -7.22z" fill="#3f77b5" stroke="#3f77b5"/>
<path d="M1592.1 198.6l5.86 3.61 0 7.22 -5.86 3.61 -5.86 -3.61 0 -7.22z" fill="#4471b2" stroke="#4471b2"/>
<path d="M1607.8 198.6l5.86 3.61 0 7.22 -5.86 3.61 -5.86 -3.61 0 -7.22z" fill="#486cb0" stroke="#486cb0"/>
<path d="M1623.4 198.6l5.86 3.61 0 7.22 -5.86 3.61 -5.86 -3.61 0 -7.22z" fill="#4c66ad" stroke="#4c66ad"/>
<path d="M1639.0 198.6l5.86 3.61 0 7.22 -5.86 3.61 -5.86 -3.61 0 -7.22z" fill="#5160aa" stroke="#5160aa"/>
<path d="M1670.2 198.6l5.86 3.61 0 7.22 -5.86 3.61 -5.86 -3.61 0 -7.22z" fill="#5e4fa2" stroke="#5e4fa2"/>
<path d="M1685.9 198.6l5.86 3.61 0 7.22 -5.86 3.61 -5.86 -3.61 0 -7.22z" fill="#5e4fa2" stroke="#5e4fa2"/>
<path d="M1717.1 198.6l5.86 3.61 0 7.22 -5.86 3.61 -5.86 -3.61 0 -7.22z" fill="#5e4fa2" stroke="#5e4fa2"/>
<path d="M1748.3 198.6l5.86 3.61 0 7.22 -5.86 3.61 -5.86 -3.61 0 -7.22z" fill="#5e4fa2" stroke="#5e4fa2"/>
<path d="M1779.6 198.6l5.86 3.61 0 7.22 -5.86 3.61 -5.86 -3.61 0 -7.22z" fill="#5e4fa2" stroke="#5e4fa2"/>
<path d="M1475.0 213.8l5.86 3.61 0 7.22 -5.86 3.61 -5.86 -3.61 0 -7.22z" fill="#ba2048" stroke="#ba2048"/>
<path d="M1490.6 213.8l5.86 3.61 0 7.22 -5.86 3.61 -5.86 -3.61 0 -7.22z" fill="#b1dfa3" stroke="#b1dfa3"/>
<path d="M1506.2 213.8l5.86 3.61 0 7.22 -5.86 3.61 -5.86 -3.61 0 -7.22z" fill="#54aead" stroke="#54aead"/>
<path d="M1521.9 213.8l5.86 3.61 0 7.22 -5.86 3.61 -5.86 -3.61 0 -7.22z" fill="#49a2b2" stroke="#49a2b2"/>
<path d="M1537.5 213.8l5.86 3.61 0 7.22 -5.86 3.61 -5.86 -3.61 0 -7.22z" fill="#397fb9" stroke="#397fb9"/>
<path d="M1553.1 213.8l5.86 3.61 0 7.22 -5.86 3.61 -5.86 -3.61 0 -7.22z" fill="#4174b4" stroke="#4174b4"/>
<path d="M1568.7 213.8l5.86 3.61 0 7.22 -5.86 3.61 -5.86 -3.61 0 -7.22z" fill="#466eb1" stroke="#466eb1"/>
<path d="M1584.3 213.8l5.86 3.61 0 7.22 -5.86 3.61 -5.86 -3.61 0 -7.22z" fill="#4f63ab" stroke="#4f63ab"/>
<path d="M1600.0 213.8l5.86 3.61 0 7.22 -5.86 3.61 -5.86 -3.61 0 -7.22z" fill="#535da9" stroke="#535da9"/>
<path d="M1615.6 213.8l5.86 3.61 0 7.22 -5.86 3.61 -5.86 -3.61 0 -7.22z" fill="#5758a6" stroke="#5758a6"/>
<path d="M1631.2 213.8l5.86 3.61 0 7.22 -5.86 3.61 -5.86 -3.61 0 -7.22z" fill="#5c52a3" stroke="#5c52a3"/>
<path d="M1646.8 213.8l5.86 3.61 0 7.22 -5.86 3.61 -5.86 -3.61 0 -7.22z" fill="#5e4fa2" stroke="#5e4fa2"/>
<path d="M1678.1 213.8l5.86 3.61 0 7.22 -5.86 3.61 -5.86 -3.61 0 -7.22z" fill="#5e4fa2" stroke="#5e4fa2"/>
<path d="M1724.9 213.8l5.86 3.61 0 7.22 -5.86 3.61 -5.86 -3.61 0 -7.22z" fill="#5e4fa2" stroke="#5e4fa2"/>
<path d="M1482.8 229.1l5.86 3.61 0 7.22 -5.86 3.61 -5.86 -3.61 0 -7.22z" fill="#fedb87" stroke="#fedb87"/>
<path d="M1498.4 229.1l5.86 3.61 0 7.22 -5.86 3.61 -5.86 -3.61 0 -7.22z" fill="#8fd2a4" stroke="#8fd2a4"/>
<path d="M1514.0 229.1l5.86 3.61 0 7.22 -5.86 3.61 -5.86 -3.61 0 -7.22z" fill="#49a2b2" stroke="#49a2b2"/>
<path d="M1529.7 229.1l5.86 3.61 0 7.22 -5.86 3.61 -5.86 -3.61 0 -7.22z" fill="#3485bc" stroke="#3485bc"/>
<path d="M1545.3 229.1l5.86 3.61 0 7.22 -5.86 3.61 -5.86 -3.61 0 -7.22z" fill="#3b7db8" stroke="#3b7db8"/>
<path d="M1560.9 229.1l5.86 3.61 0 7.22 -5.86 3.61 -5.86 -3.61 0 -7.22z" fill="#466eb1" stroke="#466eb1"/>
<path d="M1576.5 229.1l5.86 3.61 0 7.22 -5.86 3.61 -5.86 -3.61 0 -7.22z" fill="#4a69ae" stroke="#4a69ae"/>
<path d="M1592.1 229.1l5.86 3.61 0 7.22 -5.86 3.61 -5.86 -3.61 0 -7.22z" fill="#4f63ab" stroke="#4f63ab"/>
<path d="M1607.8 229.1l5.86 3.61 0 7.22 -5.86 3.61 -5.86 -3.61 0 -7.22z" fill="#535da9" stroke="#535da9"/>
<path d="M1623.4 229.1l5.86 3.61 0 7.22 -5.86 3.61 -5.86 -3.61 0 -7.22z" fill="#5758a6" stroke="#5758a6"/>
<path d="M1639.0 229.1l5.86 3.61 0 7.22 -5.86 3.61 -5.86 -3.61 0 -7.22z" fill="#5c52a3" stroke="#5c52a3"/>
<path d="M1654.6 229.1l5.86 3.61 0 7.22 -5.86 3.61 -5.86 -3.61 0 -7.22z" fill="#5e4fa2" stroke="#5e4fa2"/>
<path d="M1685.9 229.1l5.86 3.61 0 7.22 -5.86 3.61 -5.86 -3.61 0 -7.22z" fill="#5e4fa2" stroke="#5e4fa2"/>
<path d="M1701.5 229.1l5.86 3.61 0 7.22 -5.86 3.61 -5.86 -3.61 0 -7.22z" fill="#5e4fa2" stroke="#5e4fa2"/>
<path d="M1732.7 229.1l5.86 3.61 0 7.22 -5.86 3.61 -5.86 -3.61 0 -7.22z" fill="#5e4fa2" stroke="#5e4fa2"/>
<path d="M1475.0 244.3l5.86 3.61 0 7.22 -5.86 3.61 -5.86 -3.61 0 -7.22z" fill="#a30743" stroke="#a30743"/>
<path d="M1490.6 244.3l5.86 3.61 0 7.22 -5.86 3.61 -5.86 -3.61 0 -7.22z" fill="#a4daa4" stroke="#a4daa4"/>
<path d="M1506.2 244.3l5.86 3.61 0 7.22 -5.86 3.61 -5.86 -3.61 0 -7.22z" fill="#49a2b2" stroke="#49a2b2"/>
<path d="M1521.9 244.3l5.86 3.61 0 7.22 -5.86 3.61 -5.86 -3.61 0 -7.22z" fill="#3a91b9" stroke="#3a91b9"/>
<path d="M1537.5 244.3l5.86 3.61 0 7.22 -5.86 3.61 -5.86 -3.61 0 -7.22z" fill="#397fb9" stroke="#397fb9"/>
<path d="M1553.1 244.3l5.86 3.61 0 7.22 -5.86 3.61 -5.86 -3.61 0 -7.22z" fill="#466eb1" stroke="#466eb1"/>
<path d="M1568.7 244.3l5.86 3.61 0 7.22 -5.86 3.61 -5.86 -3.61 0 -7.22z" fill="#4a69ae" stroke="#4a69ae"/>
<path d="M1584.3 244.3l5.86 3.61 0 7.22 -5.86 3.61 -5.86 -3.61 0 -7.22z" fill="#4f63ab" stroke="#4f63ab"/>
<path d="M1600.0 244.3l5.86 3.61 0 7.22 -5.86 3.61 -5.86 -3.61 0 -7.22z" fill="#535da9" stroke="#535da9"/>
<path d="M1615.6 244.3l5.86 3.61 0 7.22 -5.86 3.61 -5.86 -3.61 0 -7.22z" fill="#5758a6" stroke="#5758a6"/>
<path d="M1631.2 244.3l5.86 3.61 0 7.22 -5.86 3.61 -5.86 -3.61 0 -7.22z" fill="#5c52a3" stroke="#5c52a3"/>
<path d="M1646.8 244.3l5.86 3.61 0 7.22 -5.86 3.61 -5.86 -3.61 0 -7.22z" fill="#5e4fa2" stroke="#5e4fa2"/>
<path d="M1678.1 244.3l5.86 3.61 0 7.22 -5.86 3.61 -5.86 -3.61 0 -7.22z" fill="#5e4fa2" stroke="#5e4fa2"/>
<path d="M1740.5 244.3l5.86 3.61 0 7.22 -5.86 3.61 -5.86 -3.61 0 -7.22z" fill="#5e4fa2" stroke="#5e4fa2"/>
<path d="M1818.6 244.3l5.86 3.61 0 7.22 -5.86 3.61 -5.86 -3.61 0 -7.22z" fill="#5e4fa2" stroke="#5e4fa2"/>
<path d="M1482.8 259.6l5.86 3.61 0 7.22 -5.86 3.61 -5.86 -3.61 0 -7.22z" fill="#f5fbaf" stroke="#f5fbaf"/>
<path d="M1498.4 259.6l5.86 3.61 0 7.22 -5.86 3.61 -5.86 -3.61 0 -7.22z" fill="#56b1ac" stroke="#56b1ac"/>
<path d="M1514.0 259.6l5.86 3.61 0 7.22 -5.86 3.61 -5.86 -3.61 0 -7.22z" fill="#358bbc" stroke="#358bbc"/>
<path d="M1529.7 259.6l5.86 3.61 0 7.22 -5.86 3.61 -5.86 -3.61 0 -7.22z" fill="#3485bc" stroke="#3485bc"/>
<path d="M1545.3 259.6l5.86 3.61 0 7.22 -5.86 3.61 -5.86 -3.61 0 -7.22z" fill="#3d7ab6" stroke="#3d7ab6"/>
<path d="M1560.9 259.6l5.86 3.61 0 7.22 -5.86 3.61 -5.86 -3.61 0 -7.22z" fill="#466eb1" stroke="#466eb1"/>
<path d="M1576.5 259.6l5.86 3.61 0 7.22 -5.86 3.61 -5.86 -3.61 0 -7.22z" fill="#4a69ae" stroke="#4a69ae"/>
<path d="M1592.1 259.6l5.86 3.61 0 7.22 -5.86 3.61 -5.86 -3.61 0 -7.22z" fill="#4f63ab" stroke="#4f63ab"/>
<path d="M1607.8 259.6l5.86 3.61 0 7.22 -5.86 3.61 -5.86 -3.61 0 -7.22z" fill="#535da9" stroke="#535da9"/>
<path d="M1623.4 259.6l5.86 3.61 0 7.22 -5.86 3.61 -5.86 -3.61 0 -7.22z" fill="#5758a6" stroke="#5758a6"/>
<path d="M1639.0 259.6l5.86 3.61 0 7.22 -5.86 3.61 -5.86 -3.61 0 -7.22z" fill="#5c52a3" stroke="#5c52a3"/>
<path d="M1654.6 259.6l5.86 3.61 0 7.22 -5.86 3.61 -5.86 -3.61 0 -7.22z" fill="#5e4fa2" stroke="#5e4fa2"/>
<path d="M1670.2 259.6l5.86 3.61 0 7.22 -5.86 3.61 -5.86 -3.61 0 -7.22z" fill="#5e4fa2" stroke="#5e4fa2"/>
<path d="M1701.5 259.6l5.86 3.61 0 7.22 -5.86 3.61 -5.86 -3.61 0 -7.22z" fill="#5e4fa2" stroke="#5e4fa2"/>
<path d="M1779.6 259.6l5.86 3.61 0 7.22 -5.86 3.61 -5.86 -3.61 0 -7.22z" fill="#5e4fa2" stroke="#5e4fa2"/>
<path d="M1475.0 274.8l5.86 3.61 0 7.22 -5.86 3.61 -5.86 -3.61 0 -7.22z" fill="#af1346" stroke="#af1346"/>
<path d="M1490.6 274.8l5.86 3.61 0 7.22 -5.86 3.61 -5.86 -3.61 0 -7.22z" fill="#6dc5a5" stroke="#6dc5a5"/>
<path d="M1506.2 274.8l5.86 3.61 0 7.22 -5.86 3.61 -5.86 -3.61 0 -7.22z" fill="#449cb5" stroke="#449cb5"/>
<path d="M1521.9 274.8l5.86 3.61 0 7.22 -5.86 3.61 -5.86 -3.61 0 -7.22z" fill="#358bbc" stroke="#358bbc"/>
<path d="M1537.5 274.8l5.86 3.61 0 7.22 -5.86 3.61 -5.86 -3.61 0 -7.22z" fill="#3b7db8" stroke="#3b7db8"/>
<path d="M1553.1 274.8l5.86 3.61 0 7.22 -5.86 3.61 -5.86 -3.61 0 -7.22z" fill="#466eb1" stroke="#466eb1"/>
<path d="M1568.7 274.8l5.86 3.61 0 7.22 -5.86 3.61 -5.86 -3.61 0 -7.22z" fill="#4a69ae" stroke="#4a69ae"/>
<path d="M1584.3 274.8l5.86 3.61 0 7.22 -5.86 3.61 -5.86 -3.61 0 -7.22z" fill="#4f63ab" stroke="#4f63ab"/>
<path d="M1600.0 274.8l5.86 3.61 0 7.22 -5.86 3.61 -5.86 -3.61 0 -7.22z" fill="#535da9" stroke="#535da9"/>
<path d="M1615.6 274.8l5.86 3.61 0 7.22 -5.86 3.61 -5.86 -3.61 0 -7.22z" fill="#5758a6" stroke="#5758a6"/>
<path d="M1631.2 274.8l5.86 3.61 0 7.22 -5.86 3.61 -5.86 -3.61 0 -7.22z" fill="#5c52a3" stroke="#5c52a3"/>
<path d="M1646.8 274.8l5.86 3.61 0 7.22 -5.86 3.61 -5.86 -3.61 0 -7.22z" fill="#5e4fa2" stroke="#5e4fa2"/>
<path d="M1662.4 274.8l5.86 3.61 0 7.22 -5.86 3.61 -5.86 -3.61 0 -7.22z" fill="#5e4fa2" stroke="#5e4fa2"/>
<path d="M1678.1 274.8l5.86 3.61 0 7.22 -5.86 3.61 -5.86 -3.61 0 -7.22z" fill="#5e4fa2" stroke="#5e4fa2"/>
<path d="M1709.3 274.8l5.86 3.61 0 7.22 -5.86 3.61 -5.86 -3.61 0 -7.22z" fill="#5e4fa2" stroke="#5e4fa2"/>
<path d="M1482.8 290.0l5.86 3.61 0 7.22 -5.86 3.61 -5.86 -3.61 0 -7.22z" fill="#e6f598" stroke="#e6f598"/>
<path d="M1498.4 290.0l5.86 3.61 0 7.22 -5.86 3.61 -5.86 -3.61 0 -7.22z" fill="#51abaf" stroke="#51abaf"/>
<path d="M1514.0 290.0l5.86 3.61 0 7.22 -5.86 3.61 -5.86 -3.61 0 -7.22z" fill="#358bbc" stroke="#358bbc"/>
<path d="M1529.7 290.0l5.86 3.61 0 7.22 -5.86 3.61 -5.86 -3.61 0 -7.22z" fill="#3d7ab6" stroke="#3d7ab6"/>
<path d="M1545.3 290.0l5.86 3.61 0 7.22 -5.86 3.61 -5.86 -3.61 0 -7.22z" fill="#466eb1" stroke="#466eb1"/>
<path d="M1560.9 290.0l5.86 3.61 0 7.22 -5.86 3.61 -5.86 -3.61 0 -7.22z" fill="#4a69ae" stroke="#4a69ae"/>
<path d="M1576.5 290.0l5.86 3.61 0 7.22 -5.86 3.61 -5.86 -3.61 0 -7.22z" fill="#4f63ab" stroke="#4f63ab"/>
<path d="M1592.1 290.0l5.86 3.61 0 7.22 -5.86 3.61 -5.86 -3.61 0 -7.22z" fill="#535da9" stroke="#535da9"/>
<path d="M1607.8 290.0l5.86 3.61 0 7.22 -5.86 3.61 -5.86 -3.61 0 -7.22z" fill="#5758a6" stroke="#5758a6"/>
<path d="M1623.4 290.0l5.86 3.61 0 7.22 -5.86 3.61 -5.86 -3.61 0 -7.22z" fill="#5c52a3" stroke="#5c52a3"/>
<path d="M1639.0 290.0l5.86 3.61 0 7.22 -5.86 3.61 -5.86 -3.61 0 -7.22z" fill="#5e4fa2" stroke="#5e4fa2"/>
<path d="M1654.6 290.0l5.86 3.61 0 7.22 -5.86 3.61 -5.86 -3.61 0 -7.22z" fill="#5e4fa2" stroke="#5e4fa2"/>
<path d="M1670.2 290.0l5.86 3.61 0 7.22 -5.86 3.61 -5.86 -3.61 0 -7.22z" fill="#5e4fa2" stroke="#5e4fa2"/>
<path d="M1685.9 290.0l5.86 3.61 0 7.22 -5.86 3.61 -5.86 -3.61 0 -7.22z" fill="#5e4fa2" stroke="#5e4fa2"/>
<path d="M1701.5 290.0l5.86 3.61 0 7.22 -5.86 3.61 -5.86 -3.61 0 -7.22z" fill="#5e4fa2" stroke="#5e4fa2"/>
<path d="M1717.1 290.0l5.86 3.61 0 7.22 -5.86 3.61 -5.86 -3.61 0 -7.22z" fill="#5e4fa2" stroke="#5e4fa2"/>
<path d="M1732.7 290.0l5.86 3.61 0 7.22 -5.86 3.61 -5.86 -3.61 0 -7.22z" fill="#5e4fa2" stroke="#5e4fa2"/>
<path d="M1748.3 290.0l5.86 3.61 0 7.22 -5.86 3.61 -5.86 -3.61 0 -7.22z" fill="#5e4fa2" stroke="#5e4fa2"/>
<path d="M1764.0 290.0l5.86 3.61 0 7.22 -5.86 3.61 -5.86 -3.61 0 -7.22z" fill="#5e4fa2" stroke="#5e4fa2"/>
<path d="M1475.0 305.3l5.86 3.61 0 7.22 -5.86 3.61 -5.86 -3.61 0 -7.22z" fill="#ba2048" stroke="#ba2048"/>
<path d="M1490.6 305.3l5.86 3.61 0 7.22 -5.86 3.61 -5.86 -3.61 0 -7.22z" fill="#61bca7" stroke="#61bca7"/>
<path d="M1506.2 305.3l5.86 3.61 0 7.22 -5.86 3.61 -5.86 -3.61 0 -7.22z" fill="#3485bc" stroke="#3485bc"/>
<path d="M1521.9 305.3l5.86 3.61 0 7.22 -5.86 3.61 -5.86 -3.61 0 -7.22z" fill="#3d7ab6" stroke="#3d7ab6"/>
<path d="M1537.5 305.3l5.86 3.61 0 7.22 -5.86 3.61 -5.86 -3.61 0 -7.22z" fill="#466eb1" stroke="#466eb1"/>
<path d="M1553.1 305.3l5.86 3.61 0 7.22 -5.86 3.61 -5.86 -3.61 0 -7.22z" fill="#4a69ae" stroke="#4a69ae"/>
<path d="M1568.7 305.3l5.86 3.61 0 7.22 -5.86 3.61 -5.86 -3.61 0 -7.22z" fill="#4f63ab" stroke="#4f63ab"/>
<path d="M1584.3 305.3l5.86 3.61 0 7.22 -5.86 3.61 -5.86 -3.61 0 -7.22z" fill="#535da9" stroke="#535da9"/>
<path d="M1600.0 305.3l5.86 3.61 0 7.22 -5.86 3.61 -5.86 -3.61 0 -7.22z" fill="#5758a6" stroke="#5758a6"/>
<path d="M1615.6 305.3l5.86 3.61 0 7.22 -5.86 3.61 -5.86 -3.61 0 -7.22z" fill="#5c52a3" stroke="#5c52a3"/>
<path d="M1631.2 305.3l5.86 3.61 0 7.22 -5.86 3.61 -5.86 -3.61 0 -7.22z" fill="#5e4fa2" stroke="#5e4fa2"/>
<path d="M1646.8 305.3l5.86 3.61 0 7.22 -5.86 3.61 -5.86 -3.61 0 -7.22z" fill="#5e4fa2" stroke="#5e4fa2"/>
<path d="M1662.4 305.3l5.86 3.61 0 7.22 -5.86 3.61 -5.86 -3.61 0 -7.22z" fill="#5e4fa2" stroke="#5e4fa2"/>
<path d="M1678.1 305.3l5.86 3.61 0 7.22 -5.86 3.61 -5.86 -3.61 0 -7.22z" fill="#5e4fa2" stroke="#5e4fa2"/>
<path d="M1693.7 305.3l5.86 3.61 0 7.22 -5.86 3.61 -5.86 -3.61 0 -7.22z" fill="#5e4fa2" stroke="#5e4fa2"/>
<path d="M1724.9 305.3l5.86 3.61 0 7.22 -5.86 3.61 -5.86 -3.61 0 -7.22z" fill="#5e4fa2" stroke="#5e4fa2"/>
<path d="M1740.5 305.3l5.86 3.61 0 7.22 -5.86 3.61 -5.86 -3.61 0 -7.22z" fill="#5e4fa2" stroke="#5e4fa2"/>
<path d="M1787.4 305.3l5.86 3.61 0 7.22 -5.86 3.61 -5.86 -3.61 0 -7.22z" fill="#5e4fa2" stroke="#5e4fa2"/>
<path d="M1482.8 320.5l5.86 3.61 0 7.22 -5.86 3.61 -5.86 -3.61 0 -7.22z" fill="#b7e2a2" stroke="#b7e2a2"/>
<path d="M1498.4 320.5l5.86 3.61 0 7.22 -5.86 3.61 -5.86 -3.61 0 -7.22z" fill="#3c94b8" stroke="#3c94b8"/>
<path d="M1514.0 320.5l5.86 3.61 0 7.22 -5.86 3.61 -5.86 -3.61 0 -7.22z" fill="#3d7ab6" stroke="#3d7ab6"/>
<path d="M1529.7 320.5l5.86 3.61 0 7.22 -5.86 3.61 -5.86 -3.61 0 -7.22z" fill="#466eb1" stroke="#466eb1"/>
<path d="M1545.3 320.5l5.86 3.61 0 7.22 -5.86 3.61 -5.86 -3.61 0 -7.22z" fill="#4a69ae" stroke="#4a69ae"/>
<path d="M1560.9 320.5l5.86 3.61 0 7.22 -5.86 3.61 -5.86 -3.61 0 -7.22z" fill="#4f63ab" stroke="#4f63ab"/>
<path d="M1576.5 320.5l5.86 3.61 0 7.22 -5.86 3.61 -5.86 -3.61 0 -7.22z" fill="#535da9" stroke="#535da9"/>
<path d="M1592.1 320.5l5.86 3.61 0 7.22 -5.86 3.61 -5.86 -3.61 0 -7.22z" fill="#5758a6" stroke="#5758a6"/>
<path d="M1607.8 320.5l5.86 3.61 0 7.22 -5.86 3.61 -5.86 -3.61 0 -7.22z" fill="#5c52a3" stroke="#5c52a3"/>
<path d="M1623.4 320.5l5.86 3.61 0 7.22 -5.86 3.61 -5.86 -3.61 0 -7.22z" fill="#5e4fa2" stroke="#5e4fa2"/>
<path d="M1639.0 320.5l5.86 3.61 0 7.22 -5.86 3.61 -5.86 -3.61 0 -7.22z" fill="#5e4fa2" stroke="#5e4fa2"/>
<path d="M1654.6 320.5l5.86 3.61 0 7.22 -5.86 3.61 -5.86 -3.61 0 -7.22z" fill="#5e4fa2" stroke="#5e4fa2"/>
<path d="M1670.2 320.5l5.86 3.61 0 7.22 -5.86 3.61 -5.86 -3.61 0 -7.22z" fill="#5e4fa2" stroke="#5e4fa2"/>
<path d="M1685.9 320.5l5.86 3.61 0 7.22 -5.86 3.61 -5.86 -3.61 0 -7.22z" fill="#5e4fa2" stroke="#5e4fa2"/>
<path d="M1701.5 320.5l5.86 3.61 0 7.22 -5.86 3.61 -5.86 -3.61 0 -7.22z" fill="#5e4fa2" stroke="#5e4fa2"/>
<path d="M1717.1 320.5l5.86 3.61 0 7.22 -5.86 3.61 -5.86 -3.61 0 -7.22z" fill="#5e4fa2" stroke="#5e4fa2"/>
<path d="M1475.0 335.8l5.86 3.61 0 7.22 -5.86 3.61 -5.86 -3.61 0 -7.22z" fill="#f88e52" stroke="#f88e52"/>
<path d="M1490.6 335.8l5.86 3.61 0 7.22 -5.86 3.61 -5.86 -3.61 0 -7.22z" fill="#3c94b8" stroke="#3c94b8"/>
<path d="M1506.2 335.8l5.86 3.61 0 7.22 -5.86 3.61 -5.86 -3.61 0 -7.22z" fill="#466eb1" stroke="#466eb1"/>
<path d="M1521.9 335.8l5.86 3.61 0 7.22 -5.86 3.61 -5.86 -3.61 0 -7.22z" fill="#4a69ae" stroke="#4a69ae"/>
<path d="M1537.5 335.8l5.86 3.61 0 7.22 -5.86 3.61 -5.86 -3.61 0 -7.22z" fill="#4f63ab" stroke="#4f63ab"/>
<path d="M1553.1 335.8l5.86 3.61 0 7.22 -5.86 3.61 -5.86 -3.61 0 -7.22z" fill="#535da9" stroke="#535da9"/>
<path d="M1568.7 335.8l5.86 3.61 0 7.22 -5.86 3.61 -5.86 -3.61 0 -7.22z" fill="#5758a6" stroke="#5758a6"/>
<path d="M1584.3 335.8l5.86 3.61 0 7.22 -5.86 3.61 -5.86 -3.61 0 -7.22z" fill="#5c52a3" stroke="#5c52a3"/>
<path d="M1600.0 335.8l5.86 3.61 0 7.22 -5.86 3.61 -5.86 -3.61 0 -7.22z" fill="#5e4fa2" stroke="#5e4fa2"/>
<path d="M1615.6 335.8l5.86 3.61 0 7.22 -5.86 3.61 -5.86 -3.61 0 -7.22z" fill="#5e4fa2" stroke="#5e4fa2"/>
<path d="M1631.2 335.8l5.86 3.61 0 7.22 -5.86 3.61 -5.86 -3.61 0 -7.22z" fill="#5e4fa2" stroke="#5e4fa2"/>
<path d="M1646.8 335.8l5.86 3.61 0 7.22 -5.86 3.61 -5.86 -3.61 0 -7.22z" fill="#5e4fa2" stroke="#5e4fa2"/>
<path d="M1662.4 335.8l5.86 3.61 0 7.22 -5.86 3.61 -5.86 -3.61 0 -7.22z" fill="#5e4fa2" stroke="#5e4fa2"/>
<path d="M1678.1 335.8l5.86 3.61 0 7.22 -5.86 3.61 -5.86 -3.61 0 -7.22z" fill="#5e4fa2" stroke="#5e4fa2"/>
<path d="M1693.7 335.8l5.86 3.61 0 7.22 -5.86 3.61 -5.86 -3.61 0 -7.22z" fill="#5e4fa2" stroke="#5e4fa2"/>
<path d="M1771.8 335.8l5.86 3.61 0 7.22 -5.86 3.61 -5.86 -3.61 0 -7.22z" fill="#5e4fa2" stroke="#5e4fa2"/>
<path d="M1803.0 335.8l5.86 3.61 0 7.22 -5.86 3.61 -5.86 -3.61 0 -7.22z" fill="#5e4fa2" stroke="#5e4fa2"/>
<path d="M1482.8 351.0l5.86 3.61 0 7.22 -5.86 3.61 -5.86 -3.61 0 -7.22z" fill="#9dd8a4" stroke="#9dd8a4"/>
<path d="M1498.4 351.0l5.86 3.61 0 7.22 -5.86 3.61 -5.86 -3.61 0 -7.22z" fill="#3b7db8" stroke="#3b7db8"/>
<path d="M1514.0 351.0l5.86 3.61 0 7.22 -5.86 3.61 -5.86 -3.61 0 -7.22z" fill="#4f63ab" stroke="#4f63ab"/>
<path d="M1529.7 351.0l5.86 3.61 0 7.22 -5.86 3.61 -5.86 -3.61 0 -7.22z" fill="#535da9" stroke="#535da9"/>
<path d="M1545.3 351.0l5.86 3.61 0 7.22 -5.86 3.61 -5.86 -3.61 0 -7.22z" fill="#5758a6" stroke="#5758a6"/>
<path d="M1560.9 351.0l5.86 3.61 0 7.22 -5.86 3.61 -5.86 -3.61 0 -7.22z" fill="#5c52a3" stroke="#5c52a3"/>
<path d="M1576.5 351.0l5.86 3.61 0 7.22 -5.86 3.61 -5.86 -3.61 0 -7.22z" fill="#5e4fa2" stroke="#5e4fa2"/>
<path d="M1592.1 351.0l5.86 3.61 0 7.22 -5.86 3.61 -5.86 -3.61 0 -7.22z" fill="#5e4fa2" stroke="#5e4fa2"/>
<path d="M1607.8 351.0l5.86 3.61 0 7.22 -5.86 3.61 -5.86 -3.61 0 -7.22z" fill="#5e4fa2" stroke="#5e4fa2"/>
<path d="M1623.4 351.0l5.86 3.61 0 7.22 -5.86 3.61 -5.86 -3.61 0 -7.22z" fill="#5e4fa2" stroke="#5e4fa2"/>
<path d="M1639.0 351.0l5.86 3.61 0 7.22 -5.86 3.61 -5.86 -3.61 0 -7.22z" fill="#5e4fa2" stroke="#5e4fa2"/>
<path d="M1654.6 351.0l5.86 3.61 0 7.22 -5.86 3.61 -5.86 -3.61 0 -7.22z" fill="#5e4fa2" stroke="#5e4fa2"/>
<path d="M1670.2 351.0l5.86 3.61 0 7.22 -5.86 3.61 -5.86 -3.61 0 -7.22z" fill="#5e4fa2" stroke="#5e4fa2"/>
<path d="M1685.9 351.0l5.86 3.61 0 7.22 -5.86 3.61 -5.86 -3.61 0 -7.22z" fill="#5e4fa2" stroke="#5e4fa2"/>
<path d="M1701.5 351.0l5.86 3.61 0 7.22 -5.86 3.61 -5.86 -3.61 0 -7.22z" fill="#5e4fa2" stroke="#5e4fa2"/>
<path d="M1748.3 351.0l5.86 3.61 0 7.22 -5.86 3.61 -5.86 -3.61 0 -7.22z" fill="#5e4fa2" stroke="#5e4fa2"/>
<path d="M1475.0 366.3l5.86 3.61 0 7.22 -5.86 3.61 -5.86 -3.61 0 -7.22z" fill="#fba15b" stroke="#fba15b"/>
<path d="M1490.6 366.3l5.86 3.61 0 7.22 -5.86 3.61 -5.86 -3.61 0 -7.22z" fill="#3288bd" stroke="#3288bd"/>
<path d="M1506.2 366.3l5.86 3.61 0 7.22 -5.86 3.61 -5.86 -3.61 0 -7.22z" fill="#4f63ab" stroke="#4f63ab"/>
<path d="M1521.9 366.3l5.86 3.61 0 7.22 -5.86 3.61 -5.86 -3.61 0 -7.22z" fill="#535da9" stroke="#535da9"/>
<path d="M1537.5 366.3l5.86 3.61 0 7.22 -5.86 3.61 -5.86 -3.61 0 -7.22z" fill="#5758a6" stroke="#5758a6"/>
<path d="M1553.1 366.3l5.86 3.61 0 7.22 -5.86 3.61 -5.86 -3.61 0 -7.22z" fill="#5c52a3" stroke="#5c52a3"/>
<path d="M1568.7 366.3l5.86 3.61 0 7.22 -5.86 3.61 -5.86 -3.61 0 -7.22z" fill="#5e4fa2" stroke="#5e4fa2"/>
<path d="M1584.3 366.3l5.86 3.61 0 7.22 -5.86 3.61 -5.86 -3.61 0 -7.22z" fill="#5e4fa2" stroke="#5e4fa2"/>
<path d="M1600.0 366.3l5.86 3.61 0 7.22 -5.86 3.61 -5.86 -3.61 0 -7.22z" fill="#5e4fa2" stroke="#5e4fa2"/>
<path d="M1615.6 366.3l5.86 3.61 0 7.22 -5.86 3.61 -5.86 -3.61 0 -7.22z" fill="#5e4fa2" stroke="#5e4fa2"/>
<path d="M1631.2 366.3l5.86 3.61 0 7.22 -5.86 3.61 -5.86 -3.61 0 -7.22z" fill="#5e4fa2" stroke="#5e4fa2"/>
<path d="M1646.8 366.3l5.86 3.61 0 7.22 -5.86 3.61 -5.86 -3.61 0 -7.22z" fill="#5e4fa2" stroke="#5e4fa2"/>
<path d="M1662.4 366.3l5.86 3.61 0 7.22 -5.86 3.61 -5.86 -3.61 0 -7.22z" fill="#5e4fa2" stroke="#5e4fa2"/>
<path d="M1678.1 366.3l5.86 3.61 0 7.22 -5.86 3.61 -5.86 -3.61 0 -7.22z" fill="#5e4fa2" stroke="#5e4fa2"/>
<path d="M1693.7 366.3l5.86 3.61 0 7.22 -5.86 3.61 -5.86 -3.61 0 -7.22z" fill="#5e4fa2" stroke="#5e4fa2"/>
<path d="M1724.9 366.3l5.86 3.61 0 7.22 -5.86 3.61 -5.86 -3.61 0 -7.22z" fill="#5e4fa2" stroke="#5e4fa2"/>
<path d="M1771.8 366.3l5.86 3.61 0 7.22 -5.86 3.61 -5.86 -3.61 0 -7.22z" fill="#5e4fa2" stroke="#5e4fa2"/>
<path d="M1482.8 381.5l5.86 3.61 0 7.22 -5.86 3.61 -5.86 -3.61 0 -7.22z" fill="#56b1ac" stroke="#56b1ac"/>
<path d="M1498.4 381.5l5.86 3.61 0 7.22 -5.86 3.61 -5.86 -3.61 0 -7.22z" fill="#4471b2" stroke="#4471b2"/>
<path d="M1514.0 381.5l5.86 3.61 0 7.22 -5.86 3.61 -5.86 -3.61 0 -7.22z" fill="#535da9" stroke="#535da9"/>
<path d="M1529.7 381.5l5.86 3.61 0 7.22 -5.86 3.61 -5.86 -3.61 0 -7.22z" fill="#5758a6" stroke="#5758a6"/>
<path d="M1545.3 381.5l5.86 3.61 0 7.22 -5.86 3.61 -5.86 -3.61 0 -7.22z" fill="#5c52a3" stroke="#5c52a3"/>
<path d="M1560.9 381.5l5.86 3.61 0 7.22 -5.86 3.61 -5.86 -3.61 0 -7.22z" fill="#5e4fa2" stroke="#5e4fa2"/>
<path d="M1576.5 381.5l5.86 3.61 0 7.22 -5.86 3.61 -5.86 -3.61 0 -7.22z" fill="#5e4fa2" stroke="#5e4fa2"/>
<path d="M1592.1 381.5l5.86 3.61 0 7.22 -5.86 3.61 -5.86 -3.61 0 -7.22z" fill="#5e4fa2" stroke="#5e4fa2"/>
<path d="M1607.8 381.5l5.86 3.61 0 7.22 -5.86 3.61 -5.86 -3.61 0 -7.22z" fill="#5e4fa2" stroke="#5e4fa2"/>
<path d="M1623.4 381.5l5.86 3.61 0 7.22 -5.86 3.61 -5.86 -3.61 0 -7.22z" fill="#5e4fa2" stroke="#5e4fa2"/>
<path d="M1639.0 381.5l5.86 3.61 0 7.22 -5.86 3.61 -5.86 -3.61 0 -7.22z" fill="#5e4fa2" stroke="#5e4fa2"/>
<path d="M1654.6 381.5l5.86 3.61 0 7.22 -5.86 3.61 -5.86 -3.61 0 -7.22z" fill="#5e4fa2" stroke="#5e4fa2"/>
<path d="M1670.2 381.5l5.86 3.61 0 7.22 -5.86 3.61 -5.86 -3.61 0 -7.22z" fill="#5e4fa2" stroke="#5e4fa2"/>
<path d="M1685.9 381.5l5.86 3.61 0 7.22 -5.86 3.61 -5.86 -3.61 0 -7.22z" fill="#5e4fa2" stroke="#5e4fa2"/>
<path d="M1701.5 381.5l5.86 3.61 0 7.22 -5.86 3.61 -5.86 -3.61 0 -7.22z" fill="#5e4fa2" stroke="#5e4fa2"/>
<path d="M1717.1 381.5l5.86 3.61 0 7.22 -5.86 3.61 -5.86 -3.61 0 -7.22z" fill="#5e4fa2" stroke="#5e4fa2"/>
<path d="M1748.3 381.5l5.86 3.61 0 7.22 -5.86 3.61 -5.86 -3.61 0 -7.22z" fill="#5e4fa2" stroke="#5e4fa2"/>
<path d="M1779.6 381.5l5.86 3.61 0 7.22 -5.86 3.61 -5.86 -3.61 0 -7.22z" fill="#5e4fa2" stroke="#5e4fa2"/>
<path d="M1475.0 396.7l5.86 3.61 0 7.22 -5.86 3.61 -5.86 -3.61 0 -7.22z" fill="#ffffbf" stroke="#ffffbf"/>
<path d="M1490.6 396.7l5.86 3.61 0 7.22 -5.86 3.61 -5.86 -3.61 0 -7.22z" fill="#4471b2" stroke="#4471b2"/>
<path d="M1506.2 396.7l5.86 3.61 0 7.22 -5.86 3.61 -5.86 -3.61 0 -7.22z" fill="#535da9" stroke="#535da9"/>
<path d="M1521.9 396.7l5.86 3.61 0 7.22 -5.86 3.61 -5.86 -3.61 0 -7.22z" fill="#5758a6" stroke="#5758a6"/>
<path d="M1537.5 396.7l5.86 3.61 0 7.22 -5.86 3.61 -5.86 -3.61 0 -7.22z" fill="#5c52a3" stroke="#5c52a3"/>
<path d="M1553.1 396.7l5.86 3.61 0 7.22 -5.86 3.61 -5.86 -3.61 0 -7.22z" fill="#5e4fa2" stroke="#5e4fa2"/>
<path d="M1568.7 396.7l5.86 3.61 0 7.22 -5.86 3.61 -5.86 -3.61 0 -7.22z" fill="#5e4fa2" stroke="#5e4fa2"/>
<path d="M1584.3 396.7l5.86 3.61 0 7.22 -5.86 3.61 -5.86 -3.61 0 -7.22z" fill="#5e4fa2" stroke="#5e4fa2"/>
<path d="M1600.0 396.7l5.86 3.61 0 7.22 -5.86 3.61 -5.86 -3.61 0 -7.22z" fill="#5e4fa2" stroke="#5e4fa2"/>
<path d="M1615.6 396.7l5.86 3.61 0 7.22 -5.86 3.61 -5.86 -3.61 0 -7.22z" fill="#5e4fa2" stroke="#5e4fa2"/>
<path d="M1631.2 396.7l5.86 3.61 0 7.22 -5.86 3.61 -5.86 -3.61 0 -7.22z" fill="#5e4fa2" stroke="#5e4fa2"/>
<path d="M1646.8 396.7l5.86 3.61 0 7.22 -5.86 3.61 -5.86 -3.61 0 -7.22z" fill="#5e4fa2" stroke="#5e4fa2"/>
<path d="M1678.1 396.7l5.86 3.61 0 7.22 -5.86 3.61 -5.86 -3.61 0 -7.22z" fill="#5e4fa2" stroke="#5e4fa2"/>
<path d="M1693.7 396.7l5.86 3.61 0 7.22 -5.86 3.61 -5.86 -3.61 0 -7.22z" fill="#5e4fa2" stroke="#5e4fa2"/>
<path d="M1724.9 396.7l5.86 3.61 0 7.22 -5.86 3.61 -5.86 -3.61 0 -7.22z" fill="#5e4fa2" stroke="#5e4fa2"/>
<path d="M1740.5 396.7l5.86 3.61 0 7.22 -5.86 3.61 -5.86 -3.61 0 -7.22z" fill="#5e4fa2" stroke="#5e4fa2"/>
<path d="M1482.8 412.0l5.86 3.61 0 7.22 -5.86 3.61 -5.86 -3.61 0 -7.22z" fill="#479fb3" stroke="#479fb3"/>
<path d="M1498.4 412.0l5.86 3.61 0 7.22 -5.86 3.61 -5.86 -3.61 0 -7.22z" fill="#486cb0" stroke="#486cb0"/>
<path d="M1514.0 412.0l5.86 3.61 0 7.22 -5.86 3.61 -5.86 -3.61 0 -7.22z" fill="#5758a6" stroke="#5758a6"/>
<path d="M1529.7 412.0l5.86 3.61 0 7.22 -5.86 3.61 -5.86 -3.61 0 -7.22z" fill="#5c52a3" stroke="#5c52a3"/>
<path d="M1545.3 412.0l5.86 3.61 0 7.22 -5.86 3.61 -5.86 -3.61 0 -7.22z" fill="#5e4fa2" stroke="#5e4fa2"/>
<path d="M1560.9 412.0l5.86 3.61 0 7.22 -5.86 3.61 -5.86 -3.61 0 -7.22z" fill="#5e4fa2" stroke="#5e4fa2"/>
<path d="M1576.5 412.0l5.86 3.61 0 7.22 -5.86 3.61 -5.86 -3.61 0 -7.22z" fill="#5e4fa2" stroke="#5e4fa2"/>
<path d="M1592.1 412.0l5.86 3.61 0 7.22 -5.86 3.61 -5.86 -3.61 0 -7.22z" fill="#5e4fa2" stroke="#5e4fa2"/>
<path d="M1607.8 412.0l5.86 3.61 0 7.22 -5.86 3.61 -5.86 -3.61 0 -7.22z" fill="#5e4fa2" stroke="#5e4fa2"/>
<path d="M1623.4 412.0l5.86 3.61 0 7.22 -5.86 3.61 -5.86 -3.61 0 -7.22z" fill="#5e4fa2" stroke="#5e4fa2"/>
<path d="M1639.0 412.0l5.86 3.61 0 7.22 -5.86 3.61 -5.86 -3.61 0 -7.22z" fill="#5e4fa2" stroke="#5e4fa2"/>
<path d="M1654.6 412.0l5.86 3.61 0 7.22 -5.86 3.61 -5.86 -3.61 0 -7.22z" fill="#5e4fa2" stroke="#5e4fa2"/>
<path d="M1670.2 412.0l5.86 3.61 0 7.22 -5.86 3.61 -5.86 -3.61 0 -7.22z" fill="#5e4fa2" stroke="#5e4fa2"/>
<path d="M1685.9 412.0l5.86 3.61 0 7.22 -5.86 3.61 -5.86 -3.61 0 -7.22z" fill="#5e4fa2" stroke="#5e4fa2"/>
<path d="M1701.5 412.0l5.86 3.61 0 7.22 -5.86 3.61 -5.86 -3.61 0 -7.22z" fill="#5e4fa2" stroke="#5e4fa2"/>
<path d="M1717.1 412.0l5.86 3.61 0 7.22 -5.86 3.61 -5.86 -3.61 0 -7.22z" fill="#5e4fa2" stroke="#5e4fa2"/>
<path d="M1748.3 412.0l5.86 3.61 0 7.22 -5.86 3.61 -5.86 -3.61 0 -7.22z" fill="#5e4fa2" stroke="#5e4fa2"/>
<path d="M1764.0 412.0l5.86 3.61 0 7.22 -5.86 3.61 -5.86 -3.61 0 -7.22z" fill="#5e4fa2" stroke="#5e4fa2"/>
<path d="M1779.6 412.0l5.86 3.61 0 7.22 -5.86 3.61 -5.86 -3.61 0 -7.22z" fill="#5e4fa2" stroke="#5e4fa2"/>
<path d="M1475.0 427.2l5.86 3.61 0 7.22 -5.86 3.61 -5.86 -3.61 0 -7.22z" fill="#f2faac" stroke="#f2faac"/>
<path d="M1490.6 427.2l5.86 3.61 0 7.22 -5.86 3.61 -5.86 -3.61 0 -7.22z" fill="#486cb0" stroke="#486cb0"/>
<path d="M1506.2 427.2l5.86 3.61 0 7.22 -5.86 3.61 -5.86 -3.61 0 -7.22z" fill="#5758a6" stroke="#5758a6"/>
<path d="M1521.9 427.2l5.86 3.61 0 7.22 -5.86 3.61 -5.86 -3.61 0 -7.22z" fill="#5c52a3" stroke="#5c52a3"/>
<path d="M1537.5 427.2l5.86 3.61 0 7.22 -5.86 3.61 -5.86 -3.61 0 -7.22z" fill="#5e4fa2" stroke="#5e4fa2"/>
<path d="M1553.1 427.2l5.86 3.61 0 7.22 -5.86 3.61 -5.86 -3.61 0 -7.22z" fill="#5e4fa2" stroke="#5e4fa2"/>
<path d="M1568.7 427.2l5.86 3.61 0 7.22 -5.86 3.61 -5.86 -3.61 0 -7.22z" fill="#5e4fa2" stroke="#5e4fa2"/>
<path d="M1584.3 427.2l5.86 3.61 0 7.22 -5.86 3.61 -5.86 -3.61 0 -7.22z" fill="#5e4fa2" stroke="#5e4fa2"/>
<path d="M1600.0 427.2l5.86 3.61 0 7.22 -5.86 3.61 -5.86 -3.61 0 -7.22z" fill="#5e4fa2" stroke="#5e4fa2"/>
<path d="M1615.6 427.2l5.86 3.61 0 7.22 -5.86 3.61 -5.86 -3.61 0 -7.22z" fill="#5e4fa2" stroke="#5e4fa2"/>
<path d="M1631.2 427.2l5.86 3.61 0 7.22 -5.86 3.61 -5.86 -3.61 0 -7.22z" fill="#5e4fa2" stroke="#5e4fa2"/>
<path d="M1646.8 427.2l5.86 3.61 0 7.22 -5.86 3.61 -5.86 -3.61 0 -7.22z" fill="#5e4fa2" stroke="#5e4fa2"/>
<path d="M1662.4 427.2l5.86 3.61 0 7.22 -5.86 3.61 -5.86 -3.61 0 -7.22z" fill="#5e4fa2" stroke="#5e4fa2"/>
<path d="M1678.1 427.2l5.86 3.61 0 7.22 -5.86 3.61 -5.86 -3.61 0 -7.22z" fill="#5e4fa2" stroke="#5e4fa2"/>
<path d="M1693.7 427.2l5.86 3.61 0 7.22 -5.86 3.61 -5.86 -3.61 0 -7.22z" fill="#5e4fa2" stroke="#5e4fa2"/>
<path d="M1709.3 427.2l5.86 3.61 0 7.22 -5.86 3.61 -5.86 -3.61 0 -7.22z" fill="#5e4fa2" stroke="#5e4fa2"/>
<path d="M1724.9 427.2l5.86 3.61 0 7.22 -5.86 3.61 -5.86 -3.61 0 -7.22z" fill="#5e4fa2" stroke="#5e4fa2"/>
<path d="M1482.8 442.5l5.86 3.61 0 7.22 -5.86 3.61 -5.86 -3.61 0 -7.22z" fill="#378ebb" stroke="#378ebb"/>
<path d="M1498.4 442.5l5.86 3.61 0 7.22 -5.86 3.61 -5.86 -3.61 0 -7.22z" fill="#4c66ad" stroke="#4c66ad"/>
<path d="M1514.0 442.5l5.86 3.61 0 7.22 -5.86 3.61 -5.86 -3.61 0 -7.22z" fill="#5c52a3" stroke="#5c52a3"/>
<path d="M1529.7 442.5l5.86 3.61 0 7.22 -5.86 3.61 -5.86 -3.61 0 -7.22z" fill="#5e4fa2" stroke="#5e4fa2"/>
<path d="M1545.3 442.5l5.86 3.61 0 7.22 -5.86 3.61 -5.86 -3.61 0 -7.22z" fill="#5e4fa2" stroke="#5e4fa2"/>
<path d="M1560.9 442.5l5.86 3.61 0 7.22 -5.86 3.61 -5.86 -3.61 0 -7.22z" fill="#5e4fa2" stroke="#5e4fa2"/>
<path d="M1576.5 442.5l5.86 3.61 0 7.22 -5.86 3.61 -5.86 -3.61 0 -7.22z" fill="#5e4fa2" stroke="#5e4fa2"/>
<path d="M1592.1 442.5l5.86 3.61 0 7.22 -5.86 3.61 -5.86 -3.61 0 -7.22z" fill="#5e4fa2" stroke="#5e4fa2"/>
<path d="M1607.8 442.5l5.86 3.61 0 7.22 -5.86 3.61 -5.86 -3.61 0 -7.22z" fill="#5e4fa2" stroke="#5e4fa2"/>
<path d="M1623.4 442.5l5.86 3.61 0 7.22 -5.86 3.61 -5.86 -3.61 0 -7.22z" fill="#5e4fa2" stroke="#5e4fa2"/>
<path d="M1639.0 442.5l5.86 3.61 0 7.22 -5.86 3.61 -5.86 -3.61 0 -7.22z" fill="#5e4fa2" stroke="#5e4fa2"/>
<path d="M1654.6 442.5l5.86 3.61 0 7.22 -5.86 3.61 -5.86 -3.61 0 -7.22z" fill="#5e4fa2" stroke="#5e4fa2"/>
<path d="M1670.2 442.5l5.86 3.61 0 7.22 -5.86 3.61 -5.86 -3.61 0 -7.22z" fill="#5e4fa2" stroke="#5e4fa2"/>
<path d="M1685.9 442.5l5.86 3.61 0 7.22 -5.86 3.61 -5.86 -3.61 0 -7.22z" fill="#5e4fa2" stroke="#5e4fa2"/>
<path d="M1475.0 457.7l5.86 3.61 0 7.22 -5.86 3.61 -5.86 -3.61 0 -7.22z" fill="#8fd2a4" stroke="#8fd2a4"/>
<path d="M1490.6 457.7l5.86 3.61 0 7.22 -5.86 3.61 -5.86 -3.61 0 -7.22z" fill="#4c66ad" stroke="#4c66ad"/>
<path d="M1506.2 457.7l5.86 3.61 0 7.22 -5.86 3.61 -5.86 -3.61 0 -7.22z" fill="#5c52a3" stroke="#5c52a3"/>
<path d="M1521.9 457.7l5.86 3.61 0 7.22 -5.86 3.61 -5.86 -3.61 0 -7.22z" fill="#5e4fa2" stroke="#5e4fa2"/>
<path d="M1537.5 457.7l5.86 3.61 0 7.22 -5.86 3.61 -5.86 -3.61 0 -7.22z" fill="#5e4fa2" stroke="#5e4fa2"/>
<path d="M1553.1 457.7l5.86 3.61 0 7.22 -5.86 3.61 -5.86 -3.61 0 -7.22z" fill="#5e4fa2" stroke="#5e4fa2"/>
<path d="M1568.7 457.7l5.86 3.61 0 7.22 -5.86 3.61 -5.86 -3.61 0 -7.22z" fill="#5e4fa2" stroke="#5e4fa2"/>
<path d="M1584.3 457.7l5.86 3.61 0 7.22 -5.86 3.61 -5.86 -3.61 0 -7.22z" fill="#5e4fa2" stroke="#5e4fa2"/>
<path d="M1600.0 457.7l5.86 3.61 0 7.22 -5.86 3.61 -5.86 -3.61 0 -7.22z" fill="#5e4fa2" stroke="#5e4fa2"/>
<path d="M1615.6 457.7l5.86 3.61 0 7.22 -5.86 3.61 -5.86 -3.61 0 -7.22z" fill="#5e4fa2" stroke="#5e4fa2"/>
<path d="M1631.2 457.7l5.86 3.61 0 7.22 -5.86 3.61 -5.86 -3.61 0 -7.22z" fill="#5e4fa2" stroke="#5e4fa2"/>
<path d="M1646.8 457.7l5.86 3.61 0 7.22 -5.86 3.61 -5.86 -3.61 0 -7.22z" fill="#5e4fa2" stroke="#5e4fa2"/>
<path d="M1662.4 457.7l5.86 3.61 0 7.22 -5.86 3.61 -5.86 -3.61 0 -7.22z" fill="#5e4fa2" stroke="#5e4fa2"/>
<path d="M1678.1 457.7l5.86 3.61 0 7.22 -5.86 3.61 -5.86 -3.61 0 -7.22z" fill="#5e4fa2" stroke="#5e4fa2"/>
<path d="M1724.9 457.7l5.86 3.61 0 7.22 -5.86 3.61 -5.86 -3.61 0 -7.22z" fill="#5e4fa2" stroke="#5e4fa2"/>
<path d="M1482.8 473.0l5.86 3.61 0 7.22 -5.86 3.61 -5.86 -3.61 0 -7.22z" fill="#4471b2" stroke="#4471b2"/>
<path d="M1498.4 473.0l5.86 3.61 0 7.22 -5.86 3.61 -5.86 -3.61 0 -7.22z" fill="#5160aa" stroke="#5160aa"/>
<path d="M1529.7 473.0l5.86 3.61 0 7.22 -5.86 3.61 -5.86 -3.61 0 -7.22z" fill="#5e4fa2" stroke="#5e4fa2"/>
<path d="M1545.3 473.0l5.86 3.61 0 7.22 -5.86 3.61 -5.86 -3.61 0 -7.22z" fill="#5e4fa2" stroke="#5e4fa2"/>
<path d="M1560.9 473.0l5.86 3.61 0 7.22 -5.86 3.61 -5.86 -3.61 0 -7.22z" fill="#5e4fa2" stroke="#5e4fa2"/>
<path d="M1576.5 473.0l5.86 3.61 0 7.22 -5.86 3.61 -5.86 -3.61 0 -7.22z" fill="#5e4fa2" stroke="#5e4fa2"/>
<path d="M1592.1 473.0l5.86 3.61 0 7.22 -5.86 3.61 -5.86 -3.61 0 -7.22z" fill="#5e4fa2" stroke="#5e4fa2"/>
<path d="M1607.8 473.0l5.86 3.61 0 7.22 -5.86 3.61 -5.86 -3.61 0 -7.22z" fill="#5e4fa2" stroke="#5e4fa2"/>
<path d="M1623.4 473.0l5.86 3.61 0 7.22 -5.86 3.61 -5.86 -3.61 0 -7.22z" fill="#5e4fa2" stroke="#5e4fa2"/>
<path d="M1639.0 473.0l5.86 3.61 0 7.22 -5.86 3.61 -5.86 -3.61 0 -7.22z" fill="#5e4fa2" stroke="#5e4fa2"/>
<path d="M1654.6 473.0l5.86 3.61 0 7.22 -5.86 3.61 -5.86 -3.61 0 -7.22z" fill="#5e4fa2" stroke="#5e4fa2"/>
<path d="M1685.9 473.0l5.86 3.61 0 7.22 -5.86 3.61 -5.86 -3.61 0 -7.22z" fill="#5e4fa2" stroke="#5e4fa2"/>
<path d="M1717.1 473.0l5.86 3.61 0 7.22 -5.86 3.61 -5.86 -3.61 0 -7.22z" fill="#5e4fa2" stroke="#5e4fa2"/>
<path d="M1475.0 488.2l5.86 3.61 0 7.22 -5.86 3.61 -5.86 -3.61 0 -7.22z" fill="#7bcaa5" stroke="#7bcaa5"/>
<path d="M1490.6 488.2l5.86 3.61 0 7.22 -5.86 3.61 -5.86 -3.61 0 -7.22z" fill="#5160aa" stroke="#5160aa"/>
<path d="M1506.2 488.2l5.86 3.61 0 7.22 -5.86 3.61 -5.86 -3.61 0 -7.22z" fill="#5e4fa2" stroke="#5e4fa2"/>
<path d="M1521.9 488.2l5.86 3.61 0 7.22 -5.86 3.61 -5.86 -3.61 0 -7.22z" fill="#5e4fa2" stroke="#5e4fa2"/>
<path d="M1537.5 488.2l5.86 3.61 0 7.22 -5.86 3.61 -5.86 -3.61 0 -7.22z" fill="#5e4fa2" stroke="#5e4fa2"/>
<path d="M1553.1 488.2l5.86 3.61 0 7.22 -5.86 3.61 -5.86 -3.61 0 -7.22z" fill="#5e4fa2" stroke="#5e4fa2"/>
<path d="M1568.7 488.2l5.86 3.61 0 7.22 -5.86 3.61 -5.86 -3.61 0 -7.22z" fill="#5e4fa2" stroke="#5e4fa2"/>
<path d="M1584.3 488.2l5.86 3.61 0 7.22 -5.86 3.61 -5.86 -3.61 0 -7.22z" fill="#5e4fa2" stroke="#5e4fa2"/>
<path d="M1600.0 488.2l5.86 3.61 0 7.22 -5.86 3.61 -5.86 -3.61 0 -7.22z" fill="#5e4fa2" stroke="#5e4fa2"/>
<path d="M1615.6 488.2l5.86 3.61 0 7.22 -5.86 3.61 -5.86 -3.61 0 -7.22z" fill="#5e4fa2" stroke="#5e4fa2"/>
<path d="M1631.2 488.2l5.86 3.61 0 7.22 -5.86 3.61 -5.86 -3.61 0 -7.22z" fill="#5e4fa2" stroke="#5e4fa2"/>
<path d="M1646.8 488.2l5.86 3.61 0 7.22 -5.86 3.61 -5.86 -3.61 0 -7.22z" fill="#5e4fa2" stroke="#5e4fa2"/>
<path d="M1678.1 488.2l5.86 3.61 0 7.22 -5.86 3.61 -5.86 -3.61 0 -7.22z" fill="#5e4fa2" stroke="#5e4fa2"/>
<path d="M1709.3 488.2l5.86 3.61 0 7.22 -5.86 3.61 -5.86 -3.61 0 -7.22z" fill="#5e4fa2" stroke="#5e4fa2"/>
<path d="M1482.8 503.4l5.86 3.61 0 7.22 -5.86 3.61 -5.86 -3.61 0 -7.22z" fill="#4471b2" stroke="#4471b2"/>
<path d="M1514.0 503.4l5.86 3.61 0 7.22 -5.86 3.61 -5.86 -3.61 0 -7.22z" fill="#5e4fa2" stroke="#5e4fa2"/>
<path d="M1529.7 503.4l5.86 3.61 0 7.22 -5.86 3.61 -5.86 -3.61 0 -7.22z" fill="#5e4fa2" stroke="#5e4fa2"/>
<path d="M1545.3 503.4l5.86 3.61 0 7.22 -5.86 3.61 -5.86 -3.61 0 -7.22z" fill="#5e4fa2" stroke="#5e4fa2"/>
<path d="M1560.9 503.4l5.86 3.61 0 7.22 -5.86 3.61 -5.86 -3.61 0 -7.22z" fill="#5e4fa2" stroke="#5e4fa2"/>
<path d="M1576.5 503.4l5.86 3.61 0 7.22 -5.86 3.61 -5.86 -3.61 0 -7.22z" fill="#5e4fa2" stroke="#5e4fa2"/>
<path d="M1592.1 503.4l5.86 3.61 0 7.22 -5.86 3.61 -5.86 -3.61 0 -7.22z" fill="#5e4fa2" stroke="#5e4fa2"/>
<path d="M1607.8 503.4l5.86 3.61 0 7.22 -5.86 3.61 -5.86 -3.61 0 -7.22z" fill="#5e4fa2" stroke="#5e4fa2"/>
<path d="M1623.4 503.4l5.86 3.61 0 7.22 -5.86 3.61 -5.86 -3.61 0 -7.22z" fill="#5e4fa2" stroke="#5e4fa2"/>
<path d="M1639.0 503.4l5.86 3.61 0 7.22 -5.86 3.61 -5.86 -3.61 0 -7.22z" fill="#5e4fa2" stroke="#5e4fa2"/>
<path d="M1654.6 503.4l5.86 3.61 0 7.22 -5.86 3.61 -5.86 -3.61 0 -7.22z" fill="#5e4fa2" stroke="#5e4fa2"/>
<path d="M1670.2 503.4l5.86 3.61 0 7.22 -5.86 3.61 -5.86 -3.61 0 -7.22z" fill="#5e4fa2" stroke="#5e4fa2"/>
<path d="M1685.9 503.4l5.86 3.61 0 7.22 -5.86 3.61 -5.86 -3.61 0 -7.22z" fill="#5e4fa2" stroke="#5e4fa2"/>
<path d="M1701.5 503.4l5.86 3.61 0 7.22 -5.86 3.61 -5.86 -3.61 0 -7.22z" fill="#5e4fa2" stroke="#5e4fa2"/>
<path d="M1732.7 503.4l5.86 3.61 0 7.22 -5.86 3.61 -5.86 -3.61 0 -7.22z" fill="#5e4fa2" stroke="#5e4fa2"/>
<path d="M1748.3 503.4l5.86 3.61 0 7.22 -5.86 3.61 -5.86 -3.61 0 -7.22z" fill="#5e4fa2" stroke="#5e4fa2"/>
<path d="M1475.0 518.7l5.86 3.61 0 7.22 -5.86 3.61 -5.86 -3.61 0 -7.22z" fill="#4ca5b1" stroke="#4ca5b1"/>
<path d="M1490.6 518.7l5.86 3.61 0 7.22 -5.86 3.61 -5.86 -3.61 0 -7.22z" fill="#5160aa" stroke="#5160aa"/>
<path d="M1537.5 518.7l5.86 3.61 0 7.22 -5.86 3.61 -5.86 -3.61 0 -7.22z" fill="#5e4fa2" stroke="#5e4fa2"/>
<path d="M1553.1 518.7l5.86 3.61 0 7.22 -5.86 3.61 -5.86 -3.61 0 -7.22z" fill="#5e4fa2" stroke="#5e4fa2"/>
<path d="M1568.7 518.7l5.86 3.61 0 7.22 -5.86 3.61 -5.86 -3.61 0 -7.22z" fill="#5e4fa2" stroke="#5e4fa2"/>
<path d="M1584.3 518.7l5.86 3.61 0 7.22 -5.86 3.61 -5.86 -3.61 0 -7.22z" fill="#5e4fa2" stroke="#5e4fa2"/>
<path d="M1600.0 518.7l5.86 3.61 0 7.22 -5.86 3.61 -5.86 -3.61 0 -7.22z" fill="#5e4fa2" stroke="#5e4fa2"/>
<path d="M1615.6 518.7l5.86 3.61 0 7.22 -5.86 3.61 -5.86 -3.61 0 -7.22z" fill="#5e4fa2" stroke="#5e4fa2"/>
<path d="M1631.2 518.7l5.86 3.61 0 7.22 -5.86 3.61 -5.86 -3.61 0 -7.22z" fill="#5e4fa2" stroke="#5e4fa2"/>
<path d="M1646.8 518.7l5.86 3.61 0 7.22 -5.86 3.61 -5.86 -3.61 0 -7.22z" fill="#5e4fa2" stroke="#5e4fa2"/>
<path d="M1662.4 518.7l5.86 3.61 0 7.22 -5.86 3.61 -5.86 -3.61 0 -7.22z" fill="#5e4fa2" stroke="#5e4fa2"/>
<path d="M1693.7 518.7l5.86 3.61 0 7.22 -5.86 3.61 -5.86 -3.61 0 -7.22z" fill="#5e4fa2" stroke="#5e4fa2"/>
<path d="M1482.8 533.9l5.86 3.61 0 7.22 -5.86 3.61 -5.86 -3.61 0 -7.22z" fill="#5a55a5" stroke="#5a55a5"/>
<path d="M1529.7 533.9l5.86 3.61 0 7.22 -5.86 3.61 -5.86 -3.61 0 -7.22z" fill="#5e4fa2" stroke="#5e4fa2"/>
<path d="M1545.3 533.9l5.86 3.61 0 7.22 -5.86 3.61 -5.86 -3.61 0 -7.22z" fill="#5e4fa2" stroke="#5e4fa2"/>
<path d="M1560.9 533.9l5.86 3.61 0 7.22 -5.86 3.61 -5.86 -3.61 0 -7.22z" fill="#5e4fa2" stroke="#5e4fa2"/>
<path d="M1576.5 533.9l5.86 3.61 0 7.22 -5.86 3.61 -5.86 -3.61 0 -7.22z" fill="#5e4fa2" stroke="#5e4fa2"/>
<path d="M1592.1 533.9l5.86 3.61 0 7.22 -5.86 3.61 -5.86 -3.61 0 -7.22z" fill="#5e4fa2" stroke="#5e4fa2"/>
<path d="M1607.8 533.9l5.86 3.61 0 7.22 -5.86 3.61 -5.86 -3.61 0 -7.22z" fill="#5e4fa2" stroke="#5e4fa2"/>
<path d="M1623.4 533.9l5.86 3.61 0 7.22 -5.86 3.61 -5.86 -3.61 0 -7.22z" fill="#5e4fa2" stroke="#5e4fa2"/>
<path d="M1639.0 533.9l5.86 3.61 0 7.22 -5.86 3.61 -5.86 -3.61 0 -7.22z" fill="#5e4fa2" stroke="#5e4fa2"/>
<path d="M1475.0 549.2l5.86 3.61 0 7.22 -5.86 3.61 -5.86 -3.61 0 -7.22z" fill="#4299b6" stroke="#4299b6"/>
<path d="M1521.9 549.2l5.86 3.61 0 7.22 -5.86 3.61 -5.86 -3.61 0 -7.22z" fill="#5e4fa2" stroke="#5e4fa2"/>
<path d="M1537.5 549.2l5.86 3.61 0 7.22 -5.86 3.61 -5.86 -3.61 0 -7.22z" fill="#5e4fa2" stroke="#5e4fa2"/>
<path d="M1553.1 549.2l5.86 3.61 0 7.22 -5.86 3.61 -5.86 -3.61 0 -7.22z" fill="#5e4fa2" stroke="#5e4fa2"/>
<path d="M1568.7 549.2l5.86 3.61 0 7.22 -5.86 3.61 -5.86 -3.61 0 -7.22z" fill="#5e4fa2" stroke="#5e4fa2"/>
<path d="M1584.3 549.2l5.86 3.61 0 7.22 -5.86 3.61 -5.86 -3.61 0 -7.22z" fill="#5e4fa2" stroke="#5e4fa2"/>
<path d="M1600.0 549.2l5.86 3.61 0 7.22 -5.86 3.61 -5.86 -3.61 0 -7.22z" fill="#5e4fa2" stroke="#5e4fa2"/>
<path d="M1615.6 549.2l5.86 3.61 0 7.22 -5.86 3.61 -5.86 -3.61 0 -7.22z" fill="#5e4fa2" stroke="#5e4fa2"/>
<path d="M1631.2 549.2l5.86 3.61 0 7.22 -5.86 3.61 -5.86 -3.61 0 -7.22z" fill="#5e4fa2" stroke="#5e4fa2"/>
<path d="M1646.8 549.2l5.86 3.61 0 7.22 -5.86 3.61 -5.86 -3.61 0 -7.22z" fill="#5e4fa2" stroke="#5e4fa2"/>
<path d="M1662.4 549.2l5.86 3.61 0 7.22 -5.86 3.61 -5.86 -3.61 0 -7.22z" fill="#5e4fa2" stroke="#5e4fa2"/>
<path d="M1514.0 564.4l5.86 3.61 0 7.22 -5.86 3.61 -5.86 -3.61 0 -7.22z" fill="#5e4fa2" stroke="#5e4fa2"/>
<path d="M1529.7 564.4l5.86 3.61 0 7.22 -5.86 3.61 -5.86 -3.61 0 -7.22z" fill="#5e4fa2" stroke="#5e4fa2"/>
<path d="M1576.5 564.4l5.86 3.61 0 7.22 -5.86 3.61 -5.86 -3.61 0 -7.22z" fill="#5e4fa2" stroke="#5e4fa2"/>
<path d="M1607.8 564.4l5.86 3.61 0 7.22 -5.86 3.61 -5.86 -3.61 0 -7.22z" fill="#5e4fa2" stroke="#5e4fa2"/>
<path d="M1623.4 564.4l5.86 3.61 0 7.22 -5.86 3.61 -5.86 -3.61 0 -7.22z" fill="#5e4fa2" stroke="#5e4fa2"/>
<path d="M1475.0 579.7l5.86 3.61 0 7.22 -5.86 3.61 -5.86 -3.61 0 -7.22z" fill="#4471b2" stroke="#4471b2"/>
<path d="M1584.3 579.7l5.86 3.61 0 7.22 -5.86 3.61 -5.86 -3.61 0 -7.22z" fill="#5e4fa2" stroke="#5e4fa2"/>
<path d="M1600.0 579.7l5.86 3.61 0 7.22 -5.86 3.61 -5.86 -3.61 0 -7.22z" fill="#5e4fa2" stroke="#5e4fa2"/>
<path d="M1615.6 579.7l5.86 3.61 0 7.22 -5.86 3.61 -5.86 -3.61 0 -7.22z" fill="#5e4fa2" stroke="#5e4fa2"/>
<path d="M1631.2 579.7l5.86 3.61 0 7.22 -5.86 3.61 -5.86 -3.61 0 -7.22z" fill="#5e4fa2" stroke="#5e4fa2"/>
<path d="M1646.8 579.7l5.86 3.61 0 7.22 -5.86 3.61 -5.86 -3.61 0 -7.22z" fill="#5e4fa2" stroke="#5e4fa2"/>
<path d="M1662.4 579.7l5.86 3.61 0 7.22 -5.86 3.61 -5.86 -3.61 0 -7.22z" fill="#5e4fa2" stroke="#5e4fa2"/>
<path d="M1693.7 579.7l5.86 3.61 0 7.22 -5.86 3.61 -5.86 -3.61 0 -7.22z" fill="#5e4fa2" stroke="#5e4fa2"/>
<path d="M1787.4 579.7l5.86 3.61 0 7.22 -5.86 3.61 -5.86 -3.61 0 -7.22z" fill="#5e4fa2" stroke="#5e4fa2"/>
<path d="M1482.8 594.9l5.86 3.61 0 7.22 -5.86 3.61 -5.86 -3.61 0 -7.22z" fill="#555aa7" stroke="#555aa7"/>
<path d="M1560.9 594.9l5.86 3.61 0 7.22 -5.86 3.61 -5.86 -3.61 0 -7.22z" fill="#5e4fa2" stroke="#5e4fa2"/>
<path d="M1607.8 594.9l5.86 3.61 0 7.22 -5.86 3.61 -5.86 -3.61 0 -7.22z" fill="#5e4fa2" stroke="#5e4fa2"/>
<path d="M1623.4 594.9l5.86 3.61 0 7.22 -5.86 3.61 -5.86 -3.61 0 -7.22z" fill="#5e4fa2" stroke="#5e4fa2"/>
<path d="M1639.0 594.9l5.86 3.61 0 7.22 -5.86 3.61 -5.86 -3.61 0 -7.22z" fill="#5e4fa2" stroke="#5e4fa2"/>
<path d="M1654.6 594.9l5.86 3.61 0 7.22 -5.86 3.61 -5.86 -3.61 0 -7.22z" fill="#5e4fa2" stroke="#5e4fa2"/>
<path d="M1670.2 594.9l5.86 3.61 0 7.22 -5.86 3.61 -5.86 -3.61 0 -7.22z" fill="#5e4fa2" stroke="#5e4fa2"/>
<path d="M1475.0 610.1l5.86 3.61 0 7.22 -5.86 3.61 -5.86 -3.61 0 -7.22z" fill="#5a55a5" stroke="#5a55a5"/>
<path d="M1600.0 610.1l5.86 3.61 0 7.22 -5.86 3.61 -5.86 -3.61 0 -7.22z" fill="#5e4fa2" stroke="#5e4fa2"/>
<path d="M1662.4 610.1l5.86 3.61 0 7.22 -5.86 3.61 -5.86 -3.61 0 -7.22z" fill="#5e4fa2" stroke="#5e4fa2"/>
<path d="M1545.3 625.4l5.86 3.61 0 7.22 -5.86 3.61 -5.86 -3.61 0 -7.22z" fill="#5e4fa2" stroke="#5e4fa2"/>
<path d="M1623.4 625.4l5.86 3.61 0 7.22 -5.86 3.61 -5.86 -3.61 0 -7.22z" fill="#5e4fa2" stroke="#5e4fa2"/></g>
<rect x="1444.90" y="73.10" width="513.20" height="584.40" fill="none" stroke="#333" stroke-width="2.4"/>
<line x1="1436.10" y1="649.50" x2="1444.90" y2="649.50" stroke="#333" stroke-width="2.8"/>
<text x="1396.07" y="658.69" font-size="29.03" textLength="31.00" lengthAdjust="spacingAndGlyphs" fill="#262626">0.0</text>
<line x1="1436.10" y1="517.17" x2="1444.90" y2="517.17" stroke="#333" stroke-width="2.8"/>
<text x="1396.13" y="526.37" font-size="29.03" textLength="31.00" lengthAdjust="spacingAndGlyphs" fill="#262626">0.5</text>
<line x1="1436.10" y1="384.85" x2="1444.90" y2="384.85" stroke="#333" stroke-width="2.8"/>
<text x="1396.07" y="394.04" font-size="29.03" textLength="31.00" lengthAdjust="spacingAndGlyphs" fill="#262626">1.0</text>
<line x1="1436.10" y1="252.53" x2="1444.90" y2="252.53" stroke="#333" stroke-width="2.8"/>
<text x="1396.13" y="261.57" font-size="29.03" textLength="31.00" lengthAdjust="spacingAndGlyphs" fill="#262626">1.5</text>
<line x1="1436.10" y1="120.20" x2="1444.90" y2="120.20" stroke="#333" stroke-width="2.8"/>
<text x="1396.07" y="129.39" font-size="29.03" textLength="31.00" lengthAdjust="spacingAndGlyphs" fill="#262626">2.0</text>
<line x1="1467.30" y1="657.50" x2="1467.30" y2="665.80" stroke="#333" stroke-width="2.8"/>
<text x="1461.20" y="691.67" font-size="29.03" textLength="12.40" lengthAdjust="spacingAndGlyphs" fill="#262626">0</text>
<line x1="1561.04" y1="657.50" x2="1561.04" y2="665.80" stroke="#333" stroke-width="2.8"/>
<text x="1548.32" y="691.67" font-size="29.03" textLength="24.81" lengthAdjust="spacingAndGlyphs" fill="#262626">10</text>
<line x1="1654.78" y1="657.50" x2="1654.78" y2="665.80" stroke="#333" stroke-width="2.8"/>
<text x="1642.35" y="691.67" font-size="29.03" textLength="24.81" lengthAdjust="spacingAndGlyphs" fill="#262626">20</text>
<line x1="1748.52" y1="657.50" x2="1748.52" y2="665.80" stroke="#333" stroke-width="2.8"/>
<text x="1736.23" y="691.67" font-size="29.03" textLength="24.81" lengthAdjust="spacingAndGlyphs" fill="#262626">30</text>
<line x1="1842.26" y1="657.50" x2="1842.26" y2="665.80" stroke="#333" stroke-width="2.8"/>
<text x="1830.14" y="691.67" font-size="29.03" textLength="24.81" lengthAdjust="spacingAndGlyphs" fill="#262626">40</text>
<line x1="1936.00" y1="657.50" x2="1936.00" y2="665.80" stroke="#333" stroke-width="2.8"/>
<text x="1923.69" y="691.67" font-size="29.03" textLength="24.81" lengthAdjust="spacingAndGlyphs" fill="#262626">50</text>
<text x="1489.34" y="59.53" font-size="26.82" textLength="432.68" lengthAdjust="spacingAndGlyphs" font-weight="bold">All differentially accessible peaks in P56</text>
<text x="1476.50" y="720.20" font-size="26.77" textLength="451.52" lengthAdjust="spacingAndGlyphs">% of cells with accesible peak in P56 clusters</text>
<text x="1392.76" y="445.42" font-size="27.68" textLength="170.86" lengthAdjust="spacingAndGlyphs" transform="rotate(-90 1392.76 445.42)">Shannon entropy</text>
<rect x="610.80" y="473.65" width="20.40" height="9.85" fill="#4b68ae"/>
<rect x="610.80" y="464.20" width="20.40" height="9.85" fill="#3881b9"/>
<rect x="610.80" y="454.75" width="20.40" height="9.85" fill="#429ab6"/>
<rect x="610.80" y="445.30" width="20.40" height="9.85" fill="#58b3ab"/>
<rect x="610.80" y="435.85" width="20.40" height="9.85" fill="#72c7a5"/>
<rect x="610.80" y="426.40" width="20.40" height="9.85" fill="#90d2a4"/>
<rect x="610.80" y="416.95" width="20.40" height="9.85" fill="#aedea3"/>
<rect x="610.80" y="407.50" width="20.40" height="9.85" fill="#c7e89e"/>
<rect x="610.80" y="398.05" width="20.40" height="9.85" fill="#e1f399"/>
<rect x="610.80" y="388.60" width="20.40" height="9.85" fill="#eff8a6"/>
<rect x="610.80" y="379.15" width="20.40" height="9.85" fill="#fafdb7"/>
<rect x="610.80" y="369.70" width="20.40" height="9.85" fill="#fff8b4"/>
<rect x="610.80" y="360.25" width="20.40" height="9.85" fill="#feeb9d"/>
<rect x="610.80" y="350.80" width="20.40" height="9.85" fill="#fedc87"/>
<rect x="610.80" y="341.35" width="20.40" height="9.85" fill="#fdc675"/>
<rect x="610.80" y="331.90" width="20.40" height="9.85" fill="#fdb063"/>
<rect x="610.80" y="322.45" width="20.40" height="9.85" fill="#f99555"/>
<rect x="610.80" y="313.00" width="20.40" height="9.85" fill="#f67848"/>
<rect x="610.80" y="303.55" width="20.40" height="9.85" fill="#ec6146"/>
<rect x="610.80" y="294.10" width="20.40" height="9.85" fill="#de4c4b"/>
<rect x="610.80" y="284.65" width="20.40" height="9.85" fill="#ce364d"/>
<rect x="610.80" y="275.20" width="20.40" height="9.85" fill="#b61c48"/>
<rect x="609.50" y="273.90" width="23.00" height="210.50" fill="none" stroke="#1a1a1a" stroke-width="2.6"/>
<line x1="632.80" y1="307.50" x2="636.30" y2="307.50" stroke="#111" stroke-width="2.4"/>
<line x1="632.80" y1="353.10" x2="636.30" y2="353.10" stroke="#111" stroke-width="2.4"/>
<line x1="632.80" y1="398.60" x2="636.30" y2="398.60" stroke="#111" stroke-width="2.4"/>
<line x1="632.80" y1="444.10" x2="636.30" y2="444.10" stroke="#111" stroke-width="2.4"/>
<text x="641.28" y="319.32" font-size="29.03" textLength="23.95" lengthAdjust="spacingAndGlyphs">4k</text>
<text x="641.28" y="364.77" font-size="29.03" textLength="23.95" lengthAdjust="spacingAndGlyphs">3k</text>
<text x="641.28" y="410.42" font-size="29.03" textLength="23.95" lengthAdjust="spacingAndGlyphs">2k</text>
<text x="641.28" y="455.92" font-size="29.03" textLength="23.95" lengthAdjust="spacingAndGlyphs">1k</text>
<text x="593.03" y="264.80" font-size="27.84" textLength="56.14" lengthAdjust="spacingAndGlyphs">count</text>
<rect x="1284.40" y="464.29" width="20.00" height="19.21" fill="#397eb8"/>
<rect x="1284.40" y="445.48" width="20.00" height="19.21" fill="#55afad"/>
<rect x="1284.40" y="426.67" width="20.00" height="19.21" fill="#88d0a4"/>
<rect x="1284.40" y="407.86" width="20.00" height="19.21" fill="#bfe5a0"/>
<rect x="1284.40" y="389.05" width="20.00" height="19.21" fill="#eaf79e"/>
<rect x="1284.40" y="370.25" width="20.00" height="19.21" fill="#ffffbf"/>
<rect x="1284.40" y="351.44" width="20.00" height="19.21" fill="#fee594"/>
<rect x="1284.40" y="332.63" width="20.00" height="19.21" fill="#fdbf6f"/>
<rect x="1284.40" y="313.82" width="20.00" height="19.21" fill="#f88e52"/>
<rect x="1284.40" y="295.01" width="20.00" height="19.21" fill="#ea5d47"/>
<rect x="1284.40" y="276.20" width="20.00" height="19.21" fill="#cc344d"/>
<rect x="1283.10" y="274.90" width="22.60" height="209.50" fill="none" stroke="#1a1a1a" stroke-width="2.6"/>
<line x1="1306.00" y1="299.70" x2="1309.50" y2="299.70" stroke="#111" stroke-width="2.4"/>
<line x1="1306.00" y1="340.40" x2="1309.50" y2="340.40" stroke="#111" stroke-width="2.4"/>
<line x1="1306.00" y1="380.10" x2="1309.50" y2="380.10" stroke="#111" stroke-width="2.4"/>
<line x1="1306.00" y1="420.70" x2="1309.50" y2="420.70" stroke="#111" stroke-width="2.4"/>
<line x1="1306.00" y1="459.50" x2="1309.50" y2="459.50" stroke="#111" stroke-width="2.4"/>
<text x="1315.29" y="309.57" font-size="29.03" textLength="36.56" lengthAdjust="spacingAndGlyphs">50k</text>
<text x="1315.29" y="389.97" font-size="29.03" textLength="36.56" lengthAdjust="spacingAndGlyphs">30k</text>
<text x="1315.29" y="469.37" font-size="29.03" textLength="36.56" lengthAdjust="spacingAndGlyphs">10k</text>
<text x="1270.64" y="264.80" font-size="28.93" textLength="55.43" lengthAdjust="spacingAndGlyphs">count</text>
<rect x="1975.00" y="475.44" width="20.00" height="8.06" fill="#4e63ac"/>
<rect x="1975.00" y="467.77" width="20.00" height="8.06" fill="#3f78b5"/>
<rect x="1975.00" y="460.11" width="20.00" height="8.06" fill="#368cbb"/>
<rect x="1975.00" y="452.45" width="20.00" height="8.06" fill="#48a1b3"/>
<rect x="1975.00" y="444.79" width="20.00" height="8.06" fill="#5bb6aa"/>
<rect x="1975.00" y="437.12" width="20.00" height="8.06" fill="#70c6a5"/>
<rect x="1975.00" y="429.46" width="20.00" height="8.06" fill="#88d0a4"/>
<rect x="1975.00" y="421.80" width="20.00" height="8.06" fill="#a1d9a4"/>
<rect x="1975.00" y="414.13" width="20.00" height="8.06" fill="#b8e2a1"/>
<rect x="1975.00" y="406.47" width="20.00" height="8.06" fill="#cdeb9d"/>
<rect x="1975.00" y="398.81" width="20.00" height="8.06" fill="#e2f399"/>
<rect x="1975.00" y="391.14" width="20.00" height="8.06" fill="#edf8a3"/>
<rect x="1975.00" y="383.48" width="20.00" height="8.06" fill="#f6fbb1"/>
<rect x="1975.00" y="375.82" width="20.00" height="8.06" fill="#ffffbf"/>
<rect x="1975.00" y="368.16" width="20.00" height="8.06" fill="#fff4ac"/>
<rect x="1975.00" y="360.49" width="20.00" height="8.06" fill="#fee99a"/>
<rect x="1975.00" y="352.83" width="20.00" height="8.06" fill="#fedc88"/>
<rect x="1975.00" y="345.17" width="20.00" height="8.06" fill="#fecb79"/>
<rect x="1975.00" y="337.50" width="20.00" height="8.06" fill="#fdb96a"/>
<rect x="1975.00" y="329.84" width="20.00" height="8.06" fill="#fca55d"/>
<rect x="1975.00" y="322.18" width="20.00" height="8.06" fill="#f88e52"/>
<rect x="1975.00" y="314.51" width="20.00" height="8.06" fill="#f57647"/>
<rect x="1975.00" y="306.85" width="20.00" height="8.06" fill="#ed6346"/>
<rect x="1975.00" y="299.19" width="20.00" height="8.06" fill="#e2524a"/>
<rect x="1975.00" y="291.53" width="20.00" height="8.06" fill="#d7414e"/>
<rect x="1975.00" y="283.86" width="20.00" height="8.06" fill="#c52d4b"/>
<rect x="1975.00" y="276.20" width="20.00" height="8.06" fill="#b21747"/>
<rect x="1973.70" y="274.90" width="22.60" height="209.50" fill="none" stroke="#1a1a1a" stroke-width="2.6"/>
<line x1="1996.60" y1="334.00" x2="2000.10" y2="334.00" stroke="#111" stroke-width="2.4"/>
<line x1="1996.60" y1="411.10" x2="2000.10" y2="411.10" stroke="#111" stroke-width="2.4"/>
<text x="2005.67" y="342.52" font-size="29.03" textLength="23.95" lengthAdjust="spacingAndGlyphs">1k</text>
<text x="2005.67" y="419.09" font-size="29.03" textLength="37.83" lengthAdjust="spacingAndGlyphs">500</text>
<text x="1961.84" y="264.80" font-size="28.31" textLength="55.02" lengthAdjust="spacingAndGlyphs">count</text>
<path d="M194.5,819.1 C194.0,820.3 192.1,822.5 191.3,826.5 C190.5,830.5 189.6,837.5 189.6,843.0 C189.6,848.5 190.2,854.0 191.3,859.6 C192.4,865.1 194.5,870.6 196.4,876.1 C198.3,881.6 200.4,886.9 202.6,892.4 C204.8,897.9 207.3,903.4 209.6,909.0 C211.9,914.5 214.1,920.0 216.2,925.5 C218.3,931.0 220.4,936.5 222.2,942.0 C224.1,947.5 225.8,953.0 227.3,958.6 C228.8,964.1 230.1,969.6 231.2,975.1 C232.4,980.6 233.3,985.9 234.2,991.4 C235.1,996.9 235.9,1002.4 236.5,1008.0 C237.1,1013.5 237.5,1019.2 238.0,1024.5 C238.5,1029.8 238.9,1034.3 239.3,1040.0 C239.7,1045.6 240.0,1052.3 240.3,1058.2 C240.6,1064.1 240.9,1067.0 241.3,1075.6 C241.7,1084.2 242.3,1098.4 242.7,1109.9 C243.1,1121.4 243.5,1133.0 243.8,1144.5 C244.1,1156.0 244.4,1166.7 244.7,1178.8 C245.0,1190.9 245.3,1203.7 245.5,1217.2 C245.7,1230.7 245.9,1252.5 246.0,1259.6 L246.6,1259.6 C246.7,1252.5 246.9,1230.7 247.1,1217.2 C247.3,1203.7 247.6,1190.9 247.9,1178.8 C248.2,1166.7 248.5,1156.0 248.8,1144.5 C249.1,1133.0 249.5,1121.4 249.9,1109.9 C250.3,1098.4 250.9,1084.2 251.3,1075.6 C251.7,1067.0 252.0,1064.1 252.3,1058.2 C252.6,1052.3 252.9,1045.6 253.3,1040.0 C253.7,1034.3 254.1,1029.8 254.6,1024.5 C255.1,1019.2 255.5,1013.5 256.1,1008.0 C256.7,1002.4 257.5,996.9 258.4,991.4 C259.3,985.9 260.3,980.6 261.4,975.1 C262.6,969.6 263.8,964.1 265.3,958.6 C266.8,953.0 268.6,947.5 270.4,942.0 C272.3,936.5 274.3,931.0 276.4,925.5 C278.5,920.0 280.7,914.5 283.0,909.0 C285.3,903.4 287.8,897.9 290.0,892.4 C292.2,886.9 294.3,881.6 296.2,876.1 C298.1,870.6 300.2,865.1 301.3,859.6 C302.4,854.0 303.0,848.5 303.0,843.0 C303.0,837.5 302.1,830.5 301.3,826.5 C300.5,822.5 298.6,820.3 298.1,819.1 Z" fill="none" stroke="#000" stroke-width="3.0" stroke-linejoin="round"/>
<line x1="246.3" y1="819.1" x2="246.3" y2="987.4" stroke="#000" stroke-width="2.2" stroke-linecap="round"/>
<rect x="241.4" y="829.0" width="9.8" height="64.2" fill="#000"/>
<circle cx="246.3" cy="843.0" r="5.3" fill="#fff"/>
<path d="M367.7,819.9 C367.2,821.0 366.6,822.6 364.9,826.5 C363.3,830.3 360.2,837.5 357.8,843.0 C355.4,848.5 352.9,854.0 350.4,859.6 C347.9,865.1 345.2,870.6 343.0,876.1 C340.8,881.6 338.8,886.9 337.2,892.4 C335.6,897.9 334.2,903.4 333.1,909.0 C332.0,914.5 331.2,920.0 330.6,925.5 C330.1,931.0 329.8,936.5 329.8,942.0 C329.8,947.5 329.9,953.0 330.6,958.6 C331.3,964.1 332.7,969.6 333.9,975.1 C335.1,980.6 336.6,985.9 338.0,991.4 C339.4,996.9 340.8,1002.4 342.2,1008.0 C343.6,1013.5 345.3,1020.0 346.3,1024.5 C347.3,1029.0 347.3,1030.6 348.3,1035.1 C349.3,1039.6 350.8,1045.9 352.1,1051.4 C353.4,1056.9 355.0,1062.4 356.2,1068.0 C357.4,1073.5 358.4,1079.0 359.5,1084.5 C360.6,1090.0 361.9,1095.5 363.0,1101.0 C364.1,1106.5 365.1,1112.0 366.1,1117.6 C367.1,1123.1 368.0,1128.6 369.0,1134.1 C370.0,1139.6 371.0,1144.9 371.9,1150.4 C372.8,1155.9 373.6,1161.4 374.3,1167.0 C375.0,1172.5 375.7,1178.0 376.2,1183.5 C376.7,1189.0 377.1,1194.5 377.4,1200.0 C377.8,1205.5 378.1,1211.1 378.3,1216.6 C378.5,1222.1 378.6,1225.9 378.7,1233.1 C378.8,1240.3 378.7,1255.2 378.7,1259.6 L393.9,1259.6 C393.9,1255.2 393.8,1240.3 393.9,1233.1 C394.0,1225.9 394.1,1222.1 394.3,1216.6 C394.5,1211.1 394.8,1205.5 395.2,1200.0 C395.6,1194.5 395.9,1189.0 396.4,1183.5 C396.9,1178.0 397.6,1172.5 398.3,1167.0 C399.0,1161.4 399.8,1155.9 400.7,1150.4 C401.6,1144.9 402.6,1139.6 403.6,1134.1 C404.6,1128.6 405.5,1123.1 406.5,1117.6 C407.5,1112.0 408.5,1106.5 409.6,1101.0 C410.7,1095.5 412.0,1090.0 413.1,1084.5 C414.2,1079.0 415.2,1073.5 416.4,1068.0 C417.6,1062.4 419.2,1056.9 420.5,1051.4 C421.8,1045.9 423.3,1039.6 424.3,1035.1 C425.3,1030.6 425.3,1029.0 426.3,1024.5 C427.3,1020.0 429.0,1013.5 430.4,1008.0 C431.8,1002.4 433.2,996.9 434.6,991.4 C436.0,985.9 437.5,980.6 438.7,975.1 C439.9,969.6 441.3,964.1 442.0,958.6 C442.7,953.0 442.8,947.5 442.8,942.0 C442.8,936.5 442.6,931.0 442.0,925.5 C441.4,920.0 440.6,914.5 439.5,909.0 C438.4,903.4 437.1,897.9 435.4,892.4 C433.8,886.9 431.8,881.6 429.6,876.1 C427.4,870.6 424.7,865.1 422.2,859.6 C419.7,854.0 417.2,848.5 414.8,843.0 C412.4,837.5 409.3,830.3 407.7,826.5 C406.1,822.6 405.4,821.0 404.9,819.9 Z" fill="none" stroke="#000" stroke-width="3.0" stroke-linejoin="round"/>
<line x1="386.3" y1="819.9" x2="386.3" y2="1235.4" stroke="#000" stroke-width="2.2" stroke-linecap="round"/>
<rect x="381.4" y="908.5" width="9.8" height="130.8" fill="#000"/>
<circle cx="386.3" cy="966.0" r="5.3" fill="#fff"/>
<path d="M507.3,821.2 C507.0,822.1 506.7,822.8 505.3,826.5 C503.9,830.1 501.1,837.5 498.8,843.0 C496.5,848.5 494.0,854.0 491.6,859.6 C489.2,865.1 486.7,870.6 484.5,876.1 C482.3,881.6 480.0,886.9 478.2,892.4 C476.4,897.9 474.9,903.4 473.7,909.0 C472.5,914.5 471.6,920.0 471.0,925.5 C470.3,931.0 469.9,936.5 469.8,942.0 C469.6,947.5 469.8,953.0 470.1,958.6 C470.4,964.1 470.8,969.6 471.8,975.1 C472.8,980.6 474.6,985.9 476.2,991.4 C477.8,996.9 479.6,1002.4 481.3,1008.0 C483.0,1013.5 485.1,1020.0 486.3,1024.5 C487.5,1029.0 487.5,1030.6 488.5,1035.1 C489.5,1039.6 491.0,1045.9 492.5,1051.4 C494.0,1056.9 495.9,1062.4 497.4,1068.0 C498.9,1073.5 500.3,1079.0 501.7,1084.5 C503.1,1090.0 504.4,1095.5 505.7,1101.0 C506.9,1106.5 508.1,1112.0 509.2,1117.6 C510.3,1123.1 511.3,1128.6 512.4,1134.1 C513.5,1139.6 514.6,1144.9 515.5,1150.4 C516.4,1155.9 517.2,1161.4 518.0,1167.0 C518.8,1172.5 519.4,1178.0 520.1,1183.5 C520.7,1189.0 521.4,1194.5 521.9,1200.0 C522.4,1205.5 522.8,1211.1 523.2,1216.6 C523.6,1222.1 524.1,1228.6 524.4,1233.1 C524.6,1237.6 524.6,1241.9 524.7,1243.7 L527.9,1243.7 C527.9,1241.9 527.9,1237.6 528.2,1233.1 C528.4,1228.6 529.0,1222.1 529.4,1216.6 C529.8,1211.1 530.2,1205.5 530.7,1200.0 C531.2,1194.5 531.9,1189.0 532.5,1183.5 C533.1,1178.0 533.8,1172.5 534.6,1167.0 C535.4,1161.4 536.2,1155.9 537.1,1150.4 C538.0,1144.9 539.1,1139.6 540.2,1134.1 C541.2,1128.6 542.3,1123.1 543.4,1117.6 C544.5,1112.0 545.6,1106.5 546.9,1101.0 C548.1,1095.5 549.5,1090.0 550.9,1084.5 C552.3,1079.0 553.7,1073.5 555.2,1068.0 C556.7,1062.4 558.6,1056.9 560.1,1051.4 C561.6,1045.9 563.1,1039.6 564.1,1035.1 C565.1,1030.6 565.1,1029.0 566.3,1024.5 C567.5,1020.0 569.6,1013.5 571.3,1008.0 C573.0,1002.4 574.8,996.9 576.4,991.4 C578.0,985.9 579.8,980.6 580.8,975.1 C581.8,969.6 582.2,964.1 582.5,958.6 C582.8,953.0 582.9,947.5 582.8,942.0 C582.6,936.5 582.2,931.0 581.6,925.5 C580.9,920.0 580.1,914.5 578.9,909.0 C577.7,903.4 576.2,897.9 574.4,892.4 C572.6,886.9 570.3,881.6 568.1,876.1 C565.9,870.6 563.4,865.1 561.0,859.6 C558.6,854.0 556.1,848.5 553.8,843.0 C551.5,837.5 548.7,830.1 547.3,826.5 C545.9,822.8 545.6,822.1 545.3,821.2 Z" fill="none" stroke="#000" stroke-width="3.0" stroke-linejoin="round"/>
<line x1="526.3" y1="821.2" x2="526.3" y2="1182.6" stroke="#000" stroke-width="2.2" stroke-linecap="round"/>
<rect x="521.4" y="908.3" width="9.8" height="111.3" fill="#000"/>
<circle cx="526.3" cy="956.9" r="5.3" fill="#fff"/>
<path d="M628.9,821.2 C628.5,822.1 628.0,822.8 626.3,826.5 C624.6,830.1 621.1,837.5 618.9,843.0 C616.7,848.5 614.5,854.0 613.1,859.6 C611.7,865.1 611.0,870.6 610.4,876.1 C609.8,881.6 609.7,886.9 609.6,892.4 C609.5,897.9 609.6,903.4 610.0,909.0 C610.4,914.5 611.1,920.0 611.8,925.5 C612.4,931.0 613.1,936.5 613.9,942.0 C614.7,947.5 615.6,953.0 616.4,958.6 C617.2,964.1 618.1,969.6 618.9,975.1 C619.7,980.6 620.5,985.9 621.3,991.4 C622.1,996.9 623.0,1002.4 623.8,1008.0 C624.6,1013.5 625.6,1020.0 626.3,1024.5 C627.0,1029.0 627.1,1030.6 627.8,1035.1 C628.4,1039.6 629.4,1045.9 630.2,1051.4 C631.0,1056.9 631.8,1062.4 632.7,1068.0 C633.6,1073.5 634.5,1079.0 635.5,1084.5 C636.5,1090.0 637.4,1095.5 638.4,1101.0 C639.4,1106.5 640.4,1112.0 641.4,1117.6 C642.4,1123.1 643.3,1128.6 644.3,1134.1 C645.2,1139.6 646.1,1144.9 647.1,1150.4 C648.0,1155.9 649.0,1161.4 650.0,1167.0 C651.0,1172.5 651.9,1178.0 652.9,1183.5 C653.9,1189.0 654.9,1194.5 655.8,1200.0 C656.7,1205.5 657.5,1211.1 658.2,1216.6 C658.9,1222.1 659.5,1229.0 659.9,1233.1 C660.2,1237.2 660.2,1240.0 660.3,1241.4 L672.3,1241.4 C672.4,1240.0 672.3,1237.2 672.7,1233.1 C673.0,1229.0 673.7,1222.1 674.4,1216.6 C675.1,1211.1 675.9,1205.5 676.8,1200.0 C677.7,1194.5 678.7,1189.0 679.7,1183.5 C680.7,1178.0 681.6,1172.5 682.6,1167.0 C683.6,1161.4 684.5,1155.9 685.5,1150.4 C686.5,1144.9 687.3,1139.6 688.3,1134.1 C689.2,1128.6 690.2,1123.1 691.2,1117.6 C692.2,1112.0 693.2,1106.5 694.2,1101.0 C695.2,1095.5 696.1,1090.0 697.1,1084.5 C698.0,1079.0 699.0,1073.5 699.9,1068.0 C700.8,1062.4 701.6,1056.9 702.4,1051.4 C703.2,1045.9 704.1,1039.6 704.8,1035.1 C705.4,1030.6 705.6,1029.0 706.3,1024.5 C707.0,1020.0 708.0,1013.5 708.8,1008.0 C709.6,1002.4 710.5,996.9 711.3,991.4 C712.1,985.9 712.9,980.6 713.7,975.1 C714.5,969.6 715.4,964.1 716.2,958.6 C717.0,953.0 717.9,947.5 718.7,942.0 C719.5,936.5 720.1,931.0 720.8,925.5 C721.4,920.0 722.2,914.5 722.6,909.0 C723.0,903.4 723.1,897.9 723.0,892.4 C722.9,886.9 722.8,881.6 722.2,876.1 C721.6,870.6 720.9,865.1 719.5,859.6 C718.1,854.0 715.9,848.5 713.7,843.0 C711.5,837.5 708.0,830.1 706.3,826.5 C704.6,822.8 704.1,822.1 703.7,821.2 Z" fill="none" stroke="#000" stroke-width="3.0" stroke-linejoin="round"/>
<line x1="666.3" y1="821.2" x2="666.3" y2="1241.4" stroke="#000" stroke-width="2.2" stroke-linecap="round"/>
<rect x="661.4" y="868.7" width="9.8" height="174.7" fill="#000"/>
<circle cx="666.3" cy="942.0" r="5.3" fill="#fff"/>
<path d="M791.9,826.1 C791.1,828.9 788.9,837.4 787.3,843.0 C785.7,848.6 784.1,854.0 782.4,859.6 C780.7,865.1 779.0,870.6 777.3,876.1 C775.6,881.6 773.9,886.9 772.3,892.4 C770.6,897.9 769.0,903.4 767.4,909.0 C765.8,914.5 764.1,920.0 762.6,925.5 C761.1,931.0 759.7,936.5 758.4,942.0 C757.1,947.5 755.9,953.0 754.9,958.6 C753.9,964.1 753.1,969.6 752.4,975.1 C751.7,980.6 751.2,985.9 750.8,991.4 C750.4,996.9 750.2,1002.4 750.0,1008.0 C749.8,1013.5 749.8,1020.0 749.8,1024.5 C749.8,1029.0 749.8,1030.6 750.2,1035.1 C750.6,1039.6 751.4,1045.9 752.3,1051.4 C753.1,1056.9 754.0,1062.4 755.3,1068.0 C756.6,1073.5 758.3,1079.0 759.9,1084.5 C761.5,1090.0 763.3,1095.5 765.0,1101.0 C766.7,1106.5 768.4,1112.0 770.0,1117.6 C771.6,1123.1 773.3,1128.6 774.9,1134.1 C776.5,1139.6 778.1,1144.9 779.7,1150.4 C781.3,1155.9 782.9,1161.4 784.3,1167.0 C785.7,1172.5 786.9,1178.0 788.1,1183.5 C789.3,1189.0 790.5,1194.5 791.6,1200.0 C792.7,1205.5 793.9,1211.8 794.9,1216.6 C795.9,1221.4 797.1,1226.8 797.5,1228.9 L815.1,1228.9 C815.5,1226.8 816.7,1221.4 817.7,1216.6 C818.7,1211.8 819.9,1205.5 821.0,1200.0 C822.1,1194.5 823.3,1189.0 824.5,1183.5 C825.7,1178.0 826.9,1172.5 828.3,1167.0 C829.7,1161.4 831.3,1155.9 832.9,1150.4 C834.5,1144.9 836.1,1139.6 837.7,1134.1 C839.3,1128.6 840.9,1123.1 842.6,1117.6 C844.2,1112.0 845.9,1106.5 847.6,1101.0 C849.3,1095.5 851.1,1090.0 852.7,1084.5 C854.3,1079.0 856.0,1073.5 857.3,1068.0 C858.6,1062.4 859.4,1056.9 860.3,1051.4 C861.1,1045.9 862.0,1039.6 862.4,1035.1 C862.8,1030.6 862.8,1029.0 862.8,1024.5 C862.8,1020.0 862.8,1013.5 862.6,1008.0 C862.4,1002.4 862.2,996.9 861.8,991.4 C861.4,985.9 860.9,980.6 860.2,975.1 C859.5,969.6 858.7,964.1 857.7,958.6 C856.7,953.0 855.5,947.5 854.2,942.0 C852.9,936.5 851.5,931.0 850.0,925.5 C848.5,920.0 846.8,914.5 845.2,909.0 C843.6,903.4 841.9,897.9 840.3,892.4 C838.6,886.9 837.0,881.6 835.3,876.1 C833.6,870.6 831.9,865.1 830.2,859.6 C828.5,854.0 826.9,848.6 825.3,843.0 C823.7,837.4 821.5,828.9 820.7,826.1 Z" fill="none" stroke="#000" stroke-width="3.0" stroke-linejoin="round"/>
<line x1="806.3" y1="826.1" x2="806.3" y2="1228.9" stroke="#000" stroke-width="2.2" stroke-linecap="round"/>
<rect x="801.4" y="949.4" width="9.8" height="124.4" fill="#000"/>
<circle cx="806.3" cy="1019.6" r="5.3" fill="#fff"/>
<path d="M934.2,823.5 C933.3,826.8 930.3,837.0 928.7,843.0 C927.0,849.0 925.8,854.0 924.3,859.6 C922.8,865.1 921.1,870.6 919.5,876.1 C917.9,881.6 916.5,886.9 914.9,892.4 C913.3,897.9 911.6,903.4 910.0,909.0 C908.4,914.5 906.6,920.0 905.0,925.5 C903.4,931.0 901.9,936.5 900.5,942.0 C899.1,947.5 897.6,953.0 896.4,958.6 C895.2,964.1 894.0,969.6 893.1,975.1 C892.2,980.6 891.5,985.9 891.0,991.4 C890.5,996.9 890.0,1002.4 889.8,1008.0 C889.6,1013.5 889.7,1020.0 889.8,1024.5 C889.9,1029.0 890.0,1030.6 890.6,1035.1 C891.1,1039.6 892.0,1045.9 893.1,1051.4 C894.2,1056.9 895.5,1062.4 897.0,1068.0 C898.5,1073.5 900.2,1079.0 901.9,1084.5 C903.6,1090.0 905.5,1095.5 907.3,1101.0 C909.1,1106.5 910.9,1112.0 912.7,1117.6 C914.4,1123.1 916.1,1128.6 917.8,1134.1 C919.4,1139.6 921.0,1144.9 922.6,1150.4 C924.1,1155.9 925.6,1161.4 927.1,1167.0 C928.6,1172.5 930.1,1178.0 931.6,1183.5 C933.0,1189.0 934.5,1194.5 935.8,1200.0 C937.1,1205.5 938.5,1211.1 939.5,1216.6 C940.5,1222.1 941.4,1228.4 941.9,1233.1 C942.4,1237.8 942.3,1242.6 942.4,1244.5 L950.2,1244.5 C950.3,1242.6 950.2,1237.8 950.7,1233.1 C951.2,1228.4 952.1,1222.1 953.1,1216.6 C954.1,1211.1 955.5,1205.5 956.8,1200.0 C958.1,1194.5 959.5,1189.0 961.0,1183.5 C962.5,1178.0 964.0,1172.5 965.5,1167.0 C967.0,1161.4 968.5,1155.9 970.0,1150.4 C971.5,1144.9 973.1,1139.6 974.8,1134.1 C976.4,1128.6 978.1,1123.1 979.9,1117.6 C981.6,1112.0 983.5,1106.5 985.3,1101.0 C987.1,1095.5 989.0,1090.0 990.7,1084.5 C992.4,1079.0 994.1,1073.5 995.6,1068.0 C997.1,1062.4 998.4,1056.9 999.5,1051.4 C1000.6,1045.9 1001.5,1039.6 1002.0,1035.1 C1002.5,1030.6 1002.7,1029.0 1002.8,1024.5 C1002.9,1020.0 1003.0,1013.5 1002.8,1008.0 C1002.6,1002.4 1002.1,996.9 1001.6,991.4 C1001.0,985.9 1000.4,980.6 999.5,975.1 C998.6,969.6 997.4,964.1 996.2,958.6 C995.0,953.0 993.5,947.5 992.1,942.0 C990.7,936.5 989.2,931.0 987.6,925.5 C986.0,920.0 984.2,914.5 982.6,909.0 C980.9,903.4 979.3,897.9 977.7,892.4 C976.1,886.9 974.7,881.6 973.1,876.1 C971.5,870.6 969.8,865.1 968.3,859.6 C966.8,854.0 965.5,849.0 963.9,843.0 C962.2,837.0 959.3,826.8 958.4,823.5 Z" fill="none" stroke="#000" stroke-width="3.0" stroke-linejoin="round"/>
<line x1="946.3" y1="823.5" x2="946.3" y2="1244.5" stroke="#000" stroke-width="2.2" stroke-linecap="round"/>
<rect x="941.4" y="951.1" width="9.8" height="121.9" fill="#000"/>
<circle cx="946.3" cy="1009.7" r="5.3" fill="#fff"/>
<path d="M1072.3,832.6 C1071.3,834.4 1068.6,838.5 1066.1,843.0 C1063.5,847.5 1059.9,854.0 1057.0,859.6 C1054.1,865.1 1051.8,870.6 1048.8,876.1 C1045.8,881.6 1042.2,886.9 1039.3,892.4 C1036.4,897.9 1032.9,904.8 1031.3,909.0 C1029.7,913.1 1030.0,914.5 1029.8,917.2 C1029.6,920.0 1029.6,921.4 1030.2,925.5 C1030.8,929.6 1032.0,936.5 1033.5,942.0 C1035.0,947.5 1036.9,953.0 1038.9,958.6 C1040.9,964.1 1042.8,969.6 1045.5,975.1 C1048.2,980.6 1052.0,985.9 1055.3,991.4 C1058.6,996.9 1062.5,1002.4 1065.3,1008.0 C1068.1,1013.5 1070.6,1020.0 1072.0,1024.5 C1073.4,1029.0 1073.1,1030.6 1073.9,1035.1 C1074.7,1039.6 1076.0,1045.9 1077.0,1051.4 C1078.0,1056.9 1079.1,1062.4 1079.9,1068.0 C1080.6,1073.5 1081.0,1079.0 1081.5,1084.5 C1082.0,1090.0 1082.5,1095.5 1082.8,1101.0 C1083.1,1106.5 1083.3,1112.0 1083.6,1117.6 C1083.8,1123.1 1084.1,1128.6 1084.3,1134.1 C1084.5,1139.6 1084.7,1144.9 1084.9,1150.4 C1085.1,1155.9 1085.3,1160.6 1085.5,1167.0 C1085.7,1173.3 1086.2,1185.0 1086.3,1188.6 L1086.3,1188.6 C1086.4,1185.0 1086.9,1173.3 1087.1,1167.0 C1087.3,1160.6 1087.5,1155.9 1087.7,1150.4 C1087.9,1144.9 1088.1,1139.6 1088.3,1134.1 C1088.5,1128.6 1088.8,1123.1 1089.0,1117.6 C1089.2,1112.0 1089.5,1106.5 1089.8,1101.0 C1090.1,1095.5 1090.6,1090.0 1091.1,1084.5 C1091.6,1079.0 1092.0,1073.5 1092.7,1068.0 C1093.5,1062.4 1094.6,1056.9 1095.6,1051.4 C1096.6,1045.9 1097.9,1039.6 1098.7,1035.1 C1099.5,1030.6 1099.2,1029.0 1100.6,1024.5 C1102.0,1020.0 1104.5,1013.5 1107.3,1008.0 C1110.1,1002.4 1114.0,996.9 1117.3,991.4 C1120.6,985.9 1124.4,980.6 1127.1,975.1 C1129.8,969.6 1131.7,964.1 1133.7,958.6 C1135.7,953.0 1137.6,947.5 1139.1,942.0 C1140.5,936.5 1141.8,929.6 1142.4,925.5 C1143.0,921.4 1143.0,920.0 1142.8,917.2 C1142.6,914.5 1142.9,913.1 1141.3,909.0 C1139.7,904.8 1136.2,897.9 1133.3,892.4 C1130.4,886.9 1126.8,881.6 1123.8,876.1 C1120.8,870.6 1118.5,865.1 1115.6,859.6 C1112.7,854.0 1109.0,847.5 1106.5,843.0 C1104.0,838.5 1101.3,834.4 1100.3,832.6 Z" fill="none" stroke="#000" stroke-width="3.0" stroke-linejoin="round"/>
<line x1="1086.3" y1="832.6" x2="1086.3" y2="1087.9" stroke="#000" stroke-width="2.2" stroke-linecap="round"/>
<rect x="1081.4" y="895.8" width="9.8" height="78.4" fill="#000"/>
<circle cx="1086.3" cy="931.2" r="5.3" fill="#fff"/>
<path d="M1219.3,823.9 C1218.8,826.0 1218.4,830.7 1216.6,836.2 C1214.8,841.8 1211.8,850.2 1208.7,857.2 C1205.6,864.3 1201.5,871.4 1197.9,878.4 C1194.3,885.5 1190.3,892.6 1186.9,899.6 C1183.5,906.7 1179.8,913.8 1177.3,920.8 C1174.8,927.9 1172.8,936.7 1171.6,942.0 C1170.4,947.3 1170.5,949.1 1170.4,952.6 C1170.3,956.2 1170.3,958.0 1171.0,963.2 C1171.7,968.5 1172.8,977.2 1174.7,984.2 C1176.6,991.2 1179.4,998.3 1182.5,1005.4 C1185.6,1012.5 1189.7,1019.5 1193.3,1026.6 C1196.9,1033.7 1200.7,1040.7 1204.1,1047.8 C1207.5,1054.9 1211.0,1062.0 1213.6,1069.0 C1216.2,1076.0 1218.5,1084.4 1219.6,1090.0 C1220.7,1095.6 1219.9,1100.6 1220.0,1102.7 L1232.6,1102.7 C1232.7,1100.6 1231.9,1095.6 1233.0,1090.0 C1234.1,1084.4 1236.4,1076.0 1239.0,1069.0 C1241.6,1062.0 1245.1,1054.9 1248.5,1047.8 C1251.9,1040.7 1255.7,1033.7 1259.3,1026.6 C1262.9,1019.5 1267.0,1012.5 1270.1,1005.4 C1273.2,998.3 1276.0,991.2 1277.9,984.2 C1279.8,977.2 1280.9,968.5 1281.6,963.2 C1282.3,958.0 1282.3,956.2 1282.2,952.6 C1282.1,949.1 1282.2,947.3 1281.0,942.0 C1279.8,936.7 1277.8,927.9 1275.3,920.8 C1272.8,913.8 1269.1,906.7 1265.7,899.6 C1262.3,892.6 1258.3,885.5 1254.7,878.4 C1251.1,871.4 1247.0,864.3 1243.9,857.2 C1240.8,850.2 1237.8,841.8 1236.0,836.2 C1234.2,830.7 1233.8,826.0 1233.3,823.9 Z" fill="none" stroke="#000" stroke-width="3.0" stroke-linejoin="round"/>
<line x1="1226.3" y1="823.9" x2="1226.3" y2="1102.7" stroke="#000" stroke-width="2.2" stroke-linecap="round"/>
<rect x="1221.4" y="922.5" width="9.8" height="73.6" fill="#000"/>
<circle cx="1226.3" cy="956.4" r="5.3" fill="#fff"/>
<path d="M1351.6,824.8 C1350.2,827.8 1347.0,835.3 1343.2,843.0 C1339.4,850.7 1332.8,861.7 1328.5,871.0 C1324.2,880.3 1320.2,889.7 1317.3,899.0 C1314.4,908.3 1312.5,920.0 1311.3,927.0 C1310.1,934.0 1310.2,936.3 1310.1,941.0 C1310.0,945.6 1309.8,948.0 1310.6,955.0 C1311.4,962.0 1312.8,973.6 1315.2,982.9 C1317.6,992.3 1321.5,1001.6 1325.0,1010.9 C1328.5,1020.2 1332.5,1029.4 1336.2,1038.7 C1339.9,1048.0 1344.1,1057.5 1347.4,1066.9 C1350.7,1076.3 1353.8,1085.5 1356.1,1094.9 C1358.4,1104.2 1360.1,1113.5 1361.4,1122.9 C1362.7,1132.2 1363.2,1141.6 1363.8,1150.8 C1364.4,1160.1 1364.8,1170.5 1365.2,1178.6 C1365.6,1186.7 1366.1,1196.1 1366.3,1199.6 L1366.3,1199.6 C1366.5,1196.1 1367.0,1186.7 1367.4,1178.6 C1367.8,1170.5 1368.2,1160.1 1368.8,1150.8 C1369.4,1141.6 1369.9,1132.2 1371.2,1122.9 C1372.5,1113.5 1374.2,1104.2 1376.5,1094.9 C1378.8,1085.5 1381.9,1076.3 1385.2,1066.9 C1388.5,1057.5 1392.7,1048.0 1396.4,1038.7 C1400.1,1029.4 1404.1,1020.2 1407.6,1010.9 C1411.1,1001.6 1415.0,992.3 1417.4,982.9 C1419.8,973.6 1421.2,962.0 1422.0,955.0 C1422.8,948.0 1422.6,945.6 1422.5,941.0 C1422.4,936.3 1422.5,934.0 1421.3,927.0 C1420.1,920.0 1418.2,908.3 1415.3,899.0 C1412.4,889.7 1408.4,880.3 1404.1,871.0 C1399.8,861.7 1393.2,850.7 1389.4,843.0 C1385.5,835.3 1382.4,827.8 1381.0,824.8 Z" fill="none" stroke="#000" stroke-width="3.0" stroke-linejoin="round"/>
<line x1="1366.3" y1="824.8" x2="1366.3" y2="1105.9" stroke="#000" stroke-width="2.2" stroke-linecap="round"/>
<rect x="1361.4" y="906.0" width="9.8" height="80.1" fill="#000"/>
<circle cx="1366.3" cy="944.1" r="5.3" fill="#fff"/>
<path d="M1497.3,830.5 C1496.5,832.2 1494.9,836.8 1492.3,840.9 C1489.7,845.0 1485.5,850.4 1481.8,855.1 C1478.1,859.8 1473.7,864.5 1469.9,869.1 C1466.0,873.7 1461.7,878.2 1458.7,882.9 C1455.7,887.5 1453.1,892.9 1451.7,896.9 C1450.3,900.8 1450.1,903.1 1450.1,906.6 C1450.1,910.1 1450.3,913.7 1451.5,917.9 C1452.7,922.1 1454.8,927.2 1457.3,931.8 C1459.8,936.5 1463.3,941.2 1466.4,945.8 C1469.5,950.5 1472.6,955.2 1475.9,959.8 C1479.1,964.5 1482.8,969.2 1485.9,973.8 C1489.0,978.5 1492.1,983.6 1494.3,987.8 C1496.5,992.0 1498.2,996.0 1499.1,999.1 C1500.0,1002.1 1499.8,1004.9 1499.9,1006.0 L1512.7,1006.0 C1512.8,1004.9 1512.6,1002.1 1513.5,999.1 C1514.4,996.0 1516.1,992.0 1518.3,987.8 C1520.5,983.6 1523.6,978.5 1526.7,973.8 C1529.8,969.2 1533.5,964.5 1536.7,959.8 C1540.0,955.2 1543.1,950.5 1546.2,945.8 C1549.3,941.2 1552.8,936.5 1555.3,931.8 C1557.8,927.2 1559.9,922.1 1561.1,917.9 C1562.3,913.7 1562.5,910.1 1562.5,906.6 C1562.5,903.1 1562.3,900.8 1560.9,896.9 C1559.5,892.9 1556.9,887.5 1553.9,882.9 C1550.9,878.2 1546.5,873.7 1542.7,869.1 C1538.9,864.5 1534.5,859.8 1530.8,855.1 C1527.1,850.4 1522.9,845.0 1520.3,840.9 C1517.7,836.8 1516.1,832.2 1515.3,830.5 Z" fill="none" stroke="#000" stroke-width="3.0" stroke-linejoin="round"/>
<line x1="1506.3" y1="830.5" x2="1506.3" y2="1006.0" stroke="#000" stroke-width="2.2" stroke-linecap="round"/>
<rect x="1501.4" y="885.4" width="9.8" height="50.2" fill="#000"/>
<circle cx="1506.3" cy="910.6" r="5.3" fill="#fff"/>
<path d="M1641.9,825.2 C1641.7,826.3 1641.8,827.8 1640.8,831.6 C1639.8,835.4 1637.7,842.4 1635.7,847.9 C1633.8,853.4 1631.4,858.9 1629.1,864.4 C1626.8,869.9 1624.2,875.5 1621.8,881.0 C1619.4,886.5 1617.2,892.0 1614.5,897.5 C1611.8,903.0 1608.4,908.5 1605.9,914.0 C1603.4,919.6 1601.2,925.1 1599.3,930.6 C1597.4,936.1 1595.9,941.4 1594.6,946.9 C1593.3,952.4 1592.1,957.9 1591.4,963.4 C1590.7,968.9 1590.2,974.5 1590.2,980.0 C1590.2,985.5 1590.3,991.0 1591.3,996.5 C1592.3,1002.0 1594.1,1007.5 1596.0,1013.0 C1597.9,1018.6 1601.0,1025.2 1602.6,1029.6 C1604.2,1033.9 1604.6,1035.5 1605.8,1039.1 C1607.0,1042.8 1608.3,1046.6 1610.0,1051.4 C1611.7,1056.2 1614.4,1062.4 1616.2,1068.0 C1618.0,1073.5 1619.6,1079.0 1621.0,1084.5 C1622.4,1090.0 1623.6,1095.5 1624.7,1101.0 C1625.8,1106.5 1626.8,1112.0 1627.8,1117.6 C1628.8,1123.1 1630.0,1128.6 1631.0,1134.1 C1632.0,1139.6 1633.1,1144.9 1634.1,1150.4 C1635.1,1155.9 1636.1,1161.4 1637.2,1167.0 C1638.3,1172.5 1639.5,1178.0 1640.5,1183.5 C1641.5,1189.0 1642.5,1194.5 1643.3,1200.0 C1644.1,1205.5 1644.6,1211.2 1645.1,1216.6 C1645.6,1221.9 1646.1,1229.6 1646.3,1232.3 L1646.3,1232.3 C1646.5,1229.6 1647.0,1221.9 1647.5,1216.6 C1648.0,1211.2 1648.5,1205.5 1649.3,1200.0 C1650.1,1194.5 1651.1,1189.0 1652.1,1183.5 C1653.1,1178.0 1654.3,1172.5 1655.4,1167.0 C1656.5,1161.4 1657.5,1155.9 1658.5,1150.4 C1659.5,1144.9 1660.5,1139.6 1661.6,1134.1 C1662.6,1128.6 1663.8,1123.1 1664.8,1117.6 C1665.8,1112.0 1666.8,1106.5 1667.9,1101.0 C1669.0,1095.5 1670.2,1090.0 1671.6,1084.5 C1673.0,1079.0 1674.6,1073.5 1676.4,1068.0 C1678.2,1062.4 1680.9,1056.2 1682.6,1051.4 C1684.3,1046.6 1685.6,1042.8 1686.8,1039.1 C1688.0,1035.5 1688.4,1033.9 1690.0,1029.6 C1691.6,1025.2 1694.7,1018.6 1696.6,1013.0 C1698.5,1007.5 1700.3,1002.0 1701.3,996.5 C1702.3,991.0 1702.4,985.5 1702.4,980.0 C1702.4,974.5 1701.9,968.9 1701.2,963.4 C1700.5,957.9 1699.3,952.4 1698.0,946.9 C1696.7,941.4 1695.2,936.1 1693.3,930.6 C1691.4,925.1 1689.2,919.6 1686.7,914.0 C1684.2,908.5 1680.8,903.0 1678.1,897.5 C1675.4,892.0 1673.2,886.5 1670.8,881.0 C1668.4,875.5 1665.8,869.9 1663.5,864.4 C1661.2,858.9 1658.8,853.4 1656.9,847.9 C1654.9,842.4 1652.8,835.4 1651.8,831.6 C1650.8,827.8 1650.9,826.3 1650.7,825.2 Z" fill="none" stroke="#000" stroke-width="3.0" stroke-linejoin="round"/>
<line x1="1646.3" y1="825.2" x2="1646.3" y2="1194.3" stroke="#000" stroke-width="2.2" stroke-linecap="round"/>
<rect x="1641.4" y="935.5" width="9.8" height="102.8" fill="#000"/>
<circle cx="1646.3" cy="987.4" r="5.3" fill="#fff"/>
<path d="M1771.0,830.7 C1769.6,832.4 1765.5,837.5 1762.4,840.9 C1759.3,844.3 1755.7,847.8 1752.5,851.3 C1749.3,854.8 1746.2,858.2 1743.3,861.7 C1740.4,865.1 1737.3,868.7 1735.3,872.1 C1733.3,875.5 1732.4,878.6 1731.5,882.0 C1730.6,885.5 1730.1,889.3 1729.9,892.8 C1729.7,896.4 1729.9,899.8 1730.5,903.2 C1731.1,906.7 1732.1,910.2 1733.3,913.6 C1734.5,917.1 1736.2,920.5 1737.9,924.0 C1739.6,927.5 1741.9,930.9 1743.7,934.4 C1745.5,937.9 1747.5,941.3 1748.9,944.8 C1750.3,948.2 1751.0,951.7 1752.2,955.2 C1753.4,958.6 1753.7,960.4 1755.9,965.6 C1758.1,970.7 1762.5,979.4 1765.5,986.3 C1768.5,993.3 1771.5,1000.1 1773.8,1007.1 C1776.1,1014.1 1778.0,1021.1 1779.5,1028.1 C1781.0,1035.1 1781.9,1041.9 1782.7,1048.9 C1783.5,1055.8 1784.0,1062.7 1784.5,1069.6 C1785.0,1076.6 1785.2,1084.7 1785.5,1090.4 C1785.8,1096.1 1786.2,1101.7 1786.3,1104.0 L1786.3,1104.0 C1786.4,1101.7 1786.8,1096.1 1787.1,1090.4 C1787.4,1084.7 1787.6,1076.6 1788.1,1069.6 C1788.6,1062.7 1789.1,1055.8 1789.9,1048.9 C1790.7,1041.9 1791.6,1035.1 1793.1,1028.1 C1794.6,1021.1 1796.5,1014.1 1798.8,1007.1 C1801.1,1000.1 1804.1,993.3 1807.1,986.3 C1810.1,979.4 1814.5,970.7 1816.7,965.6 C1818.9,960.4 1819.2,958.6 1820.4,955.2 C1821.6,951.7 1822.3,948.2 1823.7,944.8 C1825.1,941.3 1827.1,937.9 1828.9,934.4 C1830.7,930.9 1833.0,927.5 1834.7,924.0 C1836.4,920.5 1838.1,917.1 1839.3,913.6 C1840.5,910.2 1841.5,906.7 1842.1,903.2 C1842.7,899.8 1842.9,896.4 1842.7,892.8 C1842.5,889.3 1842.0,885.5 1841.1,882.0 C1840.2,878.6 1839.3,875.5 1837.3,872.1 C1835.3,868.7 1832.2,865.1 1829.3,861.7 C1826.4,858.2 1823.3,854.8 1820.1,851.3 C1816.9,847.8 1813.3,844.3 1810.2,840.9 C1807.1,837.5 1803.0,832.4 1801.6,830.7 Z" fill="none" stroke="#000" stroke-width="3.0" stroke-linejoin="round"/>
<line x1="1786.3" y1="830.7" x2="1786.3" y2="1063.5" stroke="#000" stroke-width="2.2" stroke-linecap="round"/>
<rect x="1781.4" y="879.3" width="9.8" height="74.4" fill="#000"/>
<circle cx="1786.3" cy="909.6" r="5.3" fill="#fff"/>
<path d="M1921.7,826.1 C1920.5,828.8 1918.6,835.2 1914.8,842.6 C1911.0,849.9 1904.0,860.9 1898.7,870.2 C1893.4,879.4 1887.4,888.7 1882.9,897.9 C1878.4,907.1 1873.7,918.6 1871.5,925.5 C1869.3,932.4 1869.8,934.7 1869.7,939.3 C1869.6,943.9 1870.1,946.2 1871.1,953.0 C1872.1,959.9 1873.6,971.4 1875.9,980.6 C1878.2,989.8 1882.3,1001.5 1884.9,1008.4 C1887.5,1015.3 1889.1,1017.6 1891.5,1022.2 C1893.9,1026.8 1896.6,1029.0 1899.4,1035.9 C1902.2,1042.8 1905.7,1054.3 1908.3,1063.5 C1910.9,1072.7 1912.9,1081.8 1914.8,1091.1 C1916.7,1100.3 1918.3,1109.6 1919.7,1118.8 C1921.1,1128.1 1922.1,1137.2 1923.0,1146.4 C1923.9,1155.6 1924.7,1166.4 1925.2,1174.0 C1925.8,1181.5 1926.1,1189.0 1926.3,1192.0 L1926.3,1192.0 C1926.5,1189.0 1926.8,1181.5 1927.4,1174.0 C1927.9,1166.4 1928.7,1155.6 1929.6,1146.4 C1930.5,1137.2 1931.5,1128.1 1932.9,1118.8 C1934.3,1109.6 1935.9,1100.3 1937.8,1091.1 C1939.7,1081.8 1941.7,1072.7 1944.3,1063.5 C1946.9,1054.3 1950.4,1042.8 1953.2,1035.9 C1956.0,1029.0 1958.7,1026.8 1961.1,1022.2 C1963.5,1017.6 1965.1,1015.3 1967.7,1008.4 C1970.3,1001.5 1974.4,989.8 1976.7,980.6 C1979.0,971.4 1980.5,959.9 1981.5,953.0 C1982.5,946.2 1983.0,943.9 1982.9,939.3 C1982.8,934.7 1983.3,932.4 1981.1,925.5 C1978.9,918.6 1974.2,907.1 1969.7,897.9 C1965.2,888.7 1959.2,879.4 1953.9,870.2 C1948.6,860.9 1941.6,849.9 1937.8,842.6 C1934.0,835.2 1932.0,828.8 1930.9,826.1 Z" fill="none" stroke="#000" stroke-width="3.0" stroke-linejoin="round"/>
<line x1="1926.3" y1="826.1" x2="1926.3" y2="1145.1" stroke="#000" stroke-width="2.2" stroke-linecap="round"/>
<rect x="1921.4" y="917.6" width="9.8" height="92.0" fill="#000"/>
<circle cx="1926.3" cy="957.3" r="5.3" fill="#fff"/>
<rect x="128.4" y="802.7" width="1904.1" height="474.0" fill="none" stroke="#000" stroke-width="2.7"/>
<line x1="114.6" y1="1259.60" x2="128.4" y2="1259.60" stroke="#000" stroke-width="2.6"/>
<text x="98.62" y="1273.66" font-size="28.81" textLength="31.31" lengthAdjust="spacingAndGlyphs" fill="#111" transform="rotate(-90 98.62 1273.66)">0.0</text>
<line x1="114.6" y1="1153.60" x2="128.4" y2="1153.60" stroke="#000" stroke-width="2.6"/>
<text x="98.62" y="1167.66" font-size="28.81" textLength="31.31" lengthAdjust="spacingAndGlyphs" fill="#111" transform="rotate(-90 98.62 1167.66)">0.5</text>
<line x1="114.6" y1="1047.60" x2="128.4" y2="1047.60" stroke="#000" stroke-width="2.6"/>
<text x="98.62" y="1061.66" font-size="28.81" textLength="31.31" lengthAdjust="spacingAndGlyphs" fill="#111" transform="rotate(-90 98.62 1061.66)">1.0</text>
<line x1="114.6" y1="941.60" x2="128.4" y2="941.60" stroke="#000" stroke-width="2.6"/>
<text x="98.32" y="955.66" font-size="28.81" textLength="31.31" lengthAdjust="spacingAndGlyphs" fill="#111" transform="rotate(-90 98.32 955.66)">1.5</text>
<line x1="114.6" y1="835.60" x2="128.4" y2="835.60" stroke="#000" stroke-width="2.6"/>
<text x="98.62" y="849.66" font-size="28.81" textLength="31.31" lengthAdjust="spacingAndGlyphs" fill="#111" transform="rotate(-90 98.62 849.66)">2.0</text>
<text x="48.49" y="1112.92" font-size="27.03" textLength="170.66" lengthAdjust="spacingAndGlyphs" fill="#111" transform="rotate(-90 48.49 1112.92)">Shannon entropy</text>
<line x1="246.30" y1="1276.7" x2="246.30" y2="1289.8" stroke="#000" stroke-width="2.6"/>
<line x1="386.30" y1="1276.7" x2="386.30" y2="1289.8" stroke="#000" stroke-width="2.6"/>
<line x1="526.30" y1="1276.7" x2="526.30" y2="1289.8" stroke="#000" stroke-width="2.6"/>
<line x1="666.30" y1="1276.7" x2="666.30" y2="1289.8" stroke="#000" stroke-width="2.6"/>
<line x1="806.30" y1="1276.7" x2="806.30" y2="1289.8" stroke="#000" stroke-width="2.6"/>
<line x1="946.30" y1="1276.7" x2="946.30" y2="1289.8" stroke="#000" stroke-width="2.6"/>
<line x1="1086.30" y1="1276.7" x2="1086.30" y2="1289.8" stroke="#000" stroke-width="2.6"/>
<line x1="1226.30" y1="1276.7" x2="1226.30" y2="1289.8" stroke="#000" stroke-width="2.6"/>
<line x1="1366.30" y1="1276.7" x2="1366.30" y2="1289.8" stroke="#000" stroke-width="2.6"/>
<line x1="1506.30" y1="1276.7" x2="1506.30" y2="1289.8" stroke="#000" stroke-width="2.6"/>
<line x1="1646.30" y1="1276.7" x2="1646.30" y2="1289.8" stroke="#000" stroke-width="2.6"/>
<line x1="1786.30" y1="1276.7" x2="1786.30" y2="1289.8" stroke="#000" stroke-width="2.6"/>
<line x1="1926.30" y1="1276.7" x2="1926.30" y2="1289.8" stroke="#000" stroke-width="2.6"/>
<text x="186.26" y="1318.70" font-size="26.22" textLength="116.15" lengthAdjust="spacingAndGlyphs" fill="#111">All proximal</text>
<text x="217.35" y="1351.90" font-size="26.22" textLength="59.97" lengthAdjust="spacingAndGlyphs" fill="#111">peaks</text>
<text x="189.61" y="1385.10" font-size="26.22" textLength="114.89" lengthAdjust="spacingAndGlyphs" fill="#111">(TSS - 2kb)</text>
<text x="343.26" y="1318.70" font-size="26.22" textLength="83.69" lengthAdjust="spacingAndGlyphs" fill="#111">All distal</text>
<text x="354.25" y="1351.90" font-size="26.22" textLength="59.97" lengthAdjust="spacingAndGlyphs" fill="#111">peaks</text>
<text x="450.56" y="1318.70" font-size="26.22" textLength="151.14" lengthAdjust="spacingAndGlyphs" fill="#111">All differentially</text>
<text x="440.15" y="1351.90" font-size="26.22" textLength="171.15" lengthAdjust="spacingAndGlyphs" fill="#111">accessible peaks</text>
<text x="652.18" y="1318.70" font-size="26.22" textLength="27.49" lengthAdjust="spacingAndGlyphs" fill="#111">K1</text>
<text x="792.20" y="1318.70" font-size="26.22" textLength="27.49" lengthAdjust="spacingAndGlyphs" fill="#111">K2</text>
<text x="932.13" y="1318.70" font-size="26.22" textLength="27.49" lengthAdjust="spacingAndGlyphs" fill="#111">K3</text>
<text x="1071.96" y="1318.70" font-size="26.22" textLength="27.49" lengthAdjust="spacingAndGlyphs" fill="#111">K4</text>
<text x="1212.11" y="1318.70" font-size="26.22" textLength="27.49" lengthAdjust="spacingAndGlyphs" fill="#111">K5</text>
<text x="1352.13" y="1318.70" font-size="26.22" textLength="27.49" lengthAdjust="spacingAndGlyphs" fill="#111">K6</text>
<text x="1492.20" y="1318.70" font-size="26.22" textLength="27.49" lengthAdjust="spacingAndGlyphs" fill="#111">K7</text>
<text x="1632.12" y="1318.70" font-size="26.22" textLength="27.49" lengthAdjust="spacingAndGlyphs" fill="#111">K8</text>
<text x="1772.17" y="1318.70" font-size="26.22" textLength="27.49" lengthAdjust="spacingAndGlyphs" fill="#111">K9</text>
<text x="1905.82" y="1318.70" font-size="26.22" textLength="39.99" lengthAdjust="spacingAndGlyphs" fill="#111">K10</text>
<line x1="642.8" y1="1345.2" x2="1969.1" y2="1345.2" stroke="#333" stroke-width="2.4"/>
<text x="916.85" y="1385.10" font-size="26.22" textLength="771.35" lengthAdjust="spacingAndGlyphs" fill="#111">K-means clusters of peaks derived from P56 scATAC-seq data (as in Fig. 2e)</text>
</svg></body></html>
